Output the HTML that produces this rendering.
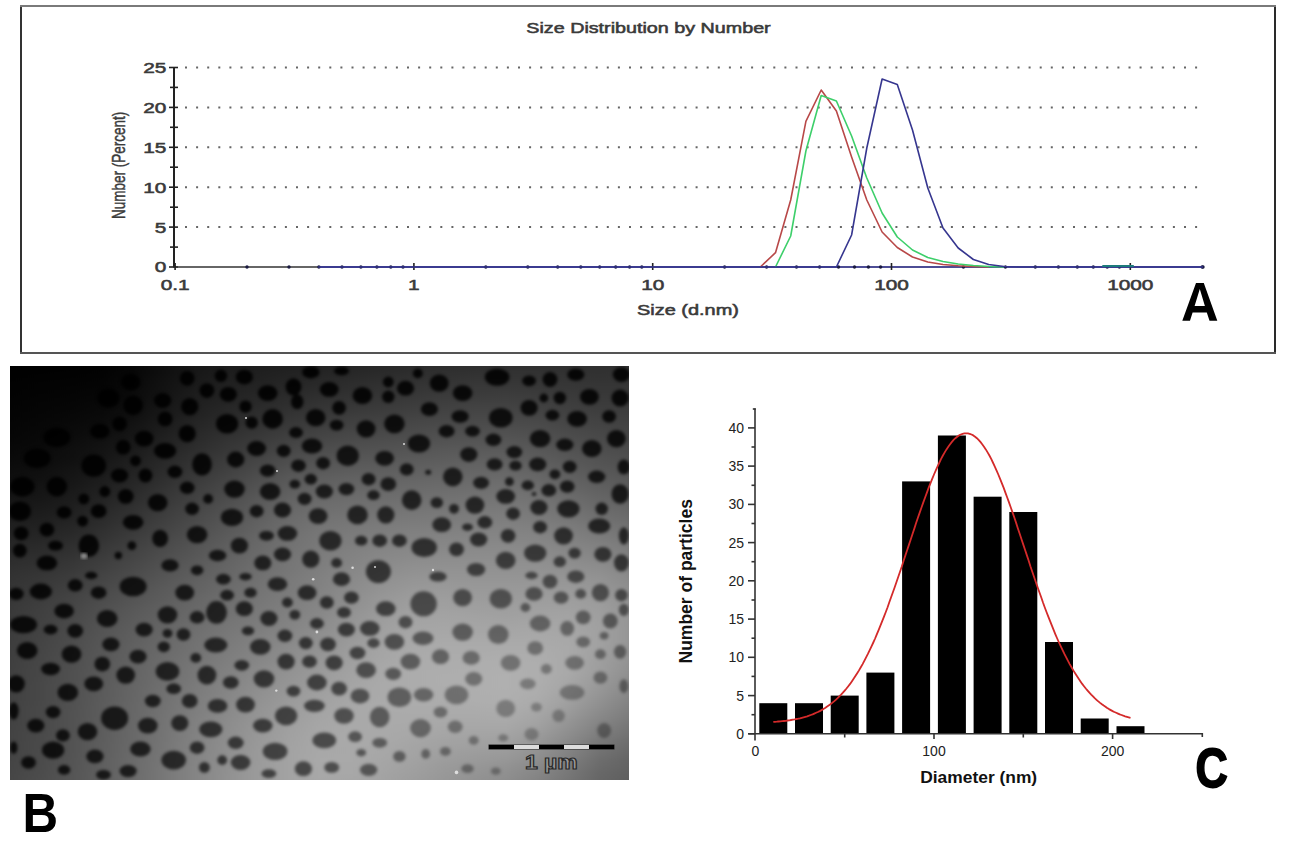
<!DOCTYPE html>
<html><head><meta charset="utf-8"><style>
html,body{margin:0;padding:0;background:#fff;width:1289px;height:841px;overflow:hidden}
svg{position:absolute;left:0;top:0;display:block;font-family:"Liberation Sans",sans-serif}
</style></head><body>
<svg width="1289" height="841" viewBox="0 0 1289 841">
<line x1="21" y1="5" x2="21" y2="354" stroke="#333" stroke-width="2"/>
<line x1="1275" y1="5" x2="1275" y2="354" stroke="#2a2a2a" stroke-width="2"/>
<line x1="20" y1="6" x2="1276" y2="6" stroke="#7a7a7a" stroke-width="2"/>
<line x1="20" y1="353" x2="1276" y2="353" stroke="#555" stroke-width="2"/>
<line x1="185" y1="227.1" x2="1203" y2="227.1" stroke="#666" stroke-width="2" stroke-dasharray="2 9.1"/>
<line x1="185" y1="187.2" x2="1203" y2="187.2" stroke="#666" stroke-width="2" stroke-dasharray="2 9.1"/>
<line x1="185" y1="147.3" x2="1203" y2="147.3" stroke="#666" stroke-width="2" stroke-dasharray="2 9.1"/>
<line x1="185" y1="107.4" x2="1203" y2="107.4" stroke="#666" stroke-width="2" stroke-dasharray="2 9.1"/>
<line x1="185" y1="67.5" x2="1203" y2="67.5" stroke="#666" stroke-width="2" stroke-dasharray="2 9.1"/>
<line x1="174" y1="67" x2="174" y2="267.5" stroke="#222" stroke-width="2"/>
<line x1="169" y1="267.0" x2="178" y2="267.0" stroke="#222" stroke-width="1.6"/>
<line x1="170" y1="247.1" x2="178" y2="247.1" stroke="#222" stroke-width="1.6"/>
<line x1="169" y1="227.1" x2="178" y2="227.1" stroke="#222" stroke-width="1.6"/>
<line x1="170" y1="207.2" x2="178" y2="207.2" stroke="#222" stroke-width="1.6"/>
<line x1="169" y1="187.2" x2="178" y2="187.2" stroke="#222" stroke-width="1.6"/>
<line x1="170" y1="167.2" x2="178" y2="167.2" stroke="#222" stroke-width="1.6"/>
<line x1="169" y1="147.3" x2="178" y2="147.3" stroke="#222" stroke-width="1.6"/>
<line x1="170" y1="127.3" x2="178" y2="127.3" stroke="#222" stroke-width="1.6"/>
<line x1="169" y1="107.4" x2="178" y2="107.4" stroke="#222" stroke-width="1.6"/>
<line x1="170" y1="87.4" x2="178" y2="87.4" stroke="#222" stroke-width="1.6"/>
<line x1="169" y1="67.5" x2="178" y2="67.5" stroke="#222" stroke-width="1.6"/>
<line x1="174" y1="267" x2="1203" y2="267" stroke="#333" stroke-width="1.6"/>
<line x1="318.9" y1="267" x2="1203" y2="267" stroke="#4646a6" stroke-width="1.3"/>
<line x1="175.1" y1="263" x2="175.1" y2="270" stroke="#222" stroke-width="1.6"/>
<circle cx="247.0" cy="267" r="1.7" fill="#1a1a40"/>
<circle cx="289.0" cy="267" r="1.7" fill="#1a1a40"/>
<circle cx="318.9" cy="267" r="1.7" fill="#1a1a40"/>
<circle cx="342.0" cy="267" r="1.7" fill="#1a1a40"/>
<circle cx="360.9" cy="267" r="1.7" fill="#1a1a40"/>
<circle cx="376.9" cy="267" r="1.7" fill="#1a1a40"/>
<circle cx="390.8" cy="267" r="1.7" fill="#1a1a40"/>
<circle cx="403.0" cy="267" r="1.7" fill="#1a1a40"/>
<line x1="413.9" y1="263" x2="413.9" y2="270" stroke="#222" stroke-width="1.6"/>
<circle cx="485.8" cy="267" r="1.7" fill="#1a1a40"/>
<circle cx="527.8" cy="267" r="1.7" fill="#1a1a40"/>
<circle cx="557.7" cy="267" r="1.7" fill="#1a1a40"/>
<circle cx="580.8" cy="267" r="1.7" fill="#1a1a40"/>
<circle cx="599.7" cy="267" r="1.7" fill="#1a1a40"/>
<circle cx="615.7" cy="267" r="1.7" fill="#1a1a40"/>
<circle cx="629.6" cy="267" r="1.7" fill="#1a1a40"/>
<circle cx="641.8" cy="267" r="1.7" fill="#1a1a40"/>
<line x1="652.7" y1="263" x2="652.7" y2="270" stroke="#222" stroke-width="1.6"/>
<circle cx="724.6" cy="267" r="1.7" fill="#1a1a40"/>
<circle cx="766.6" cy="267" r="1.7" fill="#1a1a40"/>
<circle cx="796.5" cy="267" r="1.7" fill="#1a1a40"/>
<circle cx="819.6" cy="267" r="1.7" fill="#1a1a40"/>
<circle cx="838.5" cy="267" r="1.7" fill="#1a1a40"/>
<circle cx="854.5" cy="267" r="1.7" fill="#1a1a40"/>
<circle cx="868.4" cy="267" r="1.7" fill="#1a1a40"/>
<circle cx="880.6" cy="267" r="1.7" fill="#1a1a40"/>
<line x1="891.5" y1="263" x2="891.5" y2="270" stroke="#222" stroke-width="1.6"/>
<circle cx="963.4" cy="267" r="1.7" fill="#1a1a40"/>
<circle cx="1005.4" cy="267" r="1.7" fill="#1a1a40"/>
<circle cx="1035.3" cy="267" r="1.7" fill="#1a1a40"/>
<circle cx="1058.4" cy="267" r="1.7" fill="#1a1a40"/>
<circle cx="1077.3" cy="267" r="1.7" fill="#1a1a40"/>
<circle cx="1093.3" cy="267" r="1.7" fill="#1a1a40"/>
<circle cx="1107.2" cy="267" r="1.7" fill="#1a1a40"/>
<circle cx="1119.4" cy="267" r="1.7" fill="#1a1a40"/>
<line x1="1130.3" y1="263" x2="1130.3" y2="270" stroke="#222" stroke-width="1.6"/>
<circle cx="1202.2" cy="267" r="1.7" fill="#1a1a40"/>
<circle cx="1203" cy="267" r="1.7" fill="#1a1a40"/>
<text x="0" y="0" font-family="Liberation Sans" fill="#3a3a3a" stroke="#3a3a3a" stroke-width="0.55" font-size="15.3" text-anchor="end" transform="translate(166.3 272.4) scale(1.36 1)">0</text>
<text x="0" y="0" font-family="Liberation Sans" fill="#3a3a3a" stroke="#3a3a3a" stroke-width="0.55" font-size="15.3" text-anchor="end" transform="translate(166.3 232.5) scale(1.36 1)">5</text>
<text x="0" y="0" font-family="Liberation Sans" fill="#3a3a3a" stroke="#3a3a3a" stroke-width="0.55" font-size="15.3" text-anchor="end" transform="translate(166.3 192.6) scale(1.36 1)">10</text>
<text x="0" y="0" font-family="Liberation Sans" fill="#3a3a3a" stroke="#3a3a3a" stroke-width="0.55" font-size="15.3" text-anchor="end" transform="translate(166.3 152.7) scale(1.36 1)">15</text>
<text x="0" y="0" font-family="Liberation Sans" fill="#3a3a3a" stroke="#3a3a3a" stroke-width="0.55" font-size="15.3" text-anchor="end" transform="translate(166.3 112.8) scale(1.36 1)">20</text>
<text x="0" y="0" font-family="Liberation Sans" fill="#3a3a3a" stroke="#3a3a3a" stroke-width="0.55" font-size="15.3" text-anchor="end" transform="translate(166.3 72.9) scale(1.36 1)">25</text>
<text x="0" y="0" font-family="Liberation Sans" fill="#3a3a3a" stroke="#3a3a3a" stroke-width="0.55" font-size="15.3" text-anchor="middle" transform="translate(175.1 290) scale(1.36 1)">0.1</text>
<text x="0" y="0" font-family="Liberation Sans" fill="#3a3a3a" stroke="#3a3a3a" stroke-width="0.55" font-size="15.3" text-anchor="middle" transform="translate(413.9 290) scale(1.36 1)">1</text>
<text x="0" y="0" font-family="Liberation Sans" fill="#3a3a3a" stroke="#3a3a3a" stroke-width="0.55" font-size="15.3" text-anchor="middle" transform="translate(652.7 290) scale(1.36 1)">10</text>
<text x="0" y="0" font-family="Liberation Sans" fill="#3a3a3a" stroke="#3a3a3a" stroke-width="0.55" font-size="15.3" text-anchor="middle" transform="translate(891.5 290) scale(1.36 1)">100</text>
<text x="0" y="0" font-family="Liberation Sans" fill="#3a3a3a" stroke="#3a3a3a" stroke-width="0.55" font-size="15.3" text-anchor="middle" transform="translate(1130.3 290) scale(1.36 1)">1000</text>
<text x="0" y="0" font-family="Liberation Sans" font-size="15" fill="#3a3a3a" stroke="#3a3a3a" stroke-width="0.55" text-anchor="middle" transform="translate(648.5 32.8) scale(1.315 1)">Size Distribution by Number</text>
<text x="0" y="0" font-family="Liberation Sans" font-size="15" fill="#3a3a3a" stroke="#3a3a3a" stroke-width="0.55" text-anchor="middle" transform="translate(688 314.7) scale(1.33 1)">Size (d.nm)</text>
<text x="0" y="0" font-family="Liberation Sans" font-size="15" fill="#3a3a3a" stroke="#3a3a3a" stroke-width="0.4" text-anchor="middle" transform="translate(124.7 165.3) rotate(-90) scale(0.9 1.21)">Number (Percent)</text>
<path d="M1182.3 320.8 L1196 282.9 L1203.8 282.9 L1217.3 320.8 L1209.5 320.8 L1206.8 312.5 L1192.6 312.5 L1190 320.8 Z M1194.6 305.9 L1204.9 305.9 L1199.8 289 Z" fill="#000" fill-rule="evenodd"/>
<polyline fill="none" stroke="#b84848" stroke-width="1.6" stroke-linejoin="round" points="760.3,267.0 775.5,252.7 790.7,200.0 805.9,121.4 821.2,90.0 836.4,111.0 851.6,157.0 866.8,200.0 882.1,232.0 897.3,247.5 912.5,257.0 927.8,262.0 943.0,264.5 958.2,265.8 973.4,266.5 988.7,267.0"/>
<polyline fill="none" stroke="#3dcf6a" stroke-width="1.6" stroke-linejoin="round" points="775.5,267.0 790.7,236.0 805.9,151.0 821.2,95.5 836.4,101.0 851.6,136.0 866.8,178.0 882.1,213.0 897.3,237.0 912.5,250.0 927.8,257.5 943.0,261.5 958.2,264.0 973.4,265.5 988.7,266.5 1003.9,267.0"/>
<polyline fill="none" stroke="#36368f" stroke-width="1.6" stroke-linejoin="round" points="318.2,267.0 836.4,267.0 851.6,235.0 866.8,148.0 882.1,79.0 897.3,84.5 912.5,130.0 927.8,188.0 943.0,228.0 958.2,248.0 973.4,259.5 988.7,264.5 1003.9,266.5 1019.0,267.0 1203.0,267.0"/>
<line x1="1102.3" y1="266" x2="1133.8" y2="266" stroke="#1d7b7b" stroke-width="2"/>
<rect x="759.3" y="703.2" width="28" height="30.6" fill="#000"/>
<rect x="795.0" y="703.2" width="28" height="30.6" fill="#000"/>
<rect x="830.7" y="695.6" width="28" height="38.2" fill="#000"/>
<rect x="866.4" y="672.6" width="28" height="61.2" fill="#000"/>
<rect x="902.1" y="481.4" width="28" height="252.4" fill="#000"/>
<rect x="937.9" y="435.5" width="28" height="298.3" fill="#000"/>
<rect x="973.6" y="496.7" width="28" height="237.1" fill="#000"/>
<rect x="1009.3" y="512.0" width="28" height="221.8" fill="#000"/>
<rect x="1045.0" y="642.0" width="28" height="91.8" fill="#000"/>
<rect x="1080.7" y="718.5" width="28" height="15.3" fill="#000"/>
<rect x="1116.5" y="726.2" width="28" height="7.6" fill="#000"/>
<line x1="755" y1="408.5" x2="755" y2="740.5" stroke="#333" stroke-width="1.6"/>
<line x1="752.8" y1="409" x2="755.8" y2="409" stroke="#333" stroke-width="1.6"/>
<line x1="748.5" y1="733.8" x2="1202.8" y2="733.8" stroke="#333" stroke-width="1.6"/>
<line x1="1202.3" y1="733" x2="1202.3" y2="737" stroke="#333" stroke-width="1.6"/>
<line x1="748" y1="733.8" x2="755" y2="733.8" stroke="#333" stroke-width="1.6"/>
<line x1="751.5" y1="714.7" x2="755" y2="714.7" stroke="#333" stroke-width="1.6"/>
<line x1="748" y1="695.6" x2="755" y2="695.6" stroke="#333" stroke-width="1.6"/>
<line x1="751.5" y1="676.4" x2="755" y2="676.4" stroke="#333" stroke-width="1.6"/>
<line x1="748" y1="657.3" x2="755" y2="657.3" stroke="#333" stroke-width="1.6"/>
<line x1="751.5" y1="638.2" x2="755" y2="638.2" stroke="#333" stroke-width="1.6"/>
<line x1="748" y1="619.1" x2="755" y2="619.1" stroke="#333" stroke-width="1.6"/>
<line x1="751.5" y1="600.0" x2="755" y2="600.0" stroke="#333" stroke-width="1.6"/>
<line x1="748" y1="580.8" x2="755" y2="580.8" stroke="#333" stroke-width="1.6"/>
<line x1="751.5" y1="561.7" x2="755" y2="561.7" stroke="#333" stroke-width="1.6"/>
<line x1="748" y1="542.6" x2="755" y2="542.6" stroke="#333" stroke-width="1.6"/>
<line x1="751.5" y1="523.5" x2="755" y2="523.5" stroke="#333" stroke-width="1.6"/>
<line x1="748" y1="504.4" x2="755" y2="504.4" stroke="#333" stroke-width="1.6"/>
<line x1="751.5" y1="485.3" x2="755" y2="485.3" stroke="#333" stroke-width="1.6"/>
<line x1="748" y1="466.1" x2="755" y2="466.1" stroke="#333" stroke-width="1.6"/>
<line x1="751.5" y1="447.0" x2="755" y2="447.0" stroke="#333" stroke-width="1.6"/>
<line x1="748" y1="427.9" x2="755" y2="427.9" stroke="#333" stroke-width="1.6"/>
<line x1="844.7" y1="733.8" x2="844.7" y2="737.5" stroke="#333" stroke-width="1.6"/>
<line x1="934.0" y1="733.8" x2="934.0" y2="739" stroke="#333" stroke-width="1.6"/>
<line x1="1023.3" y1="733.8" x2="1023.3" y2="737.5" stroke="#333" stroke-width="1.6"/>
<line x1="1112.6" y1="733.8" x2="1112.6" y2="739" stroke="#333" stroke-width="1.6"/>
<polyline fill="none" stroke="#d42a2a" stroke-width="1.8" stroke-linejoin="round" points="773.3,721.9 775.0,721.8 776.8,721.7 778.6,721.5 780.4,721.4 782.2,721.2 784.0,721.0 785.8,720.8 787.5,720.5 789.3,720.3 791.1,720.0 792.9,719.7 794.7,719.4 796.5,719.0 798.3,718.7 800.0,718.3 801.8,717.8 803.6,717.3 805.4,716.8 807.2,716.3 809.0,715.7 810.8,715.0 812.6,714.4 814.3,713.6 816.1,712.8 817.9,712.0 819.7,711.1 821.5,710.1 823.3,709.1 825.1,708.0 826.8,706.8 828.6,705.6 830.4,704.3 832.2,702.9 834.0,701.4 835.8,699.8 837.6,698.2 839.3,696.4 841.1,694.6 842.9,692.7 844.7,690.6 846.5,688.5 848.3,686.2 850.1,683.9 851.8,681.4 853.6,678.8 855.4,676.1 857.2,673.3 859.0,670.4 860.8,667.3 862.6,664.1 864.3,660.8 866.1,657.4 867.9,653.9 869.7,650.2 871.5,646.4 873.3,642.5 875.1,638.5 876.8,634.3 878.6,630.1 880.4,625.7 882.2,621.2 884.0,616.6 885.8,612.0 887.6,607.2 889.3,602.3 891.1,597.3 892.9,592.3 894.7,587.2 896.5,582.0 898.3,576.8 900.1,571.5 901.9,566.2 903.6,560.8 905.4,555.4 907.2,550.0 909.0,544.6 910.8,539.2 912.6,533.8 914.4,528.4 916.1,523.1 917.9,517.8 919.7,512.6 921.5,507.5 923.3,502.4 925.1,497.5 926.9,492.6 928.6,487.9 930.4,483.3 932.2,478.8 934.0,474.5 935.8,470.3 937.6,466.3 939.4,462.5 941.1,458.9 942.9,455.5 944.7,452.4 946.5,449.4 948.3,446.7 950.1,444.2 951.9,441.9 953.6,439.9 955.4,438.2 957.2,436.7 959.0,435.4 960.8,434.5 962.6,433.8 964.4,433.4 966.1,433.3 967.9,433.4 969.7,433.8 971.5,434.5 973.3,435.4 975.1,436.7 976.9,438.2 978.6,439.9 980.4,441.9 982.2,444.2 984.0,446.7 985.8,449.4 987.6,452.4 989.4,455.5 991.2,458.9 992.9,462.5 994.7,466.3 996.5,470.3 998.3,474.5 1000.1,478.8 1001.9,483.3 1003.7,487.9 1005.4,492.6 1007.2,497.5 1009.0,502.4 1010.8,507.5 1012.6,512.6 1014.4,517.8 1016.2,523.1 1017.9,528.4 1019.7,533.8 1021.5,539.2 1023.3,544.6 1025.1,550.0 1026.9,555.4 1028.7,560.8 1030.4,566.2 1032.2,571.5 1034.0,576.8 1035.8,582.0 1037.6,587.2 1039.4,592.3 1041.2,597.3 1042.9,602.3 1044.7,607.2 1046.5,612.0 1048.3,616.6 1050.1,621.2 1051.9,625.7 1053.7,630.1 1055.4,634.3 1057.2,638.5 1059.0,642.5 1060.8,646.4 1062.6,650.2 1064.4,653.9 1066.2,657.4 1068.0,660.8 1069.7,664.1 1071.5,667.3 1073.3,670.4 1075.1,673.3 1076.9,676.1 1078.7,678.8 1080.5,681.4 1082.2,683.9 1084.0,686.2 1085.8,688.5 1087.6,690.6 1089.4,692.7 1091.2,694.6 1093.0,696.4 1094.7,698.2 1096.5,699.8 1098.3,701.4 1100.1,702.9 1101.9,704.3 1103.7,705.6 1105.5,706.8 1107.2,708.0 1109.0,709.1 1110.8,710.1 1112.6,711.1 1114.4,712.0 1116.2,712.8 1118.0,713.6 1119.7,714.4 1121.5,715.0 1123.3,715.7 1125.1,716.3 1126.9,716.8 1128.7,717.3 1130.5,717.8"/>
<text x="744" y="738.8" font-family="Liberation Sans" fill="#222" font-size="14" text-anchor="end">0</text>
<text x="744" y="700.6" font-family="Liberation Sans" fill="#222" font-size="14" text-anchor="end">5</text>
<text x="744" y="662.3" font-family="Liberation Sans" fill="#222" font-size="14" text-anchor="end">10</text>
<text x="744" y="624.1" font-family="Liberation Sans" fill="#222" font-size="14" text-anchor="end">15</text>
<text x="744" y="585.8" font-family="Liberation Sans" fill="#222" font-size="14" text-anchor="end">20</text>
<text x="744" y="547.6" font-family="Liberation Sans" fill="#222" font-size="14" text-anchor="end">25</text>
<text x="744" y="509.4" font-family="Liberation Sans" fill="#222" font-size="14" text-anchor="end">30</text>
<text x="744" y="471.1" font-family="Liberation Sans" fill="#222" font-size="14" text-anchor="end">35</text>
<text x="744" y="432.9" font-family="Liberation Sans" fill="#222" font-size="14" text-anchor="end">40</text>
<text x="755.4" y="755.6" font-family="Liberation Sans" fill="#222" font-size="14" text-anchor="middle">0</text>
<text x="934.0" y="755.6" font-family="Liberation Sans" fill="#222" font-size="14" text-anchor="middle">100</text>
<text x="1112.6" y="755.6" font-family="Liberation Sans" fill="#222" font-size="14" text-anchor="middle">200</text>
<text x="978.7" y="783" font-family="Liberation Sans" font-weight="700" fill="#111" font-size="17.4" text-anchor="middle">Diameter (nm)</text>
<text x="0" y="0" font-family="Liberation Sans" font-weight="700" fill="#111" font-size="17.5" text-anchor="middle" transform="translate(692 581.3) rotate(-90)">Number of particles</text>
<text x="0" y="0" font-family="Liberation Sans" font-weight="700" fill="#000" font-size="55.8" stroke="#000" stroke-width="1.8" transform="translate(1195.5 787.1) scale(0.80 1)">C</text>
<text x="0" y="0" font-family="Liberation Sans" font-weight="700" fill="#000" font-size="56.3" transform="translate(22.5 831.8) scale(0.875 1)">B</text>
<defs>
<clipPath id="tc"><rect x="10" y="366" width="619" height="414"/></clipPath>
<filter id="bl" color-interpolation-filters="sRGB" x="-5%" y="-5%" width="110%" height="110%"><feGaussianBlur stdDeviation="1.5"/></filter>
<filter id="bv" color-interpolation-filters="sRGB" x="0" y="-5%" width="100%" height="110%"><feGaussianBlur stdDeviation="0 2"/></filter>
<linearGradient id="s0" gradientUnits="objectBoundingBox" x1="0" y1="0" x2="1" y2="0"><stop offset="0.000" stop-color="#000000"/><stop offset="0.050" stop-color="#010101"/><stop offset="0.100" stop-color="#010101"/><stop offset="0.150" stop-color="#020202"/><stop offset="0.200" stop-color="#070707"/><stop offset="0.250" stop-color="#0e0e0e"/><stop offset="0.300" stop-color="#161616"/><stop offset="0.351" stop-color="#1b1b1b"/><stop offset="0.401" stop-color="#1d1d1d"/><stop offset="0.451" stop-color="#202020"/><stop offset="0.501" stop-color="#222222"/><stop offset="0.551" stop-color="#252525"/><stop offset="0.601" stop-color="#282828"/><stop offset="0.651" stop-color="#2b2b2b"/><stop offset="0.701" stop-color="#2d2d2d"/><stop offset="0.751" stop-color="#2f2f2f"/><stop offset="0.801" stop-color="#2f2f2f"/><stop offset="0.851" stop-color="#2f2f2f"/><stop offset="0.901" stop-color="#2f2f2f"/><stop offset="0.952" stop-color="#2f2f2f"/><stop offset="1.000" stop-color="#303030"/></linearGradient>
<linearGradient id="s1" gradientUnits="objectBoundingBox" x1="0" y1="0" x2="1" y2="0"><stop offset="0.000" stop-color="#000000"/><stop offset="0.050" stop-color="#010101"/><stop offset="0.100" stop-color="#010101"/><stop offset="0.150" stop-color="#020202"/><stop offset="0.200" stop-color="#070707"/><stop offset="0.250" stop-color="#0e0e0e"/><stop offset="0.300" stop-color="#161616"/><stop offset="0.351" stop-color="#1b1b1b"/><stop offset="0.401" stop-color="#1d1d1d"/><stop offset="0.451" stop-color="#202020"/><stop offset="0.501" stop-color="#222222"/><stop offset="0.551" stop-color="#252525"/><stop offset="0.601" stop-color="#282828"/><stop offset="0.651" stop-color="#2b2b2b"/><stop offset="0.701" stop-color="#2d2d2d"/><stop offset="0.751" stop-color="#2f2f2f"/><stop offset="0.801" stop-color="#2f2f2f"/><stop offset="0.851" stop-color="#2f2f2f"/><stop offset="0.901" stop-color="#2f2f2f"/><stop offset="0.952" stop-color="#2f2f2f"/><stop offset="1.000" stop-color="#303030"/></linearGradient>
<linearGradient id="s2" gradientUnits="objectBoundingBox" x1="0" y1="0" x2="1" y2="0"><stop offset="0.000" stop-color="#000000"/><stop offset="0.050" stop-color="#010101"/><stop offset="0.100" stop-color="#010101"/><stop offset="0.150" stop-color="#020202"/><stop offset="0.200" stop-color="#070707"/><stop offset="0.250" stop-color="#0f0f0f"/><stop offset="0.300" stop-color="#171717"/><stop offset="0.351" stop-color="#1c1c1c"/><stop offset="0.401" stop-color="#1e1e1e"/><stop offset="0.451" stop-color="#202020"/><stop offset="0.501" stop-color="#232323"/><stop offset="0.551" stop-color="#262626"/><stop offset="0.601" stop-color="#292929"/><stop offset="0.651" stop-color="#2c2c2c"/><stop offset="0.701" stop-color="#2e2e2e"/><stop offset="0.751" stop-color="#2f2f2f"/><stop offset="0.801" stop-color="#303030"/><stop offset="0.851" stop-color="#303030"/><stop offset="0.901" stop-color="#303030"/><stop offset="0.952" stop-color="#303030"/><stop offset="1.000" stop-color="#313131"/></linearGradient>
<linearGradient id="s3" gradientUnits="objectBoundingBox" x1="0" y1="0" x2="1" y2="0"><stop offset="0.000" stop-color="#010101"/><stop offset="0.050" stop-color="#010101"/><stop offset="0.100" stop-color="#020202"/><stop offset="0.150" stop-color="#030303"/><stop offset="0.200" stop-color="#070707"/><stop offset="0.250" stop-color="#0f0f0f"/><stop offset="0.300" stop-color="#171717"/><stop offset="0.351" stop-color="#1d1d1d"/><stop offset="0.401" stop-color="#1f1f1f"/><stop offset="0.451" stop-color="#222222"/><stop offset="0.501" stop-color="#242424"/><stop offset="0.551" stop-color="#272727"/><stop offset="0.601" stop-color="#2a2a2a"/><stop offset="0.651" stop-color="#2d2d2d"/><stop offset="0.701" stop-color="#303030"/><stop offset="0.751" stop-color="#313131"/><stop offset="0.801" stop-color="#323232"/><stop offset="0.851" stop-color="#323232"/><stop offset="0.901" stop-color="#313131"/><stop offset="0.952" stop-color="#313131"/><stop offset="1.000" stop-color="#323232"/></linearGradient>
<linearGradient id="s4" gradientUnits="objectBoundingBox" x1="0" y1="0" x2="1" y2="0"><stop offset="0.000" stop-color="#010101"/><stop offset="0.050" stop-color="#020202"/><stop offset="0.100" stop-color="#020202"/><stop offset="0.150" stop-color="#030303"/><stop offset="0.200" stop-color="#080808"/><stop offset="0.250" stop-color="#101010"/><stop offset="0.300" stop-color="#181818"/><stop offset="0.351" stop-color="#1e1e1e"/><stop offset="0.401" stop-color="#202020"/><stop offset="0.451" stop-color="#232323"/><stop offset="0.501" stop-color="#262626"/><stop offset="0.551" stop-color="#292929"/><stop offset="0.601" stop-color="#2c2c2c"/><stop offset="0.651" stop-color="#2f2f2f"/><stop offset="0.701" stop-color="#313131"/><stop offset="0.751" stop-color="#333333"/><stop offset="0.801" stop-color="#333333"/><stop offset="0.851" stop-color="#333333"/><stop offset="0.901" stop-color="#333333"/><stop offset="0.952" stop-color="#323232"/><stop offset="1.000" stop-color="#333333"/></linearGradient>
<linearGradient id="s5" gradientUnits="objectBoundingBox" x1="0" y1="0" x2="1" y2="0"><stop offset="0.000" stop-color="#010101"/><stop offset="0.050" stop-color="#020202"/><stop offset="0.100" stop-color="#030303"/><stop offset="0.150" stop-color="#040404"/><stop offset="0.200" stop-color="#090909"/><stop offset="0.250" stop-color="#111111"/><stop offset="0.300" stop-color="#191919"/><stop offset="0.351" stop-color="#1f1f1f"/><stop offset="0.401" stop-color="#212121"/><stop offset="0.451" stop-color="#252525"/><stop offset="0.501" stop-color="#282828"/><stop offset="0.551" stop-color="#2b2b2b"/><stop offset="0.601" stop-color="#2e2e2e"/><stop offset="0.651" stop-color="#313131"/><stop offset="0.701" stop-color="#333333"/><stop offset="0.751" stop-color="#353535"/><stop offset="0.801" stop-color="#353535"/><stop offset="0.851" stop-color="#353535"/><stop offset="0.901" stop-color="#343434"/><stop offset="0.952" stop-color="#333333"/><stop offset="1.000" stop-color="#343434"/></linearGradient>
<linearGradient id="s6" gradientUnits="objectBoundingBox" x1="0" y1="0" x2="1" y2="0"><stop offset="0.000" stop-color="#020202"/><stop offset="0.050" stop-color="#030303"/><stop offset="0.100" stop-color="#030303"/><stop offset="0.150" stop-color="#040404"/><stop offset="0.200" stop-color="#090909"/><stop offset="0.250" stop-color="#121212"/><stop offset="0.300" stop-color="#1a1a1a"/><stop offset="0.351" stop-color="#202020"/><stop offset="0.401" stop-color="#232323"/><stop offset="0.451" stop-color="#262626"/><stop offset="0.501" stop-color="#292929"/><stop offset="0.551" stop-color="#2d2d2d"/><stop offset="0.601" stop-color="#303030"/><stop offset="0.651" stop-color="#333333"/><stop offset="0.701" stop-color="#353535"/><stop offset="0.751" stop-color="#373737"/><stop offset="0.801" stop-color="#373737"/><stop offset="0.851" stop-color="#373737"/><stop offset="0.901" stop-color="#363636"/><stop offset="0.952" stop-color="#353535"/><stop offset="1.000" stop-color="#353535"/></linearGradient>
<linearGradient id="s7" gradientUnits="objectBoundingBox" x1="0" y1="0" x2="1" y2="0"><stop offset="0.000" stop-color="#020202"/><stop offset="0.050" stop-color="#030303"/><stop offset="0.100" stop-color="#040404"/><stop offset="0.150" stop-color="#050505"/><stop offset="0.200" stop-color="#0a0a0a"/><stop offset="0.250" stop-color="#121212"/><stop offset="0.300" stop-color="#1b1b1b"/><stop offset="0.351" stop-color="#212121"/><stop offset="0.401" stop-color="#242424"/><stop offset="0.451" stop-color="#282828"/><stop offset="0.501" stop-color="#2b2b2b"/><stop offset="0.551" stop-color="#2e2e2e"/><stop offset="0.601" stop-color="#323232"/><stop offset="0.651" stop-color="#353535"/><stop offset="0.701" stop-color="#373737"/><stop offset="0.751" stop-color="#393939"/><stop offset="0.801" stop-color="#393939"/><stop offset="0.851" stop-color="#383838"/><stop offset="0.901" stop-color="#373737"/><stop offset="0.952" stop-color="#363636"/><stop offset="1.000" stop-color="#363636"/></linearGradient>
<linearGradient id="s8" gradientUnits="objectBoundingBox" x1="0" y1="0" x2="1" y2="0"><stop offset="0.000" stop-color="#020202"/><stop offset="0.050" stop-color="#030303"/><stop offset="0.100" stop-color="#040404"/><stop offset="0.150" stop-color="#060606"/><stop offset="0.200" stop-color="#0b0b0b"/><stop offset="0.250" stop-color="#131313"/><stop offset="0.300" stop-color="#1c1c1c"/><stop offset="0.351" stop-color="#222222"/><stop offset="0.401" stop-color="#252525"/><stop offset="0.451" stop-color="#292929"/><stop offset="0.501" stop-color="#2d2d2d"/><stop offset="0.551" stop-color="#303030"/><stop offset="0.601" stop-color="#333333"/><stop offset="0.651" stop-color="#363636"/><stop offset="0.701" stop-color="#393939"/><stop offset="0.751" stop-color="#3a3a3a"/><stop offset="0.801" stop-color="#3b3b3b"/><stop offset="0.851" stop-color="#3a3a3a"/><stop offset="0.901" stop-color="#393939"/><stop offset="0.952" stop-color="#373737"/><stop offset="1.000" stop-color="#373737"/></linearGradient>
<linearGradient id="s9" gradientUnits="objectBoundingBox" x1="0" y1="0" x2="1" y2="0"><stop offset="0.000" stop-color="#020202"/><stop offset="0.050" stop-color="#040404"/><stop offset="0.100" stop-color="#050505"/><stop offset="0.150" stop-color="#060606"/><stop offset="0.200" stop-color="#0b0b0b"/><stop offset="0.250" stop-color="#141414"/><stop offset="0.300" stop-color="#1d1d1d"/><stop offset="0.351" stop-color="#232323"/><stop offset="0.401" stop-color="#272727"/><stop offset="0.451" stop-color="#2b2b2b"/><stop offset="0.501" stop-color="#2f2f2f"/><stop offset="0.551" stop-color="#323232"/><stop offset="0.601" stop-color="#353535"/><stop offset="0.651" stop-color="#383838"/><stop offset="0.701" stop-color="#3b3b3b"/><stop offset="0.751" stop-color="#3c3c3c"/><stop offset="0.801" stop-color="#3d3d3d"/><stop offset="0.851" stop-color="#3c3c3c"/><stop offset="0.901" stop-color="#3a3a3a"/><stop offset="0.952" stop-color="#393939"/><stop offset="1.000" stop-color="#383838"/></linearGradient>
<linearGradient id="s10" gradientUnits="objectBoundingBox" x1="0" y1="0" x2="1" y2="0"><stop offset="0.000" stop-color="#030303"/><stop offset="0.050" stop-color="#040404"/><stop offset="0.100" stop-color="#050505"/><stop offset="0.150" stop-color="#070707"/><stop offset="0.200" stop-color="#0c0c0c"/><stop offset="0.250" stop-color="#151515"/><stop offset="0.300" stop-color="#1e1e1e"/><stop offset="0.351" stop-color="#242424"/><stop offset="0.401" stop-color="#282828"/><stop offset="0.451" stop-color="#2d2d2d"/><stop offset="0.501" stop-color="#313131"/><stop offset="0.551" stop-color="#343434"/><stop offset="0.601" stop-color="#373737"/><stop offset="0.651" stop-color="#3a3a3a"/><stop offset="0.701" stop-color="#3d3d3d"/><stop offset="0.751" stop-color="#3e3e3e"/><stop offset="0.801" stop-color="#3f3f3f"/><stop offset="0.851" stop-color="#3e3e3e"/><stop offset="0.901" stop-color="#3c3c3c"/><stop offset="0.952" stop-color="#3a3a3a"/><stop offset="1.000" stop-color="#3a3a3a"/></linearGradient>
<linearGradient id="s11" gradientUnits="objectBoundingBox" x1="0" y1="0" x2="1" y2="0"><stop offset="0.000" stop-color="#030303"/><stop offset="0.050" stop-color="#050505"/><stop offset="0.100" stop-color="#060606"/><stop offset="0.150" stop-color="#080808"/><stop offset="0.200" stop-color="#0d0d0d"/><stop offset="0.250" stop-color="#161616"/><stop offset="0.300" stop-color="#1f1f1f"/><stop offset="0.351" stop-color="#252525"/><stop offset="0.401" stop-color="#292929"/><stop offset="0.451" stop-color="#2e2e2e"/><stop offset="0.501" stop-color="#333333"/><stop offset="0.551" stop-color="#363636"/><stop offset="0.601" stop-color="#393939"/><stop offset="0.651" stop-color="#3c3c3c"/><stop offset="0.701" stop-color="#3f3f3f"/><stop offset="0.751" stop-color="#414141"/><stop offset="0.801" stop-color="#414141"/><stop offset="0.851" stop-color="#404040"/><stop offset="0.901" stop-color="#3e3e3e"/><stop offset="0.952" stop-color="#3b3b3b"/><stop offset="1.000" stop-color="#3b3b3b"/></linearGradient>
<linearGradient id="s12" gradientUnits="objectBoundingBox" x1="0" y1="0" x2="1" y2="0"><stop offset="0.000" stop-color="#030303"/><stop offset="0.050" stop-color="#050505"/><stop offset="0.100" stop-color="#060606"/><stop offset="0.150" stop-color="#090909"/><stop offset="0.200" stop-color="#0e0e0e"/><stop offset="0.250" stop-color="#171717"/><stop offset="0.300" stop-color="#202020"/><stop offset="0.351" stop-color="#272727"/><stop offset="0.401" stop-color="#2b2b2b"/><stop offset="0.451" stop-color="#303030"/><stop offset="0.501" stop-color="#353535"/><stop offset="0.551" stop-color="#383838"/><stop offset="0.601" stop-color="#3b3b3b"/><stop offset="0.651" stop-color="#3e3e3e"/><stop offset="0.701" stop-color="#414141"/><stop offset="0.751" stop-color="#434343"/><stop offset="0.801" stop-color="#434343"/><stop offset="0.851" stop-color="#424242"/><stop offset="0.901" stop-color="#3f3f3f"/><stop offset="0.952" stop-color="#3d3d3d"/><stop offset="1.000" stop-color="#3c3c3c"/></linearGradient>
<linearGradient id="s13" gradientUnits="objectBoundingBox" x1="0" y1="0" x2="1" y2="0"><stop offset="0.000" stop-color="#040404"/><stop offset="0.050" stop-color="#050505"/><stop offset="0.100" stop-color="#070707"/><stop offset="0.150" stop-color="#090909"/><stop offset="0.200" stop-color="#0f0f0f"/><stop offset="0.250" stop-color="#181818"/><stop offset="0.300" stop-color="#212121"/><stop offset="0.351" stop-color="#282828"/><stop offset="0.401" stop-color="#2d2d2d"/><stop offset="0.451" stop-color="#323232"/><stop offset="0.501" stop-color="#373737"/><stop offset="0.551" stop-color="#3a3a3a"/><stop offset="0.601" stop-color="#3d3d3d"/><stop offset="0.651" stop-color="#404040"/><stop offset="0.701" stop-color="#434343"/><stop offset="0.751" stop-color="#454545"/><stop offset="0.801" stop-color="#454545"/><stop offset="0.851" stop-color="#444444"/><stop offset="0.901" stop-color="#414141"/><stop offset="0.952" stop-color="#3e3e3e"/><stop offset="1.000" stop-color="#3d3d3d"/></linearGradient>
<linearGradient id="s14" gradientUnits="objectBoundingBox" x1="0" y1="0" x2="1" y2="0"><stop offset="0.000" stop-color="#040404"/><stop offset="0.050" stop-color="#060606"/><stop offset="0.100" stop-color="#080808"/><stop offset="0.150" stop-color="#0a0a0a"/><stop offset="0.200" stop-color="#101010"/><stop offset="0.250" stop-color="#191919"/><stop offset="0.300" stop-color="#222222"/><stop offset="0.351" stop-color="#292929"/><stop offset="0.401" stop-color="#2e2e2e"/><stop offset="0.451" stop-color="#343434"/><stop offset="0.501" stop-color="#393939"/><stop offset="0.551" stop-color="#3d3d3d"/><stop offset="0.601" stop-color="#3f3f3f"/><stop offset="0.651" stop-color="#424242"/><stop offset="0.701" stop-color="#454545"/><stop offset="0.751" stop-color="#474747"/><stop offset="0.801" stop-color="#474747"/><stop offset="0.851" stop-color="#464646"/><stop offset="0.901" stop-color="#434343"/><stop offset="0.952" stop-color="#404040"/><stop offset="1.000" stop-color="#3f3f3f"/></linearGradient>
<linearGradient id="s15" gradientUnits="objectBoundingBox" x1="0" y1="0" x2="1" y2="0"><stop offset="0.000" stop-color="#040404"/><stop offset="0.050" stop-color="#060606"/><stop offset="0.100" stop-color="#080808"/><stop offset="0.150" stop-color="#0b0b0b"/><stop offset="0.200" stop-color="#111111"/><stop offset="0.250" stop-color="#1b1b1b"/><stop offset="0.300" stop-color="#242424"/><stop offset="0.351" stop-color="#2b2b2b"/><stop offset="0.401" stop-color="#303030"/><stop offset="0.451" stop-color="#363636"/><stop offset="0.501" stop-color="#3b3b3b"/><stop offset="0.551" stop-color="#3f3f3f"/><stop offset="0.601" stop-color="#424242"/><stop offset="0.651" stop-color="#454545"/><stop offset="0.701" stop-color="#474747"/><stop offset="0.751" stop-color="#494949"/><stop offset="0.801" stop-color="#494949"/><stop offset="0.851" stop-color="#484848"/><stop offset="0.901" stop-color="#454545"/><stop offset="0.952" stop-color="#424242"/><stop offset="1.000" stop-color="#404040"/></linearGradient>
<linearGradient id="s16" gradientUnits="objectBoundingBox" x1="0" y1="0" x2="1" y2="0"><stop offset="0.000" stop-color="#050505"/><stop offset="0.050" stop-color="#070707"/><stop offset="0.100" stop-color="#090909"/><stop offset="0.150" stop-color="#0c0c0c"/><stop offset="0.200" stop-color="#131313"/><stop offset="0.250" stop-color="#1c1c1c"/><stop offset="0.300" stop-color="#252525"/><stop offset="0.351" stop-color="#2c2c2c"/><stop offset="0.401" stop-color="#323232"/><stop offset="0.451" stop-color="#383838"/><stop offset="0.501" stop-color="#3d3d3d"/><stop offset="0.551" stop-color="#414141"/><stop offset="0.601" stop-color="#444444"/><stop offset="0.651" stop-color="#474747"/><stop offset="0.701" stop-color="#494949"/><stop offset="0.751" stop-color="#4b4b4b"/><stop offset="0.801" stop-color="#4b4b4b"/><stop offset="0.851" stop-color="#4a4a4a"/><stop offset="0.901" stop-color="#464646"/><stop offset="0.952" stop-color="#434343"/><stop offset="1.000" stop-color="#424242"/></linearGradient>
<linearGradient id="s17" gradientUnits="objectBoundingBox" x1="0" y1="0" x2="1" y2="0"><stop offset="0.000" stop-color="#050505"/><stop offset="0.050" stop-color="#070707"/><stop offset="0.100" stop-color="#0a0a0a"/><stop offset="0.150" stop-color="#0d0d0d"/><stop offset="0.200" stop-color="#141414"/><stop offset="0.250" stop-color="#1d1d1d"/><stop offset="0.300" stop-color="#262626"/><stop offset="0.351" stop-color="#2e2e2e"/><stop offset="0.401" stop-color="#343434"/><stop offset="0.451" stop-color="#3a3a3a"/><stop offset="0.501" stop-color="#404040"/><stop offset="0.551" stop-color="#434343"/><stop offset="0.601" stop-color="#464646"/><stop offset="0.651" stop-color="#494949"/><stop offset="0.701" stop-color="#4c4c4c"/><stop offset="0.751" stop-color="#4d4d4d"/><stop offset="0.801" stop-color="#4e4e4e"/><stop offset="0.851" stop-color="#4c4c4c"/><stop offset="0.901" stop-color="#484848"/><stop offset="0.952" stop-color="#454545"/><stop offset="1.000" stop-color="#434343"/></linearGradient>
<linearGradient id="s18" gradientUnits="objectBoundingBox" x1="0" y1="0" x2="1" y2="0"><stop offset="0.000" stop-color="#050505"/><stop offset="0.050" stop-color="#080808"/><stop offset="0.100" stop-color="#0a0a0a"/><stop offset="0.150" stop-color="#0e0e0e"/><stop offset="0.200" stop-color="#151515"/><stop offset="0.250" stop-color="#1e1e1e"/><stop offset="0.300" stop-color="#282828"/><stop offset="0.351" stop-color="#2f2f2f"/><stop offset="0.401" stop-color="#363636"/><stop offset="0.451" stop-color="#3d3d3d"/><stop offset="0.501" stop-color="#424242"/><stop offset="0.551" stop-color="#464646"/><stop offset="0.601" stop-color="#484848"/><stop offset="0.651" stop-color="#4b4b4b"/><stop offset="0.701" stop-color="#4e4e4e"/><stop offset="0.751" stop-color="#505050"/><stop offset="0.801" stop-color="#505050"/><stop offset="0.851" stop-color="#4e4e4e"/><stop offset="0.901" stop-color="#4a4a4a"/><stop offset="0.952" stop-color="#474747"/><stop offset="1.000" stop-color="#444444"/></linearGradient>
<linearGradient id="s19" gradientUnits="objectBoundingBox" x1="0" y1="0" x2="1" y2="0"><stop offset="0.000" stop-color="#060606"/><stop offset="0.050" stop-color="#080808"/><stop offset="0.100" stop-color="#0b0b0b"/><stop offset="0.150" stop-color="#0f0f0f"/><stop offset="0.200" stop-color="#161616"/><stop offset="0.250" stop-color="#202020"/><stop offset="0.300" stop-color="#292929"/><stop offset="0.351" stop-color="#313131"/><stop offset="0.401" stop-color="#383838"/><stop offset="0.451" stop-color="#3f3f3f"/><stop offset="0.501" stop-color="#444444"/><stop offset="0.551" stop-color="#484848"/><stop offset="0.601" stop-color="#4a4a4a"/><stop offset="0.651" stop-color="#4d4d4d"/><stop offset="0.701" stop-color="#505050"/><stop offset="0.751" stop-color="#525252"/><stop offset="0.801" stop-color="#525252"/><stop offset="0.851" stop-color="#505050"/><stop offset="0.901" stop-color="#4c4c4c"/><stop offset="0.952" stop-color="#484848"/><stop offset="1.000" stop-color="#464646"/></linearGradient>
<linearGradient id="s20" gradientUnits="objectBoundingBox" x1="0" y1="0" x2="1" y2="0"><stop offset="0.000" stop-color="#060606"/><stop offset="0.050" stop-color="#090909"/><stop offset="0.100" stop-color="#0c0c0c"/><stop offset="0.150" stop-color="#111111"/><stop offset="0.200" stop-color="#181818"/><stop offset="0.250" stop-color="#212121"/><stop offset="0.300" stop-color="#2a2a2a"/><stop offset="0.351" stop-color="#333333"/><stop offset="0.401" stop-color="#3a3a3a"/><stop offset="0.451" stop-color="#414141"/><stop offset="0.501" stop-color="#474747"/><stop offset="0.551" stop-color="#4a4a4a"/><stop offset="0.601" stop-color="#4d4d4d"/><stop offset="0.651" stop-color="#4f4f4f"/><stop offset="0.701" stop-color="#525252"/><stop offset="0.751" stop-color="#545454"/><stop offset="0.801" stop-color="#555555"/><stop offset="0.851" stop-color="#525252"/><stop offset="0.901" stop-color="#4e4e4e"/><stop offset="0.952" stop-color="#4a4a4a"/><stop offset="1.000" stop-color="#474747"/></linearGradient>
<linearGradient id="s21" gradientUnits="objectBoundingBox" x1="0" y1="0" x2="1" y2="0"><stop offset="0.000" stop-color="#070707"/><stop offset="0.050" stop-color="#090909"/><stop offset="0.100" stop-color="#0d0d0d"/><stop offset="0.150" stop-color="#121212"/><stop offset="0.200" stop-color="#191919"/><stop offset="0.250" stop-color="#222222"/><stop offset="0.300" stop-color="#2c2c2c"/><stop offset="0.351" stop-color="#353535"/><stop offset="0.401" stop-color="#3c3c3c"/><stop offset="0.451" stop-color="#444444"/><stop offset="0.501" stop-color="#494949"/><stop offset="0.551" stop-color="#4d4d4d"/><stop offset="0.601" stop-color="#4f4f4f"/><stop offset="0.651" stop-color="#525252"/><stop offset="0.701" stop-color="#545454"/><stop offset="0.751" stop-color="#565656"/><stop offset="0.801" stop-color="#575757"/><stop offset="0.851" stop-color="#545454"/><stop offset="0.901" stop-color="#505050"/><stop offset="0.952" stop-color="#4c4c4c"/><stop offset="1.000" stop-color="#494949"/></linearGradient>
<linearGradient id="s22" gradientUnits="objectBoundingBox" x1="0" y1="0" x2="1" y2="0"><stop offset="0.000" stop-color="#080808"/><stop offset="0.050" stop-color="#0a0a0a"/><stop offset="0.100" stop-color="#0e0e0e"/><stop offset="0.150" stop-color="#131313"/><stop offset="0.200" stop-color="#1a1a1a"/><stop offset="0.250" stop-color="#242424"/><stop offset="0.300" stop-color="#2d2d2d"/><stop offset="0.351" stop-color="#363636"/><stop offset="0.401" stop-color="#3e3e3e"/><stop offset="0.451" stop-color="#464646"/><stop offset="0.501" stop-color="#4c4c4c"/><stop offset="0.551" stop-color="#4f4f4f"/><stop offset="0.601" stop-color="#515151"/><stop offset="0.651" stop-color="#545454"/><stop offset="0.701" stop-color="#575757"/><stop offset="0.751" stop-color="#595959"/><stop offset="0.801" stop-color="#595959"/><stop offset="0.851" stop-color="#575757"/><stop offset="0.901" stop-color="#525252"/><stop offset="0.952" stop-color="#4d4d4d"/><stop offset="1.000" stop-color="#4b4b4b"/></linearGradient>
<linearGradient id="s23" gradientUnits="objectBoundingBox" x1="0" y1="0" x2="1" y2="0"><stop offset="0.000" stop-color="#080808"/><stop offset="0.050" stop-color="#0b0b0b"/><stop offset="0.100" stop-color="#0f0f0f"/><stop offset="0.150" stop-color="#141414"/><stop offset="0.200" stop-color="#1c1c1c"/><stop offset="0.250" stop-color="#252525"/><stop offset="0.300" stop-color="#2f2f2f"/><stop offset="0.351" stop-color="#383838"/><stop offset="0.401" stop-color="#404040"/><stop offset="0.451" stop-color="#484848"/><stop offset="0.501" stop-color="#4e4e4e"/><stop offset="0.551" stop-color="#515151"/><stop offset="0.601" stop-color="#545454"/><stop offset="0.651" stop-color="#565656"/><stop offset="0.701" stop-color="#595959"/><stop offset="0.751" stop-color="#5b5b5b"/><stop offset="0.801" stop-color="#5c5c5c"/><stop offset="0.851" stop-color="#595959"/><stop offset="0.901" stop-color="#545454"/><stop offset="0.952" stop-color="#4f4f4f"/><stop offset="1.000" stop-color="#4c4c4c"/></linearGradient>
<linearGradient id="s24" gradientUnits="objectBoundingBox" x1="0" y1="0" x2="1" y2="0"><stop offset="0.000" stop-color="#090909"/><stop offset="0.050" stop-color="#0c0c0c"/><stop offset="0.100" stop-color="#0f0f0f"/><stop offset="0.150" stop-color="#151515"/><stop offset="0.200" stop-color="#1d1d1d"/><stop offset="0.250" stop-color="#272727"/><stop offset="0.300" stop-color="#313131"/><stop offset="0.351" stop-color="#3a3a3a"/><stop offset="0.401" stop-color="#434343"/><stop offset="0.451" stop-color="#4b4b4b"/><stop offset="0.501" stop-color="#515151"/><stop offset="0.551" stop-color="#545454"/><stop offset="0.601" stop-color="#565656"/><stop offset="0.651" stop-color="#585858"/><stop offset="0.701" stop-color="#5b5b5b"/><stop offset="0.751" stop-color="#5d5d5d"/><stop offset="0.801" stop-color="#5e5e5e"/><stop offset="0.851" stop-color="#5b5b5b"/><stop offset="0.901" stop-color="#565656"/><stop offset="0.952" stop-color="#515151"/><stop offset="1.000" stop-color="#4e4e4e"/></linearGradient>
<linearGradient id="s25" gradientUnits="objectBoundingBox" x1="0" y1="0" x2="1" y2="0"><stop offset="0.000" stop-color="#0a0a0a"/><stop offset="0.050" stop-color="#0c0c0c"/><stop offset="0.100" stop-color="#101010"/><stop offset="0.150" stop-color="#161616"/><stop offset="0.200" stop-color="#1f1f1f"/><stop offset="0.250" stop-color="#282828"/><stop offset="0.300" stop-color="#323232"/><stop offset="0.351" stop-color="#3c3c3c"/><stop offset="0.401" stop-color="#454545"/><stop offset="0.451" stop-color="#4d4d4d"/><stop offset="0.501" stop-color="#535353"/><stop offset="0.551" stop-color="#565656"/><stop offset="0.601" stop-color="#585858"/><stop offset="0.651" stop-color="#5b5b5b"/><stop offset="0.701" stop-color="#5d5d5d"/><stop offset="0.751" stop-color="#606060"/><stop offset="0.801" stop-color="#606060"/><stop offset="0.851" stop-color="#5d5d5d"/><stop offset="0.901" stop-color="#585858"/><stop offset="0.952" stop-color="#535353"/><stop offset="1.000" stop-color="#4f4f4f"/></linearGradient>
<linearGradient id="s26" gradientUnits="objectBoundingBox" x1="0" y1="0" x2="1" y2="0"><stop offset="0.000" stop-color="#0b0b0b"/><stop offset="0.050" stop-color="#0d0d0d"/><stop offset="0.100" stop-color="#111111"/><stop offset="0.150" stop-color="#181818"/><stop offset="0.200" stop-color="#202020"/><stop offset="0.250" stop-color="#2a2a2a"/><stop offset="0.300" stop-color="#343434"/><stop offset="0.351" stop-color="#3e3e3e"/><stop offset="0.401" stop-color="#474747"/><stop offset="0.451" stop-color="#4f4f4f"/><stop offset="0.501" stop-color="#565656"/><stop offset="0.551" stop-color="#595959"/><stop offset="0.601" stop-color="#5b5b5b"/><stop offset="0.651" stop-color="#5d5d5d"/><stop offset="0.701" stop-color="#5f5f5f"/><stop offset="0.751" stop-color="#626262"/><stop offset="0.801" stop-color="#636363"/><stop offset="0.851" stop-color="#606060"/><stop offset="0.901" stop-color="#5a5a5a"/><stop offset="0.952" stop-color="#545454"/><stop offset="1.000" stop-color="#515151"/></linearGradient>
<linearGradient id="s27" gradientUnits="objectBoundingBox" x1="0" y1="0" x2="1" y2="0"><stop offset="0.000" stop-color="#0c0c0c"/><stop offset="0.050" stop-color="#0e0e0e"/><stop offset="0.100" stop-color="#131313"/><stop offset="0.150" stop-color="#191919"/><stop offset="0.200" stop-color="#212121"/><stop offset="0.250" stop-color="#2b2b2b"/><stop offset="0.300" stop-color="#353535"/><stop offset="0.351" stop-color="#3f3f3f"/><stop offset="0.401" stop-color="#494949"/><stop offset="0.451" stop-color="#525252"/><stop offset="0.501" stop-color="#585858"/><stop offset="0.551" stop-color="#5b5b5b"/><stop offset="0.601" stop-color="#5d5d5d"/><stop offset="0.651" stop-color="#5f5f5f"/><stop offset="0.701" stop-color="#626262"/><stop offset="0.751" stop-color="#646464"/><stop offset="0.801" stop-color="#656565"/><stop offset="0.851" stop-color="#626262"/><stop offset="0.901" stop-color="#5c5c5c"/><stop offset="0.952" stop-color="#565656"/><stop offset="1.000" stop-color="#535353"/></linearGradient>
<linearGradient id="s28" gradientUnits="objectBoundingBox" x1="0" y1="0" x2="1" y2="0"><stop offset="0.000" stop-color="#0d0d0d"/><stop offset="0.050" stop-color="#0f0f0f"/><stop offset="0.100" stop-color="#141414"/><stop offset="0.150" stop-color="#1a1a1a"/><stop offset="0.200" stop-color="#232323"/><stop offset="0.250" stop-color="#2d2d2d"/><stop offset="0.300" stop-color="#373737"/><stop offset="0.351" stop-color="#414141"/><stop offset="0.401" stop-color="#4b4b4b"/><stop offset="0.451" stop-color="#545454"/><stop offset="0.501" stop-color="#5a5a5a"/><stop offset="0.551" stop-color="#5d5d5d"/><stop offset="0.601" stop-color="#5f5f5f"/><stop offset="0.651" stop-color="#616161"/><stop offset="0.701" stop-color="#646464"/><stop offset="0.751" stop-color="#666666"/><stop offset="0.801" stop-color="#676767"/><stop offset="0.851" stop-color="#646464"/><stop offset="0.901" stop-color="#5e5e5e"/><stop offset="0.952" stop-color="#585858"/><stop offset="1.000" stop-color="#545454"/></linearGradient>
<linearGradient id="s29" gradientUnits="objectBoundingBox" x1="0" y1="0" x2="1" y2="0"><stop offset="0.000" stop-color="#0e0e0e"/><stop offset="0.050" stop-color="#101010"/><stop offset="0.100" stop-color="#151515"/><stop offset="0.150" stop-color="#1c1c1c"/><stop offset="0.200" stop-color="#242424"/><stop offset="0.250" stop-color="#2e2e2e"/><stop offset="0.300" stop-color="#393939"/><stop offset="0.351" stop-color="#434343"/><stop offset="0.401" stop-color="#4d4d4d"/><stop offset="0.451" stop-color="#575757"/><stop offset="0.501" stop-color="#5d5d5d"/><stop offset="0.551" stop-color="#606060"/><stop offset="0.601" stop-color="#616161"/><stop offset="0.651" stop-color="#636363"/><stop offset="0.701" stop-color="#666666"/><stop offset="0.751" stop-color="#686868"/><stop offset="0.801" stop-color="#696969"/><stop offset="0.851" stop-color="#666666"/><stop offset="0.901" stop-color="#606060"/><stop offset="0.952" stop-color="#5a5a5a"/><stop offset="1.000" stop-color="#565656"/></linearGradient>
<linearGradient id="s30" gradientUnits="objectBoundingBox" x1="0" y1="0" x2="1" y2="0"><stop offset="0.000" stop-color="#0f0f0f"/><stop offset="0.050" stop-color="#111111"/><stop offset="0.100" stop-color="#161616"/><stop offset="0.150" stop-color="#1d1d1d"/><stop offset="0.200" stop-color="#262626"/><stop offset="0.250" stop-color="#303030"/><stop offset="0.300" stop-color="#3a3a3a"/><stop offset="0.351" stop-color="#454545"/><stop offset="0.401" stop-color="#4f4f4f"/><stop offset="0.451" stop-color="#595959"/><stop offset="0.501" stop-color="#5f5f5f"/><stop offset="0.551" stop-color="#626262"/><stop offset="0.601" stop-color="#646464"/><stop offset="0.651" stop-color="#666666"/><stop offset="0.701" stop-color="#686868"/><stop offset="0.751" stop-color="#6a6a6a"/><stop offset="0.801" stop-color="#6c6c6c"/><stop offset="0.851" stop-color="#686868"/><stop offset="0.901" stop-color="#626262"/><stop offset="0.952" stop-color="#5c5c5c"/><stop offset="1.000" stop-color="#585858"/></linearGradient>
<linearGradient id="s31" gradientUnits="objectBoundingBox" x1="0" y1="0" x2="1" y2="0"><stop offset="0.000" stop-color="#111111"/><stop offset="0.050" stop-color="#131313"/><stop offset="0.100" stop-color="#171717"/><stop offset="0.150" stop-color="#1e1e1e"/><stop offset="0.200" stop-color="#272727"/><stop offset="0.250" stop-color="#313131"/><stop offset="0.300" stop-color="#3c3c3c"/><stop offset="0.351" stop-color="#474747"/><stop offset="0.401" stop-color="#515151"/><stop offset="0.451" stop-color="#5b5b5b"/><stop offset="0.501" stop-color="#616161"/><stop offset="0.551" stop-color="#646464"/><stop offset="0.601" stop-color="#666666"/><stop offset="0.651" stop-color="#686868"/><stop offset="0.701" stop-color="#6a6a6a"/><stop offset="0.751" stop-color="#6c6c6c"/><stop offset="0.801" stop-color="#6e6e6e"/><stop offset="0.851" stop-color="#6b6b6b"/><stop offset="0.901" stop-color="#646464"/><stop offset="0.952" stop-color="#5e5e5e"/><stop offset="1.000" stop-color="#5a5a5a"/></linearGradient>
<linearGradient id="s32" gradientUnits="objectBoundingBox" x1="0" y1="0" x2="1" y2="0"><stop offset="0.000" stop-color="#121212"/><stop offset="0.050" stop-color="#141414"/><stop offset="0.100" stop-color="#181818"/><stop offset="0.150" stop-color="#202020"/><stop offset="0.200" stop-color="#292929"/><stop offset="0.250" stop-color="#333333"/><stop offset="0.300" stop-color="#3e3e3e"/><stop offset="0.351" stop-color="#484848"/><stop offset="0.401" stop-color="#535353"/><stop offset="0.451" stop-color="#5d5d5d"/><stop offset="0.501" stop-color="#646464"/><stop offset="0.551" stop-color="#666666"/><stop offset="0.601" stop-color="#686868"/><stop offset="0.651" stop-color="#6a6a6a"/><stop offset="0.701" stop-color="#6c6c6c"/><stop offset="0.751" stop-color="#6e6e6e"/><stop offset="0.801" stop-color="#707070"/><stop offset="0.851" stop-color="#6d6d6d"/><stop offset="0.901" stop-color="#666666"/><stop offset="0.952" stop-color="#606060"/><stop offset="1.000" stop-color="#5c5c5c"/></linearGradient>
<linearGradient id="s33" gradientUnits="objectBoundingBox" x1="0" y1="0" x2="1" y2="0"><stop offset="0.000" stop-color="#131313"/><stop offset="0.050" stop-color="#151515"/><stop offset="0.100" stop-color="#1a1a1a"/><stop offset="0.150" stop-color="#212121"/><stop offset="0.200" stop-color="#2a2a2a"/><stop offset="0.250" stop-color="#353535"/><stop offset="0.300" stop-color="#3f3f3f"/><stop offset="0.351" stop-color="#4a4a4a"/><stop offset="0.401" stop-color="#555555"/><stop offset="0.451" stop-color="#5f5f5f"/><stop offset="0.501" stop-color="#666666"/><stop offset="0.551" stop-color="#696969"/><stop offset="0.601" stop-color="#6a6a6a"/><stop offset="0.651" stop-color="#6c6c6c"/><stop offset="0.701" stop-color="#6e6e6e"/><stop offset="0.751" stop-color="#707070"/><stop offset="0.801" stop-color="#727272"/><stop offset="0.851" stop-color="#6f6f6f"/><stop offset="0.901" stop-color="#686868"/><stop offset="0.952" stop-color="#626262"/><stop offset="1.000" stop-color="#5e5e5e"/></linearGradient>
<linearGradient id="s34" gradientUnits="objectBoundingBox" x1="0" y1="0" x2="1" y2="0"><stop offset="0.000" stop-color="#141414"/><stop offset="0.050" stop-color="#161616"/><stop offset="0.100" stop-color="#1b1b1b"/><stop offset="0.150" stop-color="#222222"/><stop offset="0.200" stop-color="#2c2c2c"/><stop offset="0.250" stop-color="#363636"/><stop offset="0.300" stop-color="#414141"/><stop offset="0.351" stop-color="#4c4c4c"/><stop offset="0.401" stop-color="#575757"/><stop offset="0.451" stop-color="#616161"/><stop offset="0.501" stop-color="#686868"/><stop offset="0.551" stop-color="#6b6b6b"/><stop offset="0.601" stop-color="#6c6c6c"/><stop offset="0.651" stop-color="#6e6e6e"/><stop offset="0.701" stop-color="#707070"/><stop offset="0.751" stop-color="#727272"/><stop offset="0.801" stop-color="#747474"/><stop offset="0.851" stop-color="#717171"/><stop offset="0.901" stop-color="#6b6b6b"/><stop offset="0.952" stop-color="#646464"/><stop offset="1.000" stop-color="#606060"/></linearGradient>
<linearGradient id="s35" gradientUnits="objectBoundingBox" x1="0" y1="0" x2="1" y2="0"><stop offset="0.000" stop-color="#161616"/><stop offset="0.050" stop-color="#171717"/><stop offset="0.100" stop-color="#1c1c1c"/><stop offset="0.150" stop-color="#242424"/><stop offset="0.200" stop-color="#2d2d2d"/><stop offset="0.250" stop-color="#383838"/><stop offset="0.300" stop-color="#424242"/><stop offset="0.351" stop-color="#4d4d4d"/><stop offset="0.401" stop-color="#595959"/><stop offset="0.451" stop-color="#636363"/><stop offset="0.501" stop-color="#6a6a6a"/><stop offset="0.551" stop-color="#6d6d6d"/><stop offset="0.601" stop-color="#6e6e6e"/><stop offset="0.651" stop-color="#707070"/><stop offset="0.701" stop-color="#727272"/><stop offset="0.751" stop-color="#747474"/><stop offset="0.801" stop-color="#757575"/><stop offset="0.851" stop-color="#737373"/><stop offset="0.901" stop-color="#6d6d6d"/><stop offset="0.952" stop-color="#666666"/><stop offset="1.000" stop-color="#626262"/></linearGradient>
<linearGradient id="s36" gradientUnits="objectBoundingBox" x1="0" y1="0" x2="1" y2="0"><stop offset="0.000" stop-color="#171717"/><stop offset="0.050" stop-color="#191919"/><stop offset="0.100" stop-color="#1d1d1d"/><stop offset="0.150" stop-color="#252525"/><stop offset="0.200" stop-color="#2f2f2f"/><stop offset="0.250" stop-color="#393939"/><stop offset="0.300" stop-color="#444444"/><stop offset="0.351" stop-color="#4f4f4f"/><stop offset="0.401" stop-color="#5a5a5a"/><stop offset="0.451" stop-color="#656565"/><stop offset="0.501" stop-color="#6c6c6c"/><stop offset="0.551" stop-color="#6f6f6f"/><stop offset="0.601" stop-color="#707070"/><stop offset="0.651" stop-color="#727272"/><stop offset="0.701" stop-color="#747474"/><stop offset="0.751" stop-color="#767676"/><stop offset="0.801" stop-color="#777777"/><stop offset="0.851" stop-color="#757575"/><stop offset="0.901" stop-color="#6f6f6f"/><stop offset="0.952" stop-color="#686868"/><stop offset="1.000" stop-color="#646464"/></linearGradient>
<linearGradient id="s37" gradientUnits="objectBoundingBox" x1="0" y1="0" x2="1" y2="0"><stop offset="0.000" stop-color="#191919"/><stop offset="0.050" stop-color="#1a1a1a"/><stop offset="0.100" stop-color="#1f1f1f"/><stop offset="0.150" stop-color="#272727"/><stop offset="0.200" stop-color="#313131"/><stop offset="0.250" stop-color="#3b3b3b"/><stop offset="0.300" stop-color="#464646"/><stop offset="0.351" stop-color="#515151"/><stop offset="0.401" stop-color="#5c5c5c"/><stop offset="0.451" stop-color="#676767"/><stop offset="0.501" stop-color="#6e6e6e"/><stop offset="0.551" stop-color="#707070"/><stop offset="0.601" stop-color="#727272"/><stop offset="0.651" stop-color="#747474"/><stop offset="0.701" stop-color="#767676"/><stop offset="0.751" stop-color="#787878"/><stop offset="0.801" stop-color="#797979"/><stop offset="0.851" stop-color="#777777"/><stop offset="0.901" stop-color="#717171"/><stop offset="0.952" stop-color="#6a6a6a"/><stop offset="1.000" stop-color="#666666"/></linearGradient>
<linearGradient id="s38" gradientUnits="objectBoundingBox" x1="0" y1="0" x2="1" y2="0"><stop offset="0.000" stop-color="#1a1a1a"/><stop offset="0.050" stop-color="#1c1c1c"/><stop offset="0.100" stop-color="#202020"/><stop offset="0.150" stop-color="#292929"/><stop offset="0.200" stop-color="#323232"/><stop offset="0.250" stop-color="#3d3d3d"/><stop offset="0.300" stop-color="#474747"/><stop offset="0.351" stop-color="#525252"/><stop offset="0.401" stop-color="#5d5d5d"/><stop offset="0.451" stop-color="#686868"/><stop offset="0.501" stop-color="#6f6f6f"/><stop offset="0.551" stop-color="#727272"/><stop offset="0.601" stop-color="#747474"/><stop offset="0.651" stop-color="#767676"/><stop offset="0.701" stop-color="#787878"/><stop offset="0.751" stop-color="#7a7a7a"/><stop offset="0.801" stop-color="#7b7b7b"/><stop offset="0.851" stop-color="#787878"/><stop offset="0.901" stop-color="#737373"/><stop offset="0.952" stop-color="#6d6d6d"/><stop offset="1.000" stop-color="#686868"/></linearGradient>
<linearGradient id="s39" gradientUnits="objectBoundingBox" x1="0" y1="0" x2="1" y2="0"><stop offset="0.000" stop-color="#1c1c1c"/><stop offset="0.050" stop-color="#1d1d1d"/><stop offset="0.100" stop-color="#222222"/><stop offset="0.150" stop-color="#2a2a2a"/><stop offset="0.200" stop-color="#343434"/><stop offset="0.250" stop-color="#3e3e3e"/><stop offset="0.300" stop-color="#494949"/><stop offset="0.351" stop-color="#545454"/><stop offset="0.401" stop-color="#5f5f5f"/><stop offset="0.451" stop-color="#6a6a6a"/><stop offset="0.501" stop-color="#717171"/><stop offset="0.551" stop-color="#747474"/><stop offset="0.601" stop-color="#767676"/><stop offset="0.651" stop-color="#787878"/><stop offset="0.701" stop-color="#7a7a7a"/><stop offset="0.751" stop-color="#7c7c7c"/><stop offset="0.801" stop-color="#7d7d7d"/><stop offset="0.851" stop-color="#7a7a7a"/><stop offset="0.901" stop-color="#757575"/><stop offset="0.952" stop-color="#6f6f6f"/><stop offset="1.000" stop-color="#6a6a6a"/></linearGradient>
<linearGradient id="s40" gradientUnits="objectBoundingBox" x1="0" y1="0" x2="1" y2="0"><stop offset="0.000" stop-color="#1d1d1d"/><stop offset="0.050" stop-color="#1f1f1f"/><stop offset="0.100" stop-color="#232323"/><stop offset="0.150" stop-color="#2c2c2c"/><stop offset="0.200" stop-color="#353535"/><stop offset="0.250" stop-color="#404040"/><stop offset="0.300" stop-color="#4a4a4a"/><stop offset="0.351" stop-color="#555555"/><stop offset="0.401" stop-color="#606060"/><stop offset="0.451" stop-color="#6b6b6b"/><stop offset="0.501" stop-color="#727272"/><stop offset="0.551" stop-color="#767676"/><stop offset="0.601" stop-color="#787878"/><stop offset="0.651" stop-color="#7a7a7a"/><stop offset="0.701" stop-color="#7b7b7b"/><stop offset="0.751" stop-color="#7d7d7d"/><stop offset="0.801" stop-color="#7e7e7e"/><stop offset="0.851" stop-color="#7c7c7c"/><stop offset="0.901" stop-color="#777777"/><stop offset="0.952" stop-color="#717171"/><stop offset="1.000" stop-color="#6c6c6c"/></linearGradient>
<linearGradient id="s41" gradientUnits="objectBoundingBox" x1="0" y1="0" x2="1" y2="0"><stop offset="0.000" stop-color="#1f1f1f"/><stop offset="0.050" stop-color="#202020"/><stop offset="0.100" stop-color="#252525"/><stop offset="0.150" stop-color="#2d2d2d"/><stop offset="0.200" stop-color="#373737"/><stop offset="0.250" stop-color="#414141"/><stop offset="0.300" stop-color="#4c4c4c"/><stop offset="0.351" stop-color="#575757"/><stop offset="0.401" stop-color="#626262"/><stop offset="0.451" stop-color="#6c6c6c"/><stop offset="0.501" stop-color="#747474"/><stop offset="0.551" stop-color="#777777"/><stop offset="0.601" stop-color="#7a7a7a"/><stop offset="0.651" stop-color="#7c7c7c"/><stop offset="0.701" stop-color="#7d7d7d"/><stop offset="0.751" stop-color="#7f7f7f"/><stop offset="0.801" stop-color="#808080"/><stop offset="0.851" stop-color="#7e7e7e"/><stop offset="0.901" stop-color="#7a7a7a"/><stop offset="0.952" stop-color="#747474"/><stop offset="1.000" stop-color="#6f6f6f"/></linearGradient>
<linearGradient id="s42" gradientUnits="objectBoundingBox" x1="0" y1="0" x2="1" y2="0"><stop offset="0.000" stop-color="#202020"/><stop offset="0.050" stop-color="#222222"/><stop offset="0.100" stop-color="#272727"/><stop offset="0.150" stop-color="#2f2f2f"/><stop offset="0.200" stop-color="#393939"/><stop offset="0.250" stop-color="#434343"/><stop offset="0.300" stop-color="#4d4d4d"/><stop offset="0.351" stop-color="#585858"/><stop offset="0.401" stop-color="#636363"/><stop offset="0.451" stop-color="#6d6d6d"/><stop offset="0.501" stop-color="#757575"/><stop offset="0.551" stop-color="#797979"/><stop offset="0.601" stop-color="#7c7c7c"/><stop offset="0.651" stop-color="#7e7e7e"/><stop offset="0.701" stop-color="#7f7f7f"/><stop offset="0.751" stop-color="#818181"/><stop offset="0.801" stop-color="#828282"/><stop offset="0.851" stop-color="#808080"/><stop offset="0.901" stop-color="#7c7c7c"/><stop offset="0.952" stop-color="#767676"/><stop offset="1.000" stop-color="#717171"/></linearGradient>
<linearGradient id="s43" gradientUnits="objectBoundingBox" x1="0" y1="0" x2="1" y2="0"><stop offset="0.000" stop-color="#222222"/><stop offset="0.050" stop-color="#242424"/><stop offset="0.100" stop-color="#282828"/><stop offset="0.150" stop-color="#313131"/><stop offset="0.200" stop-color="#3a3a3a"/><stop offset="0.250" stop-color="#444444"/><stop offset="0.300" stop-color="#4f4f4f"/><stop offset="0.351" stop-color="#595959"/><stop offset="0.401" stop-color="#646464"/><stop offset="0.451" stop-color="#6f6f6f"/><stop offset="0.501" stop-color="#767676"/><stop offset="0.551" stop-color="#7a7a7a"/><stop offset="0.601" stop-color="#7d7d7d"/><stop offset="0.651" stop-color="#808080"/><stop offset="0.701" stop-color="#818181"/><stop offset="0.751" stop-color="#838383"/><stop offset="0.801" stop-color="#838383"/><stop offset="0.851" stop-color="#828282"/><stop offset="0.901" stop-color="#7e7e7e"/><stop offset="0.952" stop-color="#797979"/><stop offset="1.000" stop-color="#737373"/></linearGradient>
<linearGradient id="s44" gradientUnits="objectBoundingBox" x1="0" y1="0" x2="1" y2="0"><stop offset="0.000" stop-color="#242424"/><stop offset="0.050" stop-color="#252525"/><stop offset="0.100" stop-color="#2a2a2a"/><stop offset="0.150" stop-color="#323232"/><stop offset="0.200" stop-color="#3c3c3c"/><stop offset="0.250" stop-color="#464646"/><stop offset="0.300" stop-color="#505050"/><stop offset="0.351" stop-color="#5b5b5b"/><stop offset="0.401" stop-color="#666666"/><stop offset="0.451" stop-color="#707070"/><stop offset="0.501" stop-color="#777777"/><stop offset="0.551" stop-color="#7c7c7c"/><stop offset="0.601" stop-color="#7f7f7f"/><stop offset="0.651" stop-color="#818181"/><stop offset="0.701" stop-color="#838383"/><stop offset="0.751" stop-color="#848484"/><stop offset="0.801" stop-color="#858585"/><stop offset="0.851" stop-color="#848484"/><stop offset="0.901" stop-color="#808080"/><stop offset="0.952" stop-color="#7b7b7b"/><stop offset="1.000" stop-color="#757575"/></linearGradient>
<linearGradient id="s45" gradientUnits="objectBoundingBox" x1="0" y1="0" x2="1" y2="0"><stop offset="0.000" stop-color="#252525"/><stop offset="0.050" stop-color="#272727"/><stop offset="0.100" stop-color="#2c2c2c"/><stop offset="0.150" stop-color="#343434"/><stop offset="0.200" stop-color="#3e3e3e"/><stop offset="0.250" stop-color="#484848"/><stop offset="0.300" stop-color="#525252"/><stop offset="0.351" stop-color="#5c5c5c"/><stop offset="0.401" stop-color="#676767"/><stop offset="0.451" stop-color="#717171"/><stop offset="0.501" stop-color="#787878"/><stop offset="0.551" stop-color="#7d7d7d"/><stop offset="0.601" stop-color="#818181"/><stop offset="0.651" stop-color="#838383"/><stop offset="0.701" stop-color="#858585"/><stop offset="0.751" stop-color="#868686"/><stop offset="0.801" stop-color="#868686"/><stop offset="0.851" stop-color="#858585"/><stop offset="0.901" stop-color="#828282"/><stop offset="0.952" stop-color="#7d7d7d"/><stop offset="1.000" stop-color="#787878"/></linearGradient>
<linearGradient id="s46" gradientUnits="objectBoundingBox" x1="0" y1="0" x2="1" y2="0"><stop offset="0.000" stop-color="#272727"/><stop offset="0.050" stop-color="#292929"/><stop offset="0.100" stop-color="#2e2e2e"/><stop offset="0.150" stop-color="#363636"/><stop offset="0.200" stop-color="#3f3f3f"/><stop offset="0.250" stop-color="#494949"/><stop offset="0.300" stop-color="#535353"/><stop offset="0.351" stop-color="#5e5e5e"/><stop offset="0.401" stop-color="#686868"/><stop offset="0.451" stop-color="#717171"/><stop offset="0.501" stop-color="#797979"/><stop offset="0.551" stop-color="#7e7e7e"/><stop offset="0.601" stop-color="#828282"/><stop offset="0.651" stop-color="#858585"/><stop offset="0.701" stop-color="#868686"/><stop offset="0.751" stop-color="#888888"/><stop offset="0.801" stop-color="#888888"/><stop offset="0.851" stop-color="#878787"/><stop offset="0.901" stop-color="#848484"/><stop offset="0.952" stop-color="#808080"/><stop offset="1.000" stop-color="#7a7a7a"/></linearGradient>
<linearGradient id="s47" gradientUnits="objectBoundingBox" x1="0" y1="0" x2="1" y2="0"><stop offset="0.000" stop-color="#282828"/><stop offset="0.050" stop-color="#2b2b2b"/><stop offset="0.100" stop-color="#303030"/><stop offset="0.150" stop-color="#383838"/><stop offset="0.200" stop-color="#414141"/><stop offset="0.250" stop-color="#4b4b4b"/><stop offset="0.300" stop-color="#555555"/><stop offset="0.351" stop-color="#5f5f5f"/><stop offset="0.401" stop-color="#696969"/><stop offset="0.451" stop-color="#727272"/><stop offset="0.501" stop-color="#7a7a7a"/><stop offset="0.551" stop-color="#808080"/><stop offset="0.601" stop-color="#848484"/><stop offset="0.651" stop-color="#878787"/><stop offset="0.701" stop-color="#888888"/><stop offset="0.751" stop-color="#898989"/><stop offset="0.801" stop-color="#8a8a8a"/><stop offset="0.851" stop-color="#898989"/><stop offset="0.901" stop-color="#868686"/><stop offset="0.952" stop-color="#828282"/><stop offset="1.000" stop-color="#7c7c7c"/></linearGradient>
<linearGradient id="s48" gradientUnits="objectBoundingBox" x1="0" y1="0" x2="1" y2="0"><stop offset="0.000" stop-color="#2a2a2a"/><stop offset="0.050" stop-color="#2c2c2c"/><stop offset="0.100" stop-color="#313131"/><stop offset="0.150" stop-color="#393939"/><stop offset="0.200" stop-color="#434343"/><stop offset="0.250" stop-color="#4c4c4c"/><stop offset="0.300" stop-color="#565656"/><stop offset="0.351" stop-color="#606060"/><stop offset="0.401" stop-color="#6a6a6a"/><stop offset="0.451" stop-color="#737373"/><stop offset="0.501" stop-color="#7b7b7b"/><stop offset="0.551" stop-color="#818181"/><stop offset="0.601" stop-color="#868686"/><stop offset="0.651" stop-color="#898989"/><stop offset="0.701" stop-color="#8a8a8a"/><stop offset="0.751" stop-color="#8b8b8b"/><stop offset="0.801" stop-color="#8b8b8b"/><stop offset="0.851" stop-color="#8b8b8b"/><stop offset="0.901" stop-color="#888888"/><stop offset="0.952" stop-color="#848484"/><stop offset="1.000" stop-color="#7e7e7e"/></linearGradient>
<linearGradient id="s49" gradientUnits="objectBoundingBox" x1="0" y1="0" x2="1" y2="0"><stop offset="0.000" stop-color="#2c2c2c"/><stop offset="0.050" stop-color="#2e2e2e"/><stop offset="0.100" stop-color="#333333"/><stop offset="0.150" stop-color="#3b3b3b"/><stop offset="0.200" stop-color="#444444"/><stop offset="0.250" stop-color="#4e4e4e"/><stop offset="0.300" stop-color="#575757"/><stop offset="0.351" stop-color="#616161"/><stop offset="0.401" stop-color="#6b6b6b"/><stop offset="0.451" stop-color="#747474"/><stop offset="0.501" stop-color="#7c7c7c"/><stop offset="0.551" stop-color="#828282"/><stop offset="0.601" stop-color="#878787"/><stop offset="0.651" stop-color="#8a8a8a"/><stop offset="0.701" stop-color="#8c8c8c"/><stop offset="0.751" stop-color="#8c8c8c"/><stop offset="0.801" stop-color="#8d8d8d"/><stop offset="0.851" stop-color="#8c8c8c"/><stop offset="0.901" stop-color="#8a8a8a"/><stop offset="0.952" stop-color="#868686"/><stop offset="1.000" stop-color="#808080"/></linearGradient>
<linearGradient id="s50" gradientUnits="objectBoundingBox" x1="0" y1="0" x2="1" y2="0"><stop offset="0.000" stop-color="#2d2d2d"/><stop offset="0.050" stop-color="#303030"/><stop offset="0.100" stop-color="#353535"/><stop offset="0.150" stop-color="#3d3d3d"/><stop offset="0.200" stop-color="#464646"/><stop offset="0.250" stop-color="#4f4f4f"/><stop offset="0.300" stop-color="#595959"/><stop offset="0.351" stop-color="#636363"/><stop offset="0.401" stop-color="#6c6c6c"/><stop offset="0.451" stop-color="#757575"/><stop offset="0.501" stop-color="#7d7d7d"/><stop offset="0.551" stop-color="#838383"/><stop offset="0.601" stop-color="#898989"/><stop offset="0.651" stop-color="#8c8c8c"/><stop offset="0.701" stop-color="#8e8e8e"/><stop offset="0.751" stop-color="#8e8e8e"/><stop offset="0.801" stop-color="#8e8e8e"/><stop offset="0.851" stop-color="#8e8e8e"/><stop offset="0.901" stop-color="#8c8c8c"/><stop offset="0.952" stop-color="#888888"/><stop offset="1.000" stop-color="#828282"/></linearGradient>
<linearGradient id="s51" gradientUnits="objectBoundingBox" x1="0" y1="0" x2="1" y2="0"><stop offset="0.000" stop-color="#2e2e2e"/><stop offset="0.050" stop-color="#313131"/><stop offset="0.100" stop-color="#373737"/><stop offset="0.150" stop-color="#3f3f3f"/><stop offset="0.200" stop-color="#484848"/><stop offset="0.250" stop-color="#515151"/><stop offset="0.300" stop-color="#5a5a5a"/><stop offset="0.351" stop-color="#646464"/><stop offset="0.401" stop-color="#6d6d6d"/><stop offset="0.451" stop-color="#767676"/><stop offset="0.501" stop-color="#7d7d7d"/><stop offset="0.551" stop-color="#848484"/><stop offset="0.601" stop-color="#8a8a8a"/><stop offset="0.651" stop-color="#8e8e8e"/><stop offset="0.701" stop-color="#8f8f8f"/><stop offset="0.751" stop-color="#909090"/><stop offset="0.801" stop-color="#909090"/><stop offset="0.851" stop-color="#909090"/><stop offset="0.901" stop-color="#8e8e8e"/><stop offset="0.952" stop-color="#8b8b8b"/><stop offset="1.000" stop-color="#848484"/></linearGradient>
<linearGradient id="s52" gradientUnits="objectBoundingBox" x1="0" y1="0" x2="1" y2="0"><stop offset="0.000" stop-color="#303030"/><stop offset="0.050" stop-color="#333333"/><stop offset="0.100" stop-color="#383838"/><stop offset="0.150" stop-color="#404040"/><stop offset="0.200" stop-color="#494949"/><stop offset="0.250" stop-color="#525252"/><stop offset="0.300" stop-color="#5c5c5c"/><stop offset="0.351" stop-color="#656565"/><stop offset="0.401" stop-color="#6e6e6e"/><stop offset="0.451" stop-color="#767676"/><stop offset="0.501" stop-color="#7e7e7e"/><stop offset="0.551" stop-color="#868686"/><stop offset="0.601" stop-color="#8c8c8c"/><stop offset="0.651" stop-color="#909090"/><stop offset="0.701" stop-color="#919191"/><stop offset="0.751" stop-color="#919191"/><stop offset="0.801" stop-color="#919191"/><stop offset="0.851" stop-color="#919191"/><stop offset="0.901" stop-color="#909090"/><stop offset="0.952" stop-color="#8d8d8d"/><stop offset="1.000" stop-color="#868686"/></linearGradient>
<linearGradient id="s53" gradientUnits="objectBoundingBox" x1="0" y1="0" x2="1" y2="0"><stop offset="0.000" stop-color="#313131"/><stop offset="0.050" stop-color="#343434"/><stop offset="0.100" stop-color="#3a3a3a"/><stop offset="0.150" stop-color="#424242"/><stop offset="0.200" stop-color="#4b4b4b"/><stop offset="0.250" stop-color="#545454"/><stop offset="0.300" stop-color="#5d5d5d"/><stop offset="0.351" stop-color="#666666"/><stop offset="0.401" stop-color="#6f6f6f"/><stop offset="0.451" stop-color="#777777"/><stop offset="0.501" stop-color="#7f7f7f"/><stop offset="0.551" stop-color="#878787"/><stop offset="0.601" stop-color="#8d8d8d"/><stop offset="0.651" stop-color="#919191"/><stop offset="0.701" stop-color="#939393"/><stop offset="0.751" stop-color="#939393"/><stop offset="0.801" stop-color="#929292"/><stop offset="0.851" stop-color="#939393"/><stop offset="0.901" stop-color="#929292"/><stop offset="0.952" stop-color="#8f8f8f"/><stop offset="1.000" stop-color="#888888"/></linearGradient>
<linearGradient id="s54" gradientUnits="objectBoundingBox" x1="0" y1="0" x2="1" y2="0"><stop offset="0.000" stop-color="#323232"/><stop offset="0.050" stop-color="#363636"/><stop offset="0.100" stop-color="#3c3c3c"/><stop offset="0.150" stop-color="#444444"/><stop offset="0.200" stop-color="#4c4c4c"/><stop offset="0.250" stop-color="#555555"/><stop offset="0.300" stop-color="#5e5e5e"/><stop offset="0.351" stop-color="#676767"/><stop offset="0.401" stop-color="#707070"/><stop offset="0.451" stop-color="#787878"/><stop offset="0.501" stop-color="#808080"/><stop offset="0.551" stop-color="#888888"/><stop offset="0.601" stop-color="#8f8f8f"/><stop offset="0.651" stop-color="#939393"/><stop offset="0.701" stop-color="#949494"/><stop offset="0.751" stop-color="#949494"/><stop offset="0.801" stop-color="#949494"/><stop offset="0.851" stop-color="#949494"/><stop offset="0.901" stop-color="#949494"/><stop offset="0.952" stop-color="#919191"/><stop offset="1.000" stop-color="#8a8a8a"/></linearGradient>
<linearGradient id="s55" gradientUnits="objectBoundingBox" x1="0" y1="0" x2="1" y2="0"><stop offset="0.000" stop-color="#333333"/><stop offset="0.050" stop-color="#373737"/><stop offset="0.100" stop-color="#3d3d3d"/><stop offset="0.150" stop-color="#454545"/><stop offset="0.200" stop-color="#4e4e4e"/><stop offset="0.250" stop-color="#575757"/><stop offset="0.300" stop-color="#606060"/><stop offset="0.351" stop-color="#686868"/><stop offset="0.401" stop-color="#717171"/><stop offset="0.451" stop-color="#797979"/><stop offset="0.501" stop-color="#818181"/><stop offset="0.551" stop-color="#898989"/><stop offset="0.601" stop-color="#909090"/><stop offset="0.651" stop-color="#959595"/><stop offset="0.701" stop-color="#969696"/><stop offset="0.751" stop-color="#959595"/><stop offset="0.801" stop-color="#959595"/><stop offset="0.851" stop-color="#969696"/><stop offset="0.901" stop-color="#969696"/><stop offset="0.952" stop-color="#939393"/><stop offset="1.000" stop-color="#8b8b8b"/></linearGradient>
<linearGradient id="s56" gradientUnits="objectBoundingBox" x1="0" y1="0" x2="1" y2="0"><stop offset="0.000" stop-color="#343434"/><stop offset="0.050" stop-color="#383838"/><stop offset="0.100" stop-color="#3f3f3f"/><stop offset="0.150" stop-color="#474747"/><stop offset="0.200" stop-color="#4f4f4f"/><stop offset="0.250" stop-color="#585858"/><stop offset="0.300" stop-color="#616161"/><stop offset="0.351" stop-color="#6a6a6a"/><stop offset="0.401" stop-color="#727272"/><stop offset="0.451" stop-color="#7a7a7a"/><stop offset="0.501" stop-color="#818181"/><stop offset="0.551" stop-color="#8a8a8a"/><stop offset="0.601" stop-color="#929292"/><stop offset="0.651" stop-color="#969696"/><stop offset="0.701" stop-color="#989898"/><stop offset="0.751" stop-color="#979797"/><stop offset="0.801" stop-color="#979797"/><stop offset="0.851" stop-color="#979797"/><stop offset="0.901" stop-color="#979797"/><stop offset="0.952" stop-color="#949494"/><stop offset="1.000" stop-color="#8d8d8d"/></linearGradient>
<linearGradient id="s57" gradientUnits="objectBoundingBox" x1="0" y1="0" x2="1" y2="0"><stop offset="0.000" stop-color="#353535"/><stop offset="0.050" stop-color="#3a3a3a"/><stop offset="0.100" stop-color="#404040"/><stop offset="0.150" stop-color="#484848"/><stop offset="0.200" stop-color="#515151"/><stop offset="0.250" stop-color="#5a5a5a"/><stop offset="0.300" stop-color="#626262"/><stop offset="0.351" stop-color="#6b6b6b"/><stop offset="0.401" stop-color="#737373"/><stop offset="0.451" stop-color="#7a7a7a"/><stop offset="0.501" stop-color="#828282"/><stop offset="0.551" stop-color="#8b8b8b"/><stop offset="0.601" stop-color="#939393"/><stop offset="0.651" stop-color="#989898"/><stop offset="0.701" stop-color="#999999"/><stop offset="0.751" stop-color="#989898"/><stop offset="0.801" stop-color="#989898"/><stop offset="0.851" stop-color="#999999"/><stop offset="0.901" stop-color="#999999"/><stop offset="0.952" stop-color="#969696"/><stop offset="1.000" stop-color="#8f8f8f"/></linearGradient>
<linearGradient id="s58" gradientUnits="objectBoundingBox" x1="0" y1="0" x2="1" y2="0"><stop offset="0.000" stop-color="#363636"/><stop offset="0.050" stop-color="#3b3b3b"/><stop offset="0.100" stop-color="#414141"/><stop offset="0.150" stop-color="#4a4a4a"/><stop offset="0.200" stop-color="#525252"/><stop offset="0.250" stop-color="#5b5b5b"/><stop offset="0.300" stop-color="#636363"/><stop offset="0.351" stop-color="#6c6c6c"/><stop offset="0.401" stop-color="#747474"/><stop offset="0.451" stop-color="#7b7b7b"/><stop offset="0.501" stop-color="#838383"/><stop offset="0.551" stop-color="#8c8c8c"/><stop offset="0.601" stop-color="#949494"/><stop offset="0.651" stop-color="#9a9a9a"/><stop offset="0.701" stop-color="#9b9b9b"/><stop offset="0.751" stop-color="#9a9a9a"/><stop offset="0.801" stop-color="#999999"/><stop offset="0.851" stop-color="#9a9a9a"/><stop offset="0.901" stop-color="#9b9b9b"/><stop offset="0.952" stop-color="#989898"/><stop offset="1.000" stop-color="#909090"/></linearGradient>
<linearGradient id="s59" gradientUnits="objectBoundingBox" x1="0" y1="0" x2="1" y2="0"><stop offset="0.000" stop-color="#363636"/><stop offset="0.050" stop-color="#3c3c3c"/><stop offset="0.100" stop-color="#434343"/><stop offset="0.150" stop-color="#4b4b4b"/><stop offset="0.200" stop-color="#545454"/><stop offset="0.250" stop-color="#5c5c5c"/><stop offset="0.300" stop-color="#656565"/><stop offset="0.351" stop-color="#6d6d6d"/><stop offset="0.401" stop-color="#757575"/><stop offset="0.451" stop-color="#7c7c7c"/><stop offset="0.501" stop-color="#848484"/><stop offset="0.551" stop-color="#8d8d8d"/><stop offset="0.601" stop-color="#969696"/><stop offset="0.651" stop-color="#9b9b9b"/><stop offset="0.701" stop-color="#9c9c9c"/><stop offset="0.751" stop-color="#9b9b9b"/><stop offset="0.801" stop-color="#9a9a9a"/><stop offset="0.851" stop-color="#9c9c9c"/><stop offset="0.901" stop-color="#9c9c9c"/><stop offset="0.952" stop-color="#999999"/><stop offset="1.000" stop-color="#919191"/></linearGradient>
<linearGradient id="s60" gradientUnits="objectBoundingBox" x1="0" y1="0" x2="1" y2="0"><stop offset="0.000" stop-color="#373737"/><stop offset="0.050" stop-color="#3d3d3d"/><stop offset="0.100" stop-color="#444444"/><stop offset="0.150" stop-color="#4c4c4c"/><stop offset="0.200" stop-color="#555555"/><stop offset="0.250" stop-color="#5d5d5d"/><stop offset="0.300" stop-color="#666666"/><stop offset="0.351" stop-color="#6e6e6e"/><stop offset="0.401" stop-color="#767676"/><stop offset="0.451" stop-color="#7d7d7d"/><stop offset="0.501" stop-color="#848484"/><stop offset="0.551" stop-color="#8e8e8e"/><stop offset="0.601" stop-color="#979797"/><stop offset="0.651" stop-color="#9d9d9d"/><stop offset="0.701" stop-color="#9e9e9e"/><stop offset="0.751" stop-color="#9c9c9c"/><stop offset="0.801" stop-color="#9b9b9b"/><stop offset="0.851" stop-color="#9d9d9d"/><stop offset="0.901" stop-color="#9e9e9e"/><stop offset="0.952" stop-color="#9b9b9b"/><stop offset="1.000" stop-color="#929292"/></linearGradient>
<linearGradient id="s61" gradientUnits="objectBoundingBox" x1="0" y1="0" x2="1" y2="0"><stop offset="0.000" stop-color="#383838"/><stop offset="0.050" stop-color="#3e3e3e"/><stop offset="0.100" stop-color="#454545"/><stop offset="0.150" stop-color="#4e4e4e"/><stop offset="0.200" stop-color="#565656"/><stop offset="0.250" stop-color="#5f5f5f"/><stop offset="0.300" stop-color="#676767"/><stop offset="0.351" stop-color="#6f6f6f"/><stop offset="0.401" stop-color="#777777"/><stop offset="0.451" stop-color="#7e7e7e"/><stop offset="0.501" stop-color="#858585"/><stop offset="0.551" stop-color="#8f8f8f"/><stop offset="0.601" stop-color="#989898"/><stop offset="0.651" stop-color="#9e9e9e"/><stop offset="0.701" stop-color="#9f9f9f"/><stop offset="0.751" stop-color="#9e9e9e"/><stop offset="0.801" stop-color="#9d9d9d"/><stop offset="0.851" stop-color="#9e9e9e"/><stop offset="0.901" stop-color="#9f9f9f"/><stop offset="0.952" stop-color="#9c9c9c"/><stop offset="1.000" stop-color="#939393"/></linearGradient>
<linearGradient id="s62" gradientUnits="objectBoundingBox" x1="0" y1="0" x2="1" y2="0"><stop offset="0.000" stop-color="#393939"/><stop offset="0.050" stop-color="#3f3f3f"/><stop offset="0.100" stop-color="#464646"/><stop offset="0.150" stop-color="#4f4f4f"/><stop offset="0.200" stop-color="#585858"/><stop offset="0.250" stop-color="#606060"/><stop offset="0.300" stop-color="#686868"/><stop offset="0.351" stop-color="#707070"/><stop offset="0.401" stop-color="#787878"/><stop offset="0.451" stop-color="#7f7f7f"/><stop offset="0.501" stop-color="#868686"/><stop offset="0.551" stop-color="#909090"/><stop offset="0.601" stop-color="#999999"/><stop offset="0.651" stop-color="#9f9f9f"/><stop offset="0.701" stop-color="#a0a0a0"/><stop offset="0.751" stop-color="#9f9f9f"/><stop offset="0.801" stop-color="#9e9e9e"/><stop offset="0.851" stop-color="#a0a0a0"/><stop offset="0.901" stop-color="#a0a0a0"/><stop offset="0.952" stop-color="#9d9d9d"/><stop offset="1.000" stop-color="#949494"/></linearGradient>
<linearGradient id="s63" gradientUnits="objectBoundingBox" x1="0" y1="0" x2="1" y2="0"><stop offset="0.000" stop-color="#393939"/><stop offset="0.050" stop-color="#404040"/><stop offset="0.100" stop-color="#474747"/><stop offset="0.150" stop-color="#505050"/><stop offset="0.200" stop-color="#595959"/><stop offset="0.250" stop-color="#616161"/><stop offset="0.300" stop-color="#696969"/><stop offset="0.351" stop-color="#717171"/><stop offset="0.401" stop-color="#797979"/><stop offset="0.451" stop-color="#808080"/><stop offset="0.501" stop-color="#878787"/><stop offset="0.551" stop-color="#929292"/><stop offset="0.601" stop-color="#9b9b9b"/><stop offset="0.651" stop-color="#a1a1a1"/><stop offset="0.701" stop-color="#a2a2a2"/><stop offset="0.751" stop-color="#a0a0a0"/><stop offset="0.801" stop-color="#9f9f9f"/><stop offset="0.851" stop-color="#a1a1a1"/><stop offset="0.901" stop-color="#a2a2a2"/><stop offset="0.952" stop-color="#9e9e9e"/><stop offset="1.000" stop-color="#959595"/></linearGradient>
<linearGradient id="s64" gradientUnits="objectBoundingBox" x1="0" y1="0" x2="1" y2="0"><stop offset="0.000" stop-color="#3a3a3a"/><stop offset="0.050" stop-color="#404040"/><stop offset="0.100" stop-color="#484848"/><stop offset="0.150" stop-color="#515151"/><stop offset="0.200" stop-color="#5a5a5a"/><stop offset="0.250" stop-color="#626262"/><stop offset="0.300" stop-color="#6a6a6a"/><stop offset="0.351" stop-color="#727272"/><stop offset="0.401" stop-color="#7a7a7a"/><stop offset="0.451" stop-color="#818181"/><stop offset="0.501" stop-color="#888888"/><stop offset="0.551" stop-color="#939393"/><stop offset="0.601" stop-color="#9c9c9c"/><stop offset="0.651" stop-color="#a2a2a2"/><stop offset="0.701" stop-color="#a3a3a3"/><stop offset="0.751" stop-color="#a2a2a2"/><stop offset="0.801" stop-color="#a0a0a0"/><stop offset="0.851" stop-color="#a2a2a2"/><stop offset="0.901" stop-color="#a3a3a3"/><stop offset="0.952" stop-color="#9f9f9f"/><stop offset="1.000" stop-color="#959595"/></linearGradient>
<linearGradient id="s65" gradientUnits="objectBoundingBox" x1="0" y1="0" x2="1" y2="0"><stop offset="0.000" stop-color="#3a3a3a"/><stop offset="0.050" stop-color="#414141"/><stop offset="0.100" stop-color="#494949"/><stop offset="0.150" stop-color="#525252"/><stop offset="0.200" stop-color="#5b5b5b"/><stop offset="0.250" stop-color="#636363"/><stop offset="0.300" stop-color="#6b6b6b"/><stop offset="0.351" stop-color="#747474"/><stop offset="0.401" stop-color="#7b7b7b"/><stop offset="0.451" stop-color="#828282"/><stop offset="0.501" stop-color="#8a8a8a"/><stop offset="0.551" stop-color="#949494"/><stop offset="0.601" stop-color="#9d9d9d"/><stop offset="0.651" stop-color="#a3a3a3"/><stop offset="0.701" stop-color="#a4a4a4"/><stop offset="0.751" stop-color="#a3a3a3"/><stop offset="0.801" stop-color="#a2a2a2"/><stop offset="0.851" stop-color="#a4a4a4"/><stop offset="0.901" stop-color="#a4a4a4"/><stop offset="0.952" stop-color="#9f9f9f"/><stop offset="1.000" stop-color="#969696"/></linearGradient>
<linearGradient id="s66" gradientUnits="objectBoundingBox" x1="0" y1="0" x2="1" y2="0"><stop offset="0.000" stop-color="#3b3b3b"/><stop offset="0.050" stop-color="#424242"/><stop offset="0.100" stop-color="#4a4a4a"/><stop offset="0.150" stop-color="#535353"/><stop offset="0.200" stop-color="#5c5c5c"/><stop offset="0.250" stop-color="#646464"/><stop offset="0.300" stop-color="#6d6d6d"/><stop offset="0.351" stop-color="#757575"/><stop offset="0.401" stop-color="#7c7c7c"/><stop offset="0.451" stop-color="#838383"/><stop offset="0.501" stop-color="#8b8b8b"/><stop offset="0.551" stop-color="#959595"/><stop offset="0.601" stop-color="#9e9e9e"/><stop offset="0.651" stop-color="#a4a4a4"/><stop offset="0.701" stop-color="#a5a5a5"/><stop offset="0.751" stop-color="#a4a4a4"/><stop offset="0.801" stop-color="#a3a3a3"/><stop offset="0.851" stop-color="#a5a5a5"/><stop offset="0.901" stop-color="#a5a5a5"/><stop offset="0.952" stop-color="#a0a0a0"/><stop offset="1.000" stop-color="#969696"/></linearGradient>
<linearGradient id="s67" gradientUnits="objectBoundingBox" x1="0" y1="0" x2="1" y2="0"><stop offset="0.000" stop-color="#3c3c3c"/><stop offset="0.050" stop-color="#424242"/><stop offset="0.100" stop-color="#4a4a4a"/><stop offset="0.150" stop-color="#545454"/><stop offset="0.200" stop-color="#5d5d5d"/><stop offset="0.250" stop-color="#656565"/><stop offset="0.300" stop-color="#6e6e6e"/><stop offset="0.351" stop-color="#767676"/><stop offset="0.401" stop-color="#7d7d7d"/><stop offset="0.451" stop-color="#848484"/><stop offset="0.501" stop-color="#8c8c8c"/><stop offset="0.551" stop-color="#969696"/><stop offset="0.601" stop-color="#9f9f9f"/><stop offset="0.651" stop-color="#a5a5a5"/><stop offset="0.701" stop-color="#a6a6a6"/><stop offset="0.751" stop-color="#a5a5a5"/><stop offset="0.801" stop-color="#a5a5a5"/><stop offset="0.851" stop-color="#a6a6a6"/><stop offset="0.901" stop-color="#a6a6a6"/><stop offset="0.952" stop-color="#a0a0a0"/><stop offset="1.000" stop-color="#969696"/></linearGradient>
<linearGradient id="s68" gradientUnits="objectBoundingBox" x1="0" y1="0" x2="1" y2="0"><stop offset="0.000" stop-color="#3c3c3c"/><stop offset="0.050" stop-color="#434343"/><stop offset="0.100" stop-color="#4b4b4b"/><stop offset="0.150" stop-color="#545454"/><stop offset="0.200" stop-color="#5e5e5e"/><stop offset="0.250" stop-color="#666666"/><stop offset="0.300" stop-color="#6f6f6f"/><stop offset="0.351" stop-color="#777777"/><stop offset="0.401" stop-color="#7e7e7e"/><stop offset="0.451" stop-color="#868686"/><stop offset="0.501" stop-color="#8e8e8e"/><stop offset="0.551" stop-color="#979797"/><stop offset="0.601" stop-color="#a0a0a0"/><stop offset="0.651" stop-color="#a6a6a6"/><stop offset="0.701" stop-color="#a7a7a7"/><stop offset="0.751" stop-color="#a6a6a6"/><stop offset="0.801" stop-color="#a6a6a6"/><stop offset="0.851" stop-color="#a7a7a7"/><stop offset="0.901" stop-color="#a6a6a6"/><stop offset="0.952" stop-color="#a1a1a1"/><stop offset="1.000" stop-color="#969696"/></linearGradient>
<linearGradient id="s69" gradientUnits="objectBoundingBox" x1="0" y1="0" x2="1" y2="0"><stop offset="0.000" stop-color="#3d3d3d"/><stop offset="0.050" stop-color="#434343"/><stop offset="0.100" stop-color="#4c4c4c"/><stop offset="0.150" stop-color="#555555"/><stop offset="0.200" stop-color="#5f5f5f"/><stop offset="0.250" stop-color="#676767"/><stop offset="0.300" stop-color="#707070"/><stop offset="0.351" stop-color="#787878"/><stop offset="0.401" stop-color="#808080"/><stop offset="0.451" stop-color="#878787"/><stop offset="0.501" stop-color="#8f8f8f"/><stop offset="0.551" stop-color="#989898"/><stop offset="0.601" stop-color="#a1a1a1"/><stop offset="0.651" stop-color="#a7a7a7"/><stop offset="0.701" stop-color="#a8a8a8"/><stop offset="0.751" stop-color="#a8a8a8"/><stop offset="0.801" stop-color="#a7a7a7"/><stop offset="0.851" stop-color="#a8a8a8"/><stop offset="0.901" stop-color="#a7a7a7"/><stop offset="0.952" stop-color="#a1a1a1"/><stop offset="1.000" stop-color="#969696"/></linearGradient>
<linearGradient id="s70" gradientUnits="objectBoundingBox" x1="0" y1="0" x2="1" y2="0"><stop offset="0.000" stop-color="#3d3d3d"/><stop offset="0.050" stop-color="#444444"/><stop offset="0.100" stop-color="#4c4c4c"/><stop offset="0.150" stop-color="#565656"/><stop offset="0.200" stop-color="#5f5f5f"/><stop offset="0.250" stop-color="#686868"/><stop offset="0.300" stop-color="#717171"/><stop offset="0.351" stop-color="#797979"/><stop offset="0.401" stop-color="#818181"/><stop offset="0.451" stop-color="#888888"/><stop offset="0.501" stop-color="#909090"/><stop offset="0.551" stop-color="#9a9a9a"/><stop offset="0.601" stop-color="#a2a2a2"/><stop offset="0.651" stop-color="#a8a8a8"/><stop offset="0.701" stop-color="#a9a9a9"/><stop offset="0.751" stop-color="#a9a9a9"/><stop offset="0.801" stop-color="#a9a9a9"/><stop offset="0.851" stop-color="#a9a9a9"/><stop offset="0.901" stop-color="#a8a8a8"/><stop offset="0.952" stop-color="#a1a1a1"/><stop offset="1.000" stop-color="#969696"/></linearGradient>
<linearGradient id="s71" gradientUnits="objectBoundingBox" x1="0" y1="0" x2="1" y2="0"><stop offset="0.000" stop-color="#3d3d3d"/><stop offset="0.050" stop-color="#444444"/><stop offset="0.100" stop-color="#4d4d4d"/><stop offset="0.150" stop-color="#565656"/><stop offset="0.200" stop-color="#606060"/><stop offset="0.250" stop-color="#696969"/><stop offset="0.300" stop-color="#727272"/><stop offset="0.351" stop-color="#7a7a7a"/><stop offset="0.401" stop-color="#828282"/><stop offset="0.451" stop-color="#898989"/><stop offset="0.501" stop-color="#919191"/><stop offset="0.551" stop-color="#9b9b9b"/><stop offset="0.601" stop-color="#a3a3a3"/><stop offset="0.651" stop-color="#a8a8a8"/><stop offset="0.701" stop-color="#aaaaaa"/><stop offset="0.751" stop-color="#aaaaaa"/><stop offset="0.801" stop-color="#aaaaaa"/><stop offset="0.851" stop-color="#aaaaaa"/><stop offset="0.901" stop-color="#a8a8a8"/><stop offset="0.952" stop-color="#a1a1a1"/><stop offset="1.000" stop-color="#959595"/></linearGradient>
<linearGradient id="s72" gradientUnits="objectBoundingBox" x1="0" y1="0" x2="1" y2="0"><stop offset="0.000" stop-color="#3e3e3e"/><stop offset="0.050" stop-color="#454545"/><stop offset="0.100" stop-color="#4d4d4d"/><stop offset="0.150" stop-color="#575757"/><stop offset="0.200" stop-color="#616161"/><stop offset="0.250" stop-color="#6a6a6a"/><stop offset="0.300" stop-color="#727272"/><stop offset="0.351" stop-color="#7b7b7b"/><stop offset="0.401" stop-color="#838383"/><stop offset="0.451" stop-color="#8b8b8b"/><stop offset="0.501" stop-color="#939393"/><stop offset="0.551" stop-color="#9c9c9c"/><stop offset="0.601" stop-color="#a4a4a4"/><stop offset="0.651" stop-color="#a9a9a9"/><stop offset="0.701" stop-color="#ababab"/><stop offset="0.751" stop-color="#ababab"/><stop offset="0.801" stop-color="#ababab"/><stop offset="0.851" stop-color="#ababab"/><stop offset="0.901" stop-color="#a9a9a9"/><stop offset="0.952" stop-color="#a1a1a1"/><stop offset="1.000" stop-color="#959595"/></linearGradient>
<linearGradient id="s73" gradientUnits="objectBoundingBox" x1="0" y1="0" x2="1" y2="0"><stop offset="0.000" stop-color="#3e3e3e"/><stop offset="0.050" stop-color="#454545"/><stop offset="0.100" stop-color="#4e4e4e"/><stop offset="0.150" stop-color="#575757"/><stop offset="0.200" stop-color="#616161"/><stop offset="0.250" stop-color="#6a6a6a"/><stop offset="0.300" stop-color="#737373"/><stop offset="0.351" stop-color="#7c7c7c"/><stop offset="0.401" stop-color="#848484"/><stop offset="0.451" stop-color="#8c8c8c"/><stop offset="0.501" stop-color="#949494"/><stop offset="0.551" stop-color="#9d9d9d"/><stop offset="0.601" stop-color="#a5a5a5"/><stop offset="0.651" stop-color="#aaaaaa"/><stop offset="0.701" stop-color="#ababab"/><stop offset="0.751" stop-color="#ababab"/><stop offset="0.801" stop-color="#acacac"/><stop offset="0.851" stop-color="#acacac"/><stop offset="0.901" stop-color="#a9a9a9"/><stop offset="0.952" stop-color="#a0a0a0"/><stop offset="1.000" stop-color="#949494"/></linearGradient>
<linearGradient id="s74" gradientUnits="objectBoundingBox" x1="0" y1="0" x2="1" y2="0"><stop offset="0.000" stop-color="#3e3e3e"/><stop offset="0.050" stop-color="#464646"/><stop offset="0.100" stop-color="#4e4e4e"/><stop offset="0.150" stop-color="#585858"/><stop offset="0.200" stop-color="#626262"/><stop offset="0.250" stop-color="#6b6b6b"/><stop offset="0.300" stop-color="#747474"/><stop offset="0.351" stop-color="#7d7d7d"/><stop offset="0.401" stop-color="#858585"/><stop offset="0.451" stop-color="#8d8d8d"/><stop offset="0.501" stop-color="#959595"/><stop offset="0.551" stop-color="#9e9e9e"/><stop offset="0.601" stop-color="#a5a5a5"/><stop offset="0.651" stop-color="#aaaaaa"/><stop offset="0.701" stop-color="#acacac"/><stop offset="0.751" stop-color="#acacac"/><stop offset="0.801" stop-color="#adadad"/><stop offset="0.851" stop-color="#adadad"/><stop offset="0.901" stop-color="#a9a9a9"/><stop offset="0.952" stop-color="#a0a0a0"/><stop offset="1.000" stop-color="#949494"/></linearGradient>
<linearGradient id="s75" gradientUnits="objectBoundingBox" x1="0" y1="0" x2="1" y2="0"><stop offset="0.000" stop-color="#3f3f3f"/><stop offset="0.050" stop-color="#464646"/><stop offset="0.100" stop-color="#4f4f4f"/><stop offset="0.150" stop-color="#585858"/><stop offset="0.200" stop-color="#626262"/><stop offset="0.250" stop-color="#6c6c6c"/><stop offset="0.300" stop-color="#757575"/><stop offset="0.351" stop-color="#7e7e7e"/><stop offset="0.401" stop-color="#868686"/><stop offset="0.451" stop-color="#8e8e8e"/><stop offset="0.501" stop-color="#979797"/><stop offset="0.551" stop-color="#9f9f9f"/><stop offset="0.601" stop-color="#a6a6a6"/><stop offset="0.651" stop-color="#ababab"/><stop offset="0.701" stop-color="#acacac"/><stop offset="0.751" stop-color="#adadad"/><stop offset="0.801" stop-color="#aeaeae"/><stop offset="0.851" stop-color="#adadad"/><stop offset="0.901" stop-color="#a9a9a9"/><stop offset="0.952" stop-color="#9f9f9f"/><stop offset="1.000" stop-color="#939393"/></linearGradient>
<linearGradient id="s76" gradientUnits="objectBoundingBox" x1="0" y1="0" x2="1" y2="0"><stop offset="0.000" stop-color="#3f3f3f"/><stop offset="0.050" stop-color="#464646"/><stop offset="0.100" stop-color="#4f4f4f"/><stop offset="0.150" stop-color="#595959"/><stop offset="0.200" stop-color="#636363"/><stop offset="0.250" stop-color="#6d6d6d"/><stop offset="0.300" stop-color="#767676"/><stop offset="0.351" stop-color="#7f7f7f"/><stop offset="0.401" stop-color="#878787"/><stop offset="0.451" stop-color="#909090"/><stop offset="0.501" stop-color="#989898"/><stop offset="0.551" stop-color="#a0a0a0"/><stop offset="0.601" stop-color="#a7a7a7"/><stop offset="0.651" stop-color="#ababab"/><stop offset="0.701" stop-color="#adadad"/><stop offset="0.751" stop-color="#aeaeae"/><stop offset="0.801" stop-color="#aeaeae"/><stop offset="0.851" stop-color="#aeaeae"/><stop offset="0.901" stop-color="#a9a9a9"/><stop offset="0.952" stop-color="#9e9e9e"/><stop offset="1.000" stop-color="#929292"/></linearGradient>
<linearGradient id="s77" gradientUnits="objectBoundingBox" x1="0" y1="0" x2="1" y2="0"><stop offset="0.000" stop-color="#3f3f3f"/><stop offset="0.050" stop-color="#474747"/><stop offset="0.100" stop-color="#4f4f4f"/><stop offset="0.150" stop-color="#595959"/><stop offset="0.200" stop-color="#636363"/><stop offset="0.250" stop-color="#6d6d6d"/><stop offset="0.300" stop-color="#777777"/><stop offset="0.351" stop-color="#808080"/><stop offset="0.401" stop-color="#898989"/><stop offset="0.451" stop-color="#919191"/><stop offset="0.501" stop-color="#999999"/><stop offset="0.551" stop-color="#a1a1a1"/><stop offset="0.601" stop-color="#a8a8a8"/><stop offset="0.651" stop-color="#acacac"/><stop offset="0.701" stop-color="#adadad"/><stop offset="0.751" stop-color="#aeaeae"/><stop offset="0.801" stop-color="#afafaf"/><stop offset="0.851" stop-color="#aeaeae"/><stop offset="0.901" stop-color="#a9a9a9"/><stop offset="0.952" stop-color="#9e9e9e"/><stop offset="1.000" stop-color="#919191"/></linearGradient>
<linearGradient id="s78" gradientUnits="objectBoundingBox" x1="0" y1="0" x2="1" y2="0"><stop offset="0.000" stop-color="#404040"/><stop offset="0.050" stop-color="#474747"/><stop offset="0.100" stop-color="#505050"/><stop offset="0.150" stop-color="#595959"/><stop offset="0.200" stop-color="#646464"/><stop offset="0.250" stop-color="#6e6e6e"/><stop offset="0.300" stop-color="#787878"/><stop offset="0.351" stop-color="#818181"/><stop offset="0.401" stop-color="#8a8a8a"/><stop offset="0.451" stop-color="#929292"/><stop offset="0.501" stop-color="#9a9a9a"/><stop offset="0.551" stop-color="#a2a2a2"/><stop offset="0.601" stop-color="#a8a8a8"/><stop offset="0.651" stop-color="#acacac"/><stop offset="0.701" stop-color="#adadad"/><stop offset="0.751" stop-color="#aeaeae"/><stop offset="0.801" stop-color="#afafaf"/><stop offset="0.851" stop-color="#aeaeae"/><stop offset="0.901" stop-color="#a9a9a9"/><stop offset="0.952" stop-color="#9d9d9d"/><stop offset="1.000" stop-color="#909090"/></linearGradient>
<linearGradient id="s79" gradientUnits="objectBoundingBox" x1="0" y1="0" x2="1" y2="0"><stop offset="0.000" stop-color="#404040"/><stop offset="0.050" stop-color="#474747"/><stop offset="0.100" stop-color="#505050"/><stop offset="0.150" stop-color="#5a5a5a"/><stop offset="0.200" stop-color="#646464"/><stop offset="0.250" stop-color="#6e6e6e"/><stop offset="0.300" stop-color="#787878"/><stop offset="0.351" stop-color="#828282"/><stop offset="0.401" stop-color="#8b8b8b"/><stop offset="0.451" stop-color="#939393"/><stop offset="0.501" stop-color="#9b9b9b"/><stop offset="0.551" stop-color="#a3a3a3"/><stop offset="0.601" stop-color="#a9a9a9"/><stop offset="0.651" stop-color="#acacac"/><stop offset="0.701" stop-color="#aeaeae"/><stop offset="0.751" stop-color="#afafaf"/><stop offset="0.801" stop-color="#b0b0b0"/><stop offset="0.851" stop-color="#aeaeae"/><stop offset="0.901" stop-color="#a8a8a8"/><stop offset="0.952" stop-color="#9c9c9c"/><stop offset="1.000" stop-color="#8e8e8e"/></linearGradient>
<linearGradient id="s80" gradientUnits="objectBoundingBox" x1="0" y1="0" x2="1" y2="0"><stop offset="0.000" stop-color="#404040"/><stop offset="0.050" stop-color="#474747"/><stop offset="0.100" stop-color="#505050"/><stop offset="0.150" stop-color="#5a5a5a"/><stop offset="0.200" stop-color="#646464"/><stop offset="0.250" stop-color="#6f6f6f"/><stop offset="0.300" stop-color="#797979"/><stop offset="0.351" stop-color="#838383"/><stop offset="0.401" stop-color="#8c8c8c"/><stop offset="0.451" stop-color="#949494"/><stop offset="0.501" stop-color="#9c9c9c"/><stop offset="0.551" stop-color="#a3a3a3"/><stop offset="0.601" stop-color="#a9a9a9"/><stop offset="0.651" stop-color="#acacac"/><stop offset="0.701" stop-color="#aeaeae"/><stop offset="0.751" stop-color="#afafaf"/><stop offset="0.801" stop-color="#b0b0b0"/><stop offset="0.851" stop-color="#aeaeae"/><stop offset="0.901" stop-color="#a7a7a7"/><stop offset="0.952" stop-color="#9a9a9a"/><stop offset="1.000" stop-color="#8d8d8d"/></linearGradient>
<linearGradient id="s81" gradientUnits="objectBoundingBox" x1="0" y1="0" x2="1" y2="0"><stop offset="0.000" stop-color="#404040"/><stop offset="0.050" stop-color="#484848"/><stop offset="0.100" stop-color="#505050"/><stop offset="0.150" stop-color="#5a5a5a"/><stop offset="0.200" stop-color="#656565"/><stop offset="0.250" stop-color="#6f6f6f"/><stop offset="0.300" stop-color="#7a7a7a"/><stop offset="0.351" stop-color="#848484"/><stop offset="0.401" stop-color="#8d8d8d"/><stop offset="0.451" stop-color="#959595"/><stop offset="0.501" stop-color="#9d9d9d"/><stop offset="0.551" stop-color="#a4a4a4"/><stop offset="0.601" stop-color="#aaaaaa"/><stop offset="0.651" stop-color="#acacac"/><stop offset="0.701" stop-color="#aeaeae"/><stop offset="0.751" stop-color="#afafaf"/><stop offset="0.801" stop-color="#b0b0b0"/><stop offset="0.851" stop-color="#aeaeae"/><stop offset="0.901" stop-color="#a6a6a6"/><stop offset="0.952" stop-color="#999999"/><stop offset="1.000" stop-color="#8b8b8b"/></linearGradient>
<linearGradient id="s82" gradientUnits="objectBoundingBox" x1="0" y1="0" x2="1" y2="0"><stop offset="0.000" stop-color="#414141"/><stop offset="0.050" stop-color="#484848"/><stop offset="0.100" stop-color="#515151"/><stop offset="0.150" stop-color="#5b5b5b"/><stop offset="0.200" stop-color="#656565"/><stop offset="0.250" stop-color="#707070"/><stop offset="0.300" stop-color="#7b7b7b"/><stop offset="0.351" stop-color="#858585"/><stop offset="0.401" stop-color="#8e8e8e"/><stop offset="0.451" stop-color="#979797"/><stop offset="0.501" stop-color="#9e9e9e"/><stop offset="0.551" stop-color="#a5a5a5"/><stop offset="0.601" stop-color="#aaaaaa"/><stop offset="0.651" stop-color="#acacac"/><stop offset="0.701" stop-color="#adadad"/><stop offset="0.751" stop-color="#afafaf"/><stop offset="0.801" stop-color="#b0b0b0"/><stop offset="0.851" stop-color="#adadad"/><stop offset="0.901" stop-color="#a5a5a5"/><stop offset="0.952" stop-color="#979797"/><stop offset="1.000" stop-color="#8a8a8a"/></linearGradient>
<linearGradient id="s83" gradientUnits="objectBoundingBox" x1="0" y1="0" x2="1" y2="0"><stop offset="0.000" stop-color="#414141"/><stop offset="0.050" stop-color="#484848"/><stop offset="0.100" stop-color="#515151"/><stop offset="0.150" stop-color="#5b5b5b"/><stop offset="0.200" stop-color="#666666"/><stop offset="0.250" stop-color="#717171"/><stop offset="0.300" stop-color="#7b7b7b"/><stop offset="0.351" stop-color="#858585"/><stop offset="0.401" stop-color="#8f8f8f"/><stop offset="0.451" stop-color="#989898"/><stop offset="0.501" stop-color="#9f9f9f"/><stop offset="0.551" stop-color="#a6a6a6"/><stop offset="0.601" stop-color="#aaaaaa"/><stop offset="0.651" stop-color="#acacac"/><stop offset="0.701" stop-color="#adadad"/><stop offset="0.751" stop-color="#aeaeae"/><stop offset="0.801" stop-color="#afafaf"/><stop offset="0.851" stop-color="#adadad"/><stop offset="0.901" stop-color="#a4a4a4"/><stop offset="0.952" stop-color="#969696"/><stop offset="1.000" stop-color="#888888"/></linearGradient>
<linearGradient id="s84" gradientUnits="objectBoundingBox" x1="0" y1="0" x2="1" y2="0"><stop offset="0.000" stop-color="#414141"/><stop offset="0.050" stop-color="#484848"/><stop offset="0.100" stop-color="#515151"/><stop offset="0.150" stop-color="#5b5b5b"/><stop offset="0.200" stop-color="#666666"/><stop offset="0.250" stop-color="#717171"/><stop offset="0.300" stop-color="#7c7c7c"/><stop offset="0.351" stop-color="#868686"/><stop offset="0.401" stop-color="#909090"/><stop offset="0.451" stop-color="#999999"/><stop offset="0.501" stop-color="#a0a0a0"/><stop offset="0.551" stop-color="#a6a6a6"/><stop offset="0.601" stop-color="#aaaaaa"/><stop offset="0.651" stop-color="#acacac"/><stop offset="0.701" stop-color="#adadad"/><stop offset="0.751" stop-color="#aeaeae"/><stop offset="0.801" stop-color="#afafaf"/><stop offset="0.851" stop-color="#acacac"/><stop offset="0.901" stop-color="#a2a2a2"/><stop offset="0.952" stop-color="#949494"/><stop offset="1.000" stop-color="#868686"/></linearGradient>
<linearGradient id="s85" gradientUnits="objectBoundingBox" x1="0" y1="0" x2="1" y2="0"><stop offset="0.000" stop-color="#414141"/><stop offset="0.050" stop-color="#484848"/><stop offset="0.100" stop-color="#515151"/><stop offset="0.150" stop-color="#5b5b5b"/><stop offset="0.200" stop-color="#666666"/><stop offset="0.250" stop-color="#717171"/><stop offset="0.300" stop-color="#7d7d7d"/><stop offset="0.351" stop-color="#878787"/><stop offset="0.401" stop-color="#919191"/><stop offset="0.451" stop-color="#9a9a9a"/><stop offset="0.501" stop-color="#a1a1a1"/><stop offset="0.551" stop-color="#a7a7a7"/><stop offset="0.601" stop-color="#aaaaaa"/><stop offset="0.651" stop-color="#acacac"/><stop offset="0.701" stop-color="#adadad"/><stop offset="0.751" stop-color="#aeaeae"/><stop offset="0.801" stop-color="#afafaf"/><stop offset="0.851" stop-color="#ababab"/><stop offset="0.901" stop-color="#a1a1a1"/><stop offset="0.952" stop-color="#929292"/><stop offset="1.000" stop-color="#848484"/></linearGradient>
<linearGradient id="s86" gradientUnits="objectBoundingBox" x1="0" y1="0" x2="1" y2="0"><stop offset="0.000" stop-color="#414141"/><stop offset="0.050" stop-color="#484848"/><stop offset="0.100" stop-color="#515151"/><stop offset="0.150" stop-color="#5c5c5c"/><stop offset="0.200" stop-color="#676767"/><stop offset="0.250" stop-color="#727272"/><stop offset="0.300" stop-color="#7d7d7d"/><stop offset="0.351" stop-color="#888888"/><stop offset="0.401" stop-color="#929292"/><stop offset="0.451" stop-color="#9b9b9b"/><stop offset="0.501" stop-color="#a2a2a2"/><stop offset="0.551" stop-color="#a7a7a7"/><stop offset="0.601" stop-color="#ababab"/><stop offset="0.651" stop-color="#acacac"/><stop offset="0.701" stop-color="#acacac"/><stop offset="0.751" stop-color="#adadad"/><stop offset="0.801" stop-color="#aeaeae"/><stop offset="0.851" stop-color="#aaaaaa"/><stop offset="0.901" stop-color="#9f9f9f"/><stop offset="0.952" stop-color="#909090"/><stop offset="1.000" stop-color="#828282"/></linearGradient>
<linearGradient id="s87" gradientUnits="objectBoundingBox" x1="0" y1="0" x2="1" y2="0"><stop offset="0.000" stop-color="#424242"/><stop offset="0.050" stop-color="#494949"/><stop offset="0.100" stop-color="#515151"/><stop offset="0.150" stop-color="#5c5c5c"/><stop offset="0.200" stop-color="#676767"/><stop offset="0.250" stop-color="#727272"/><stop offset="0.300" stop-color="#7e7e7e"/><stop offset="0.351" stop-color="#898989"/><stop offset="0.401" stop-color="#939393"/><stop offset="0.451" stop-color="#9c9c9c"/><stop offset="0.501" stop-color="#a3a3a3"/><stop offset="0.551" stop-color="#a8a8a8"/><stop offset="0.601" stop-color="#ababab"/><stop offset="0.651" stop-color="#ababab"/><stop offset="0.701" stop-color="#ababab"/><stop offset="0.751" stop-color="#acacac"/><stop offset="0.801" stop-color="#adadad"/><stop offset="0.851" stop-color="#a9a9a9"/><stop offset="0.901" stop-color="#9d9d9d"/><stop offset="0.952" stop-color="#8e8e8e"/><stop offset="1.000" stop-color="#808080"/></linearGradient>
<linearGradient id="s88" gradientUnits="objectBoundingBox" x1="0" y1="0" x2="1" y2="0"><stop offset="0.000" stop-color="#424242"/><stop offset="0.050" stop-color="#494949"/><stop offset="0.100" stop-color="#525252"/><stop offset="0.150" stop-color="#5c5c5c"/><stop offset="0.200" stop-color="#676767"/><stop offset="0.250" stop-color="#737373"/><stop offset="0.300" stop-color="#7e7e7e"/><stop offset="0.351" stop-color="#898989"/><stop offset="0.401" stop-color="#949494"/><stop offset="0.451" stop-color="#9c9c9c"/><stop offset="0.501" stop-color="#a4a4a4"/><stop offset="0.551" stop-color="#a8a8a8"/><stop offset="0.601" stop-color="#aaaaaa"/><stop offset="0.651" stop-color="#ababab"/><stop offset="0.701" stop-color="#ababab"/><stop offset="0.751" stop-color="#ababab"/><stop offset="0.801" stop-color="#acacac"/><stop offset="0.851" stop-color="#a7a7a7"/><stop offset="0.901" stop-color="#9b9b9b"/><stop offset="0.952" stop-color="#8b8b8b"/><stop offset="1.000" stop-color="#7e7e7e"/></linearGradient>
<linearGradient id="s89" gradientUnits="objectBoundingBox" x1="0" y1="0" x2="1" y2="0"><stop offset="0.000" stop-color="#424242"/><stop offset="0.050" stop-color="#494949"/><stop offset="0.100" stop-color="#525252"/><stop offset="0.150" stop-color="#5c5c5c"/><stop offset="0.200" stop-color="#676767"/><stop offset="0.250" stop-color="#737373"/><stop offset="0.300" stop-color="#7f7f7f"/><stop offset="0.351" stop-color="#8a8a8a"/><stop offset="0.401" stop-color="#949494"/><stop offset="0.451" stop-color="#9d9d9d"/><stop offset="0.501" stop-color="#a4a4a4"/><stop offset="0.551" stop-color="#a9a9a9"/><stop offset="0.601" stop-color="#aaaaaa"/><stop offset="0.651" stop-color="#aaaaaa"/><stop offset="0.701" stop-color="#aaaaaa"/><stop offset="0.751" stop-color="#aaaaaa"/><stop offset="0.801" stop-color="#ababab"/><stop offset="0.851" stop-color="#a5a5a5"/><stop offset="0.901" stop-color="#999999"/><stop offset="0.952" stop-color="#898989"/><stop offset="1.000" stop-color="#7c7c7c"/></linearGradient>
<linearGradient id="s90" gradientUnits="objectBoundingBox" x1="0" y1="0" x2="1" y2="0"><stop offset="0.000" stop-color="#424242"/><stop offset="0.050" stop-color="#494949"/><stop offset="0.100" stop-color="#525252"/><stop offset="0.150" stop-color="#5c5c5c"/><stop offset="0.200" stop-color="#686868"/><stop offset="0.250" stop-color="#747474"/><stop offset="0.300" stop-color="#808080"/><stop offset="0.351" stop-color="#8b8b8b"/><stop offset="0.401" stop-color="#959595"/><stop offset="0.451" stop-color="#9e9e9e"/><stop offset="0.501" stop-color="#a5a5a5"/><stop offset="0.551" stop-color="#a9a9a9"/><stop offset="0.601" stop-color="#aaaaaa"/><stop offset="0.651" stop-color="#aaaaaa"/><stop offset="0.701" stop-color="#a9a9a9"/><stop offset="0.751" stop-color="#a9a9a9"/><stop offset="0.801" stop-color="#aaaaaa"/><stop offset="0.851" stop-color="#a4a4a4"/><stop offset="0.901" stop-color="#969696"/><stop offset="0.952" stop-color="#868686"/><stop offset="1.000" stop-color="#7a7a7a"/></linearGradient>
<linearGradient id="s91" gradientUnits="objectBoundingBox" x1="0" y1="0" x2="1" y2="0"><stop offset="0.000" stop-color="#424242"/><stop offset="0.050" stop-color="#494949"/><stop offset="0.100" stop-color="#525252"/><stop offset="0.150" stop-color="#5d5d5d"/><stop offset="0.200" stop-color="#686868"/><stop offset="0.250" stop-color="#747474"/><stop offset="0.300" stop-color="#808080"/><stop offset="0.351" stop-color="#8c8c8c"/><stop offset="0.401" stop-color="#969696"/><stop offset="0.451" stop-color="#9f9f9f"/><stop offset="0.501" stop-color="#a6a6a6"/><stop offset="0.551" stop-color="#a9a9a9"/><stop offset="0.601" stop-color="#aaaaaa"/><stop offset="0.651" stop-color="#a9a9a9"/><stop offset="0.701" stop-color="#a8a8a8"/><stop offset="0.751" stop-color="#a8a8a8"/><stop offset="0.801" stop-color="#a8a8a8"/><stop offset="0.851" stop-color="#a2a2a2"/><stop offset="0.901" stop-color="#949494"/><stop offset="0.952" stop-color="#848484"/><stop offset="1.000" stop-color="#777777"/></linearGradient>
<linearGradient id="s92" gradientUnits="objectBoundingBox" x1="0" y1="0" x2="1" y2="0"><stop offset="0.000" stop-color="#424242"/><stop offset="0.050" stop-color="#494949"/><stop offset="0.100" stop-color="#525252"/><stop offset="0.150" stop-color="#5d5d5d"/><stop offset="0.200" stop-color="#686868"/><stop offset="0.250" stop-color="#747474"/><stop offset="0.300" stop-color="#818181"/><stop offset="0.351" stop-color="#8c8c8c"/><stop offset="0.401" stop-color="#979797"/><stop offset="0.451" stop-color="#a0a0a0"/><stop offset="0.501" stop-color="#a6a6a6"/><stop offset="0.551" stop-color="#a9a9a9"/><stop offset="0.601" stop-color="#aaaaaa"/><stop offset="0.651" stop-color="#a8a8a8"/><stop offset="0.701" stop-color="#a7a7a7"/><stop offset="0.751" stop-color="#a7a7a7"/><stop offset="0.801" stop-color="#a7a7a7"/><stop offset="0.851" stop-color="#a0a0a0"/><stop offset="0.901" stop-color="#929292"/><stop offset="0.952" stop-color="#818181"/><stop offset="1.000" stop-color="#757575"/></linearGradient>
<linearGradient id="s93" gradientUnits="objectBoundingBox" x1="0" y1="0" x2="1" y2="0"><stop offset="0.000" stop-color="#434343"/><stop offset="0.050" stop-color="#494949"/><stop offset="0.100" stop-color="#525252"/><stop offset="0.150" stop-color="#5d5d5d"/><stop offset="0.200" stop-color="#696969"/><stop offset="0.250" stop-color="#757575"/><stop offset="0.300" stop-color="#818181"/><stop offset="0.351" stop-color="#8d8d8d"/><stop offset="0.401" stop-color="#979797"/><stop offset="0.451" stop-color="#a0a0a0"/><stop offset="0.501" stop-color="#a7a7a7"/><stop offset="0.551" stop-color="#a9a9a9"/><stop offset="0.601" stop-color="#a9a9a9"/><stop offset="0.651" stop-color="#a8a8a8"/><stop offset="0.701" stop-color="#a6a6a6"/><stop offset="0.751" stop-color="#a5a5a5"/><stop offset="0.801" stop-color="#a5a5a5"/><stop offset="0.851" stop-color="#9e9e9e"/><stop offset="0.901" stop-color="#8f8f8f"/><stop offset="0.952" stop-color="#7f7f7f"/><stop offset="1.000" stop-color="#737373"/></linearGradient>
<linearGradient id="s94" gradientUnits="objectBoundingBox" x1="0" y1="0" x2="1" y2="0"><stop offset="0.000" stop-color="#434343"/><stop offset="0.050" stop-color="#4a4a4a"/><stop offset="0.100" stop-color="#525252"/><stop offset="0.150" stop-color="#5d5d5d"/><stop offset="0.200" stop-color="#696969"/><stop offset="0.250" stop-color="#757575"/><stop offset="0.300" stop-color="#828282"/><stop offset="0.351" stop-color="#8d8d8d"/><stop offset="0.401" stop-color="#989898"/><stop offset="0.451" stop-color="#a1a1a1"/><stop offset="0.501" stop-color="#a7a7a7"/><stop offset="0.551" stop-color="#aaaaaa"/><stop offset="0.601" stop-color="#a9a9a9"/><stop offset="0.651" stop-color="#a7a7a7"/><stop offset="0.701" stop-color="#a5a5a5"/><stop offset="0.751" stop-color="#a4a4a4"/><stop offset="0.801" stop-color="#a3a3a3"/><stop offset="0.851" stop-color="#9b9b9b"/><stop offset="0.901" stop-color="#8d8d8d"/><stop offset="0.952" stop-color="#7c7c7c"/><stop offset="1.000" stop-color="#717171"/></linearGradient>
<linearGradient id="s95" gradientUnits="objectBoundingBox" x1="0" y1="0" x2="1" y2="0"><stop offset="0.000" stop-color="#434343"/><stop offset="0.050" stop-color="#4a4a4a"/><stop offset="0.100" stop-color="#535353"/><stop offset="0.150" stop-color="#5d5d5d"/><stop offset="0.200" stop-color="#696969"/><stop offset="0.250" stop-color="#757575"/><stop offset="0.300" stop-color="#828282"/><stop offset="0.351" stop-color="#8e8e8e"/><stop offset="0.401" stop-color="#989898"/><stop offset="0.451" stop-color="#a1a1a1"/><stop offset="0.501" stop-color="#a8a8a8"/><stop offset="0.551" stop-color="#aaaaaa"/><stop offset="0.601" stop-color="#a9a9a9"/><stop offset="0.651" stop-color="#a6a6a6"/><stop offset="0.701" stop-color="#a3a3a3"/><stop offset="0.751" stop-color="#a2a2a2"/><stop offset="0.801" stop-color="#a1a1a1"/><stop offset="0.851" stop-color="#999999"/><stop offset="0.901" stop-color="#8a8a8a"/><stop offset="0.952" stop-color="#797979"/><stop offset="1.000" stop-color="#6e6e6e"/></linearGradient>
<linearGradient id="s96" gradientUnits="objectBoundingBox" x1="0" y1="0" x2="1" y2="0"><stop offset="0.000" stop-color="#434343"/><stop offset="0.050" stop-color="#4a4a4a"/><stop offset="0.100" stop-color="#535353"/><stop offset="0.150" stop-color="#5e5e5e"/><stop offset="0.200" stop-color="#696969"/><stop offset="0.250" stop-color="#767676"/><stop offset="0.300" stop-color="#838383"/><stop offset="0.351" stop-color="#8e8e8e"/><stop offset="0.401" stop-color="#999999"/><stop offset="0.451" stop-color="#a2a2a2"/><stop offset="0.501" stop-color="#a8a8a8"/><stop offset="0.551" stop-color="#a9a9a9"/><stop offset="0.601" stop-color="#a8a8a8"/><stop offset="0.651" stop-color="#a5a5a5"/><stop offset="0.701" stop-color="#a2a2a2"/><stop offset="0.751" stop-color="#a1a1a1"/><stop offset="0.801" stop-color="#9f9f9f"/><stop offset="0.851" stop-color="#979797"/><stop offset="0.901" stop-color="#888888"/><stop offset="0.952" stop-color="#777777"/><stop offset="1.000" stop-color="#6c6c6c"/></linearGradient>
<linearGradient id="s97" gradientUnits="objectBoundingBox" x1="0" y1="0" x2="1" y2="0"><stop offset="0.000" stop-color="#444444"/><stop offset="0.050" stop-color="#4a4a4a"/><stop offset="0.100" stop-color="#535353"/><stop offset="0.150" stop-color="#5e5e5e"/><stop offset="0.200" stop-color="#6a6a6a"/><stop offset="0.250" stop-color="#767676"/><stop offset="0.300" stop-color="#838383"/><stop offset="0.351" stop-color="#8f8f8f"/><stop offset="0.401" stop-color="#999999"/><stop offset="0.451" stop-color="#a2a2a2"/><stop offset="0.501" stop-color="#a8a8a8"/><stop offset="0.551" stop-color="#a9a9a9"/><stop offset="0.601" stop-color="#a8a8a8"/><stop offset="0.651" stop-color="#a4a4a4"/><stop offset="0.701" stop-color="#a1a1a1"/><stop offset="0.751" stop-color="#9f9f9f"/><stop offset="0.801" stop-color="#9d9d9d"/><stop offset="0.851" stop-color="#949494"/><stop offset="0.901" stop-color="#858585"/><stop offset="0.952" stop-color="#747474"/><stop offset="1.000" stop-color="#6a6a6a"/></linearGradient>
<linearGradient id="s98" gradientUnits="objectBoundingBox" x1="0" y1="0" x2="1" y2="0"><stop offset="0.000" stop-color="#444444"/><stop offset="0.050" stop-color="#4a4a4a"/><stop offset="0.100" stop-color="#535353"/><stop offset="0.150" stop-color="#5e5e5e"/><stop offset="0.200" stop-color="#6a6a6a"/><stop offset="0.250" stop-color="#767676"/><stop offset="0.300" stop-color="#838383"/><stop offset="0.351" stop-color="#8f8f8f"/><stop offset="0.401" stop-color="#9a9a9a"/><stop offset="0.451" stop-color="#a3a3a3"/><stop offset="0.501" stop-color="#a8a8a8"/><stop offset="0.551" stop-color="#a9a9a9"/><stop offset="0.601" stop-color="#a7a7a7"/><stop offset="0.651" stop-color="#a4a4a4"/><stop offset="0.701" stop-color="#9f9f9f"/><stop offset="0.751" stop-color="#9d9d9d"/><stop offset="0.801" stop-color="#9b9b9b"/><stop offset="0.851" stop-color="#929292"/><stop offset="0.901" stop-color="#838383"/><stop offset="0.952" stop-color="#727272"/><stop offset="1.000" stop-color="#686868"/></linearGradient>
<linearGradient id="s99" gradientUnits="objectBoundingBox" x1="0" y1="0" x2="1" y2="0"><stop offset="0.000" stop-color="#444444"/><stop offset="0.050" stop-color="#4b4b4b"/><stop offset="0.100" stop-color="#535353"/><stop offset="0.150" stop-color="#5e5e5e"/><stop offset="0.200" stop-color="#6a6a6a"/><stop offset="0.250" stop-color="#777777"/><stop offset="0.300" stop-color="#848484"/><stop offset="0.351" stop-color="#909090"/><stop offset="0.401" stop-color="#9a9a9a"/><stop offset="0.451" stop-color="#a3a3a3"/><stop offset="0.501" stop-color="#a8a8a8"/><stop offset="0.551" stop-color="#a9a9a9"/><stop offset="0.601" stop-color="#a7a7a7"/><stop offset="0.651" stop-color="#a3a3a3"/><stop offset="0.701" stop-color="#9e9e9e"/><stop offset="0.751" stop-color="#9b9b9b"/><stop offset="0.801" stop-color="#999999"/><stop offset="0.851" stop-color="#909090"/><stop offset="0.901" stop-color="#818181"/><stop offset="0.952" stop-color="#707070"/><stop offset="1.000" stop-color="#666666"/></linearGradient>
<linearGradient id="s100" gradientUnits="objectBoundingBox" x1="0" y1="0" x2="1" y2="0"><stop offset="0.000" stop-color="#444444"/><stop offset="0.050" stop-color="#4b4b4b"/><stop offset="0.100" stop-color="#545454"/><stop offset="0.150" stop-color="#5f5f5f"/><stop offset="0.200" stop-color="#6b6b6b"/><stop offset="0.250" stop-color="#777777"/><stop offset="0.300" stop-color="#848484"/><stop offset="0.351" stop-color="#909090"/><stop offset="0.401" stop-color="#9a9a9a"/><stop offset="0.451" stop-color="#a3a3a3"/><stop offset="0.501" stop-color="#a9a9a9"/><stop offset="0.551" stop-color="#a9a9a9"/><stop offset="0.601" stop-color="#a6a6a6"/><stop offset="0.651" stop-color="#a2a2a2"/><stop offset="0.701" stop-color="#9d9d9d"/><stop offset="0.751" stop-color="#9a9a9a"/><stop offset="0.801" stop-color="#979797"/><stop offset="0.851" stop-color="#8e8e8e"/><stop offset="0.901" stop-color="#7f7f7f"/><stop offset="0.952" stop-color="#6d6d6d"/><stop offset="1.000" stop-color="#646464"/></linearGradient>
<linearGradient id="s101" gradientUnits="objectBoundingBox" x1="0" y1="0" x2="1" y2="0"><stop offset="0.000" stop-color="#454545"/><stop offset="0.050" stop-color="#4b4b4b"/><stop offset="0.100" stop-color="#545454"/><stop offset="0.150" stop-color="#5f5f5f"/><stop offset="0.200" stop-color="#6b6b6b"/><stop offset="0.250" stop-color="#777777"/><stop offset="0.300" stop-color="#848484"/><stop offset="0.351" stop-color="#909090"/><stop offset="0.401" stop-color="#9a9a9a"/><stop offset="0.451" stop-color="#a3a3a3"/><stop offset="0.501" stop-color="#a8a8a8"/><stop offset="0.551" stop-color="#a8a8a8"/><stop offset="0.601" stop-color="#a5a5a5"/><stop offset="0.651" stop-color="#a1a1a1"/><stop offset="0.701" stop-color="#9b9b9b"/><stop offset="0.751" stop-color="#989898"/><stop offset="0.801" stop-color="#949494"/><stop offset="0.851" stop-color="#8b8b8b"/><stop offset="0.901" stop-color="#7c7c7c"/><stop offset="0.952" stop-color="#6c6c6c"/><stop offset="1.000" stop-color="#636363"/></linearGradient>
<linearGradient id="s102" gradientUnits="objectBoundingBox" x1="0" y1="0" x2="1" y2="0"><stop offset="0.000" stop-color="#454545"/><stop offset="0.050" stop-color="#4b4b4b"/><stop offset="0.100" stop-color="#545454"/><stop offset="0.150" stop-color="#5f5f5f"/><stop offset="0.200" stop-color="#6b6b6b"/><stop offset="0.250" stop-color="#787878"/><stop offset="0.300" stop-color="#858585"/><stop offset="0.351" stop-color="#909090"/><stop offset="0.401" stop-color="#9b9b9b"/><stop offset="0.451" stop-color="#a3a3a3"/><stop offset="0.501" stop-color="#a8a8a8"/><stop offset="0.551" stop-color="#a8a8a8"/><stop offset="0.601" stop-color="#a5a5a5"/><stop offset="0.651" stop-color="#a0a0a0"/><stop offset="0.701" stop-color="#9a9a9a"/><stop offset="0.751" stop-color="#969696"/><stop offset="0.801" stop-color="#929292"/><stop offset="0.851" stop-color="#898989"/><stop offset="0.901" stop-color="#7a7a7a"/><stop offset="0.952" stop-color="#6a6a6a"/><stop offset="1.000" stop-color="#626262"/></linearGradient>
<linearGradient id="s103" gradientUnits="objectBoundingBox" x1="0" y1="0" x2="1" y2="0"><stop offset="0.000" stop-color="#454545"/><stop offset="0.050" stop-color="#4c4c4c"/><stop offset="0.100" stop-color="#555555"/><stop offset="0.150" stop-color="#5f5f5f"/><stop offset="0.200" stop-color="#6b6b6b"/><stop offset="0.250" stop-color="#787878"/><stop offset="0.300" stop-color="#858585"/><stop offset="0.351" stop-color="#909090"/><stop offset="0.401" stop-color="#9b9b9b"/><stop offset="0.451" stop-color="#a3a3a3"/><stop offset="0.501" stop-color="#a8a8a8"/><stop offset="0.551" stop-color="#a8a8a8"/><stop offset="0.601" stop-color="#a4a4a4"/><stop offset="0.651" stop-color="#9f9f9f"/><stop offset="0.701" stop-color="#999999"/><stop offset="0.751" stop-color="#959595"/><stop offset="0.801" stop-color="#909090"/><stop offset="0.851" stop-color="#878787"/><stop offset="0.901" stop-color="#787878"/><stop offset="0.952" stop-color="#686868"/><stop offset="1.000" stop-color="#616161"/></linearGradient>
<linearGradient id="s104" gradientUnits="objectBoundingBox" x1="0" y1="0" x2="1" y2="0"><stop offset="0.000" stop-color="#464646"/><stop offset="0.050" stop-color="#4c4c4c"/><stop offset="0.100" stop-color="#555555"/><stop offset="0.150" stop-color="#606060"/><stop offset="0.200" stop-color="#6c6c6c"/><stop offset="0.250" stop-color="#787878"/><stop offset="0.300" stop-color="#858585"/><stop offset="0.351" stop-color="#919191"/><stop offset="0.401" stop-color="#9b9b9b"/><stop offset="0.451" stop-color="#a3a3a3"/><stop offset="0.501" stop-color="#a8a8a8"/><stop offset="0.551" stop-color="#a7a7a7"/><stop offset="0.601" stop-color="#a3a3a3"/><stop offset="0.651" stop-color="#9e9e9e"/><stop offset="0.701" stop-color="#989898"/><stop offset="0.751" stop-color="#939393"/><stop offset="0.801" stop-color="#8f8f8f"/><stop offset="0.851" stop-color="#858585"/><stop offset="0.901" stop-color="#777777"/><stop offset="0.952" stop-color="#676767"/><stop offset="1.000" stop-color="#606060"/></linearGradient>
<linearGradient id="s105" gradientUnits="objectBoundingBox" x1="0" y1="0" x2="1" y2="0"><stop offset="0.000" stop-color="#464646"/><stop offset="0.050" stop-color="#4d4d4d"/><stop offset="0.100" stop-color="#555555"/><stop offset="0.150" stop-color="#606060"/><stop offset="0.200" stop-color="#6c6c6c"/><stop offset="0.250" stop-color="#787878"/><stop offset="0.300" stop-color="#858585"/><stop offset="0.351" stop-color="#919191"/><stop offset="0.401" stop-color="#9b9b9b"/><stop offset="0.451" stop-color="#a3a3a3"/><stop offset="0.501" stop-color="#a7a7a7"/><stop offset="0.551" stop-color="#a6a6a6"/><stop offset="0.601" stop-color="#a3a3a3"/><stop offset="0.651" stop-color="#9d9d9d"/><stop offset="0.701" stop-color="#979797"/><stop offset="0.751" stop-color="#929292"/><stop offset="0.801" stop-color="#8d8d8d"/><stop offset="0.851" stop-color="#838383"/><stop offset="0.901" stop-color="#757575"/><stop offset="0.952" stop-color="#666666"/><stop offset="1.000" stop-color="#5f5f5f"/></linearGradient>
<linearGradient id="s106" gradientUnits="objectBoundingBox" x1="0" y1="0" x2="1" y2="0"><stop offset="0.000" stop-color="#464646"/><stop offset="0.050" stop-color="#4d4d4d"/><stop offset="0.100" stop-color="#555555"/><stop offset="0.150" stop-color="#606060"/><stop offset="0.200" stop-color="#6c6c6c"/><stop offset="0.250" stop-color="#787878"/><stop offset="0.300" stop-color="#858585"/><stop offset="0.351" stop-color="#919191"/><stop offset="0.401" stop-color="#9b9b9b"/><stop offset="0.451" stop-color="#a3a3a3"/><stop offset="0.501" stop-color="#a7a7a7"/><stop offset="0.551" stop-color="#a6a6a6"/><stop offset="0.601" stop-color="#a3a3a3"/><stop offset="0.651" stop-color="#9d9d9d"/><stop offset="0.701" stop-color="#979797"/><stop offset="0.751" stop-color="#929292"/><stop offset="0.801" stop-color="#8d8d8d"/><stop offset="0.851" stop-color="#838383"/><stop offset="0.901" stop-color="#757575"/><stop offset="0.952" stop-color="#666666"/><stop offset="1.000" stop-color="#5f5f5f"/></linearGradient>
<linearGradient id="s107" gradientUnits="objectBoundingBox" x1="0" y1="0" x2="1" y2="0"><stop offset="0.000" stop-color="#464646"/><stop offset="0.050" stop-color="#4d4d4d"/><stop offset="0.100" stop-color="#555555"/><stop offset="0.150" stop-color="#606060"/><stop offset="0.200" stop-color="#6c6c6c"/><stop offset="0.250" stop-color="#787878"/><stop offset="0.300" stop-color="#858585"/><stop offset="0.351" stop-color="#919191"/><stop offset="0.401" stop-color="#9b9b9b"/><stop offset="0.451" stop-color="#a3a3a3"/><stop offset="0.501" stop-color="#a7a7a7"/><stop offset="0.551" stop-color="#a6a6a6"/><stop offset="0.601" stop-color="#a3a3a3"/><stop offset="0.651" stop-color="#9d9d9d"/><stop offset="0.701" stop-color="#979797"/><stop offset="0.751" stop-color="#929292"/><stop offset="0.801" stop-color="#8d8d8d"/><stop offset="0.851" stop-color="#838383"/><stop offset="0.901" stop-color="#757575"/><stop offset="0.952" stop-color="#666666"/><stop offset="1.000" stop-color="#5f5f5f"/></linearGradient>
</defs>
<g clip-path="url(#tc)"><g filter="url(#bv)"><rect x="10" y="358" width="619" height="4.5" fill="url(#s0)"/><rect x="10" y="362" width="619" height="4.5" fill="url(#s1)"/><rect x="10" y="366" width="619" height="4.5" fill="url(#s2)"/><rect x="10" y="370" width="619" height="4.5" fill="url(#s3)"/><rect x="10" y="374" width="619" height="4.5" fill="url(#s4)"/><rect x="10" y="378" width="619" height="4.5" fill="url(#s5)"/><rect x="10" y="382" width="619" height="4.5" fill="url(#s6)"/><rect x="10" y="386" width="619" height="4.5" fill="url(#s7)"/><rect x="10" y="390" width="619" height="4.5" fill="url(#s8)"/><rect x="10" y="394" width="619" height="4.5" fill="url(#s9)"/><rect x="10" y="398" width="619" height="4.5" fill="url(#s10)"/><rect x="10" y="402" width="619" height="4.5" fill="url(#s11)"/><rect x="10" y="406" width="619" height="4.5" fill="url(#s12)"/><rect x="10" y="410" width="619" height="4.5" fill="url(#s13)"/><rect x="10" y="414" width="619" height="4.5" fill="url(#s14)"/><rect x="10" y="418" width="619" height="4.5" fill="url(#s15)"/><rect x="10" y="422" width="619" height="4.5" fill="url(#s16)"/><rect x="10" y="426" width="619" height="4.5" fill="url(#s17)"/><rect x="10" y="430" width="619" height="4.5" fill="url(#s18)"/><rect x="10" y="434" width="619" height="4.5" fill="url(#s19)"/><rect x="10" y="438" width="619" height="4.5" fill="url(#s20)"/><rect x="10" y="442" width="619" height="4.5" fill="url(#s21)"/><rect x="10" y="446" width="619" height="4.5" fill="url(#s22)"/><rect x="10" y="450" width="619" height="4.5" fill="url(#s23)"/><rect x="10" y="454" width="619" height="4.5" fill="url(#s24)"/><rect x="10" y="458" width="619" height="4.5" fill="url(#s25)"/><rect x="10" y="462" width="619" height="4.5" fill="url(#s26)"/><rect x="10" y="466" width="619" height="4.5" fill="url(#s27)"/><rect x="10" y="470" width="619" height="4.5" fill="url(#s28)"/><rect x="10" y="474" width="619" height="4.5" fill="url(#s29)"/><rect x="10" y="478" width="619" height="4.5" fill="url(#s30)"/><rect x="10" y="482" width="619" height="4.5" fill="url(#s31)"/><rect x="10" y="486" width="619" height="4.5" fill="url(#s32)"/><rect x="10" y="490" width="619" height="4.5" fill="url(#s33)"/><rect x="10" y="494" width="619" height="4.5" fill="url(#s34)"/><rect x="10" y="498" width="619" height="4.5" fill="url(#s35)"/><rect x="10" y="502" width="619" height="4.5" fill="url(#s36)"/><rect x="10" y="506" width="619" height="4.5" fill="url(#s37)"/><rect x="10" y="510" width="619" height="4.5" fill="url(#s38)"/><rect x="10" y="514" width="619" height="4.5" fill="url(#s39)"/><rect x="10" y="518" width="619" height="4.5" fill="url(#s40)"/><rect x="10" y="522" width="619" height="4.5" fill="url(#s41)"/><rect x="10" y="526" width="619" height="4.5" fill="url(#s42)"/><rect x="10" y="530" width="619" height="4.5" fill="url(#s43)"/><rect x="10" y="534" width="619" height="4.5" fill="url(#s44)"/><rect x="10" y="538" width="619" height="4.5" fill="url(#s45)"/><rect x="10" y="542" width="619" height="4.5" fill="url(#s46)"/><rect x="10" y="546" width="619" height="4.5" fill="url(#s47)"/><rect x="10" y="550" width="619" height="4.5" fill="url(#s48)"/><rect x="10" y="554" width="619" height="4.5" fill="url(#s49)"/><rect x="10" y="558" width="619" height="4.5" fill="url(#s50)"/><rect x="10" y="562" width="619" height="4.5" fill="url(#s51)"/><rect x="10" y="566" width="619" height="4.5" fill="url(#s52)"/><rect x="10" y="570" width="619" height="4.5" fill="url(#s53)"/><rect x="10" y="574" width="619" height="4.5" fill="url(#s54)"/><rect x="10" y="578" width="619" height="4.5" fill="url(#s55)"/><rect x="10" y="582" width="619" height="4.5" fill="url(#s56)"/><rect x="10" y="586" width="619" height="4.5" fill="url(#s57)"/><rect x="10" y="590" width="619" height="4.5" fill="url(#s58)"/><rect x="10" y="594" width="619" height="4.5" fill="url(#s59)"/><rect x="10" y="598" width="619" height="4.5" fill="url(#s60)"/><rect x="10" y="602" width="619" height="4.5" fill="url(#s61)"/><rect x="10" y="606" width="619" height="4.5" fill="url(#s62)"/><rect x="10" y="610" width="619" height="4.5" fill="url(#s63)"/><rect x="10" y="614" width="619" height="4.5" fill="url(#s64)"/><rect x="10" y="618" width="619" height="4.5" fill="url(#s65)"/><rect x="10" y="622" width="619" height="4.5" fill="url(#s66)"/><rect x="10" y="626" width="619" height="4.5" fill="url(#s67)"/><rect x="10" y="630" width="619" height="4.5" fill="url(#s68)"/><rect x="10" y="634" width="619" height="4.5" fill="url(#s69)"/><rect x="10" y="638" width="619" height="4.5" fill="url(#s70)"/><rect x="10" y="642" width="619" height="4.5" fill="url(#s71)"/><rect x="10" y="646" width="619" height="4.5" fill="url(#s72)"/><rect x="10" y="650" width="619" height="4.5" fill="url(#s73)"/><rect x="10" y="654" width="619" height="4.5" fill="url(#s74)"/><rect x="10" y="658" width="619" height="4.5" fill="url(#s75)"/><rect x="10" y="662" width="619" height="4.5" fill="url(#s76)"/><rect x="10" y="666" width="619" height="4.5" fill="url(#s77)"/><rect x="10" y="670" width="619" height="4.5" fill="url(#s78)"/><rect x="10" y="674" width="619" height="4.5" fill="url(#s79)"/><rect x="10" y="678" width="619" height="4.5" fill="url(#s80)"/><rect x="10" y="682" width="619" height="4.5" fill="url(#s81)"/><rect x="10" y="686" width="619" height="4.5" fill="url(#s82)"/><rect x="10" y="690" width="619" height="4.5" fill="url(#s83)"/><rect x="10" y="694" width="619" height="4.5" fill="url(#s84)"/><rect x="10" y="698" width="619" height="4.5" fill="url(#s85)"/><rect x="10" y="702" width="619" height="4.5" fill="url(#s86)"/><rect x="10" y="706" width="619" height="4.5" fill="url(#s87)"/><rect x="10" y="710" width="619" height="4.5" fill="url(#s88)"/><rect x="10" y="714" width="619" height="4.5" fill="url(#s89)"/><rect x="10" y="718" width="619" height="4.5" fill="url(#s90)"/><rect x="10" y="722" width="619" height="4.5" fill="url(#s91)"/><rect x="10" y="726" width="619" height="4.5" fill="url(#s92)"/><rect x="10" y="730" width="619" height="4.5" fill="url(#s93)"/><rect x="10" y="734" width="619" height="4.5" fill="url(#s94)"/><rect x="10" y="738" width="619" height="4.5" fill="url(#s95)"/><rect x="10" y="742" width="619" height="4.5" fill="url(#s96)"/><rect x="10" y="746" width="619" height="4.5" fill="url(#s97)"/><rect x="10" y="750" width="619" height="4.5" fill="url(#s98)"/><rect x="10" y="754" width="619" height="4.5" fill="url(#s99)"/><rect x="10" y="758" width="619" height="4.5" fill="url(#s100)"/><rect x="10" y="762" width="619" height="4.5" fill="url(#s101)"/><rect x="10" y="766" width="619" height="4.5" fill="url(#s102)"/><rect x="10" y="770" width="619" height="4.5" fill="url(#s103)"/><rect x="10" y="774" width="619" height="4.5" fill="url(#s104)"/><rect x="10" y="778" width="619" height="4.5" fill="url(#s105)"/><rect x="10" y="782" width="619" height="4.5" fill="url(#s106)"/><rect x="10" y="786" width="619" height="4.5" fill="url(#s107)"/></g>
<g filter="url(#bl)" fill="#000"><ellipse cx="108.4" cy="398.0" rx="11.1" ry="9.8" fill-opacity="0.90"/><ellipse cx="133.1" cy="405.4" rx="9.8" ry="9.8" fill-opacity="0.90"/><ellipse cx="130.6" cy="382.0" rx="9.8" ry="8.6" fill-opacity="0.90"/><ellipse cx="162.6" cy="400.5" rx="8.6" ry="7.4" fill-opacity="0.90"/><ellipse cx="189.7" cy="406.6" rx="8.6" ry="8.6" fill-opacity="0.90"/><ellipse cx="206.9" cy="390.6" rx="7.4" ry="7.4" fill-opacity="0.90"/><ellipse cx="187.2" cy="378.3" rx="7.4" ry="7.4" fill-opacity="0.90"/><ellipse cx="165.1" cy="418.9" rx="7.4" ry="7.4" fill-opacity="0.90"/><ellipse cx="119.5" cy="423.8" rx="7.4" ry="7.4" fill-opacity="0.90"/><ellipse cx="144.1" cy="438.6" rx="9.4" ry="7.9" fill-opacity="0.90"/><ellipse cx="187.2" cy="433.7" rx="8.6" ry="8.6" fill-opacity="0.90"/><ellipse cx="99.8" cy="431.2" rx="9.8" ry="7.4" fill-opacity="0.90"/><ellipse cx="56.8" cy="437.4" rx="13.5" ry="9.8" fill-opacity="0.90"/><ellipse cx="37.1" cy="458.3" rx="13.5" ry="9.8" fill-opacity="0.90"/><ellipse cx="93.7" cy="465.7" rx="12.3" ry="11.1" fill-opacity="0.90"/><ellipse cx="123.2" cy="447.2" rx="7.4" ry="7.4" fill-opacity="0.90"/><ellipse cx="135.5" cy="460.8" rx="5.4" ry="5.4" fill-opacity="0.90"/><ellipse cx="165.1" cy="450.9" rx="11.1" ry="7.9" fill-opacity="0.90"/><ellipse cx="202.0" cy="464.4" rx="9.8" ry="11.1" fill-opacity="0.86"/><ellipse cx="119.5" cy="475.5" rx="8.6" ry="6.9" fill-opacity="0.90"/><ellipse cx="145.4" cy="475.5" rx="6.9" ry="6.9" fill-opacity="0.90"/><ellipse cx="174.9" cy="471.8" rx="7.4" ry="6.2" fill-opacity="0.88"/><ellipse cx="22.3" cy="486.6" rx="12.3" ry="9.8" fill-opacity="0.90"/><ellipse cx="56.8" cy="486.6" rx="10.3" ry="9.8" fill-opacity="0.90"/><ellipse cx="104.8" cy="491.5" rx="5.4" ry="5.4" fill-opacity="0.90"/><ellipse cx="125.7" cy="496.4" rx="7.9" ry="7.4" fill-opacity="0.89"/><ellipse cx="157.7" cy="502.6" rx="9.8" ry="8.6" fill-opacity="0.86"/><ellipse cx="187.2" cy="487.8" rx="7.4" ry="6.2" fill-opacity="0.85"/><ellipse cx="83.8" cy="498.9" rx="5.4" ry="5.4" fill-opacity="0.90"/><ellipse cx="192.1" cy="508.8" rx="6.9" ry="6.2" fill-opacity="0.82"/><ellipse cx="208.1" cy="498.9" rx="4.9" ry="4.9" fill-opacity="0.82"/><ellipse cx="19.8" cy="511.2" rx="11.1" ry="9.8" fill-opacity="0.90"/><ellipse cx="64.1" cy="512.4" rx="7.4" ry="6.2" fill-opacity="0.90"/><ellipse cx="98.6" cy="511.2" rx="7.9" ry="6.9" fill-opacity="0.90"/><ellipse cx="133.1" cy="522.3" rx="10.3" ry="7.4" fill-opacity="0.86"/><ellipse cx="82.6" cy="521.1" rx="5.4" ry="5.4" fill-opacity="0.90"/><ellipse cx="46.9" cy="529.7" rx="7.4" ry="6.9" fill-opacity="0.90"/><ellipse cx="21.1" cy="533.4" rx="7.4" ry="6.9" fill-opacity="0.90"/><ellipse cx="160.1" cy="538.3" rx="7.9" ry="8.6" fill-opacity="0.82"/><ellipse cx="197.1" cy="534.6" rx="10.3" ry="8.6" fill-opacity="0.79"/><ellipse cx="88.8" cy="545.7" rx="10.3" ry="11.1" fill-opacity="0.87"/><ellipse cx="55.5" cy="545.7" rx="7.4" ry="4.9" fill-opacity="0.89"/><ellipse cx="131.8" cy="545.7" rx="4.4" ry="4.4" fill-opacity="0.84"/><ellipse cx="19.8" cy="550.6" rx="6.9" ry="6.9" fill-opacity="0.89"/><ellipse cx="46.9" cy="562.9" rx="10.3" ry="7.4" fill-opacity="0.87"/><ellipse cx="118.3" cy="555.5" rx="3.7" ry="3.7" fill-opacity="0.84"/><ellipse cx="170.0" cy="565.4" rx="8.6" ry="6.2" fill-opacity="0.78"/><ellipse cx="197.1" cy="570.3" rx="6.2" ry="4.9" fill-opacity="0.76"/><ellipse cx="217.6" cy="555.5" rx="8.7" ry="5.7" fill-opacity="0.76"/><ellipse cx="220.9" cy="375.8" rx="6.2" ry="6.2" fill-opacity="0.90"/><ellipse cx="244.3" cy="377.1" rx="8.6" ry="7.4" fill-opacity="0.90"/><ellipse cx="310.8" cy="372.2" rx="8.6" ry="6.2" fill-opacity="0.90"/><ellipse cx="341.5" cy="370.9" rx="7.4" ry="4.4" fill-opacity="0.90"/><ellipse cx="388.3" cy="382.0" rx="5.4" ry="5.4" fill-opacity="0.88"/><ellipse cx="405.5" cy="388.2" rx="8.6" ry="7.4" fill-opacity="0.86"/><ellipse cx="417.8" cy="373.4" rx="4.9" ry="4.9" fill-opacity="0.88"/><ellipse cx="228.3" cy="394.3" rx="8.6" ry="7.4" fill-opacity="0.90"/><ellipse cx="267.7" cy="393.1" rx="9.8" ry="7.9" fill-opacity="0.90"/><ellipse cx="293.5" cy="386.9" rx="7.9" ry="8.6" fill-opacity="0.90"/><ellipse cx="297.2" cy="401.7" rx="6.2" ry="7.4" fill-opacity="0.88"/><ellipse cx="329.2" cy="389.4" rx="9.4" ry="7.4" fill-opacity="0.88"/><ellipse cx="362.4" cy="395.5" rx="9.8" ry="8.6" fill-opacity="0.87"/><ellipse cx="388.3" cy="396.8" rx="6.2" ry="6.2" fill-opacity="0.86"/><ellipse cx="245.5" cy="406.6" rx="6.2" ry="6.2" fill-opacity="0.89"/><ellipse cx="339.1" cy="407.8" rx="6.9" ry="6.9" fill-opacity="0.86"/><ellipse cx="227.1" cy="423.8" rx="11.1" ry="9.8" fill-opacity="0.89"/><ellipse cx="251.7" cy="422.6" rx="6.2" ry="6.2" fill-opacity="0.87"/><ellipse cx="272.6" cy="418.9" rx="10.3" ry="9.8" fill-opacity="0.87"/><ellipse cx="315.7" cy="417.7" rx="9.8" ry="8.6" fill-opacity="0.85"/><ellipse cx="336.6" cy="425.1" rx="6.9" ry="5.4" fill-opacity="0.83"/><ellipse cx="366.1" cy="428.8" rx="9.4" ry="8.6" fill-opacity="0.82"/><ellipse cx="394.4" cy="423.8" rx="10.3" ry="9.4" fill-opacity="0.82"/><ellipse cx="296.0" cy="432.5" rx="6.9" ry="5.4" fill-opacity="0.84"/><ellipse cx="418.9" cy="443.5" rx="11.2" ry="9.1" fill-opacity="0.79"/><ellipse cx="256.6" cy="448.5" rx="9.4" ry="7.4" fill-opacity="0.84"/><ellipse cx="283.7" cy="450.9" rx="6.9" ry="6.2" fill-opacity="0.82"/><ellipse cx="312.0" cy="446.0" rx="10.3" ry="7.4" fill-opacity="0.81"/><ellipse cx="347.7" cy="455.8" rx="11.1" ry="10.3" fill-opacity="0.78"/><ellipse cx="384.6" cy="458.3" rx="9.4" ry="7.4" fill-opacity="0.77"/><ellipse cx="235.7" cy="459.5" rx="8.6" ry="7.9" fill-opacity="0.84"/><ellipse cx="323.1" cy="463.2" rx="6.9" ry="6.2" fill-opacity="0.78"/><ellipse cx="298.5" cy="465.7" rx="7.4" ry="6.2" fill-opacity="0.79"/><ellipse cx="267.7" cy="470.6" rx="7.9" ry="6.2" fill-opacity="0.80"/><ellipse cx="406.7" cy="469.4" rx="6.9" ry="6.2" fill-opacity="0.75"/><ellipse cx="310.8" cy="479.2" rx="6.2" ry="5.4" fill-opacity="0.76"/><ellipse cx="368.6" cy="479.2" rx="6.9" ry="6.2" fill-opacity="0.74"/><ellipse cx="294.8" cy="484.1" rx="5.4" ry="4.4" fill-opacity="0.76"/><ellipse cx="234.5" cy="489.1" rx="10.3" ry="8.6" fill-opacity="0.80"/><ellipse cx="270.1" cy="491.5" rx="10.3" ry="8.6" fill-opacity="0.77"/><ellipse cx="324.3" cy="491.5" rx="8.6" ry="6.9" fill-opacity="0.73"/><ellipse cx="346.4" cy="489.1" rx="7.9" ry="6.2" fill-opacity="0.73"/><ellipse cx="388.3" cy="484.1" rx="7.9" ry="6.9" fill-opacity="0.73"/><ellipse cx="373.5" cy="495.2" rx="6.2" ry="4.9" fill-opacity="0.72"/><ellipse cx="304.6" cy="498.9" rx="6.9" ry="6.2" fill-opacity="0.73"/><ellipse cx="411.7" cy="500.1" rx="9.8" ry="9.8" fill-opacity="0.71"/><ellipse cx="256.6" cy="511.2" rx="6.9" ry="6.2" fill-opacity="0.76"/><ellipse cx="282.5" cy="510.0" rx="8.6" ry="7.4" fill-opacity="0.74"/><ellipse cx="318.1" cy="516.1" rx="9.4" ry="7.9" fill-opacity="0.71"/><ellipse cx="357.5" cy="514.9" rx="10.3" ry="9.4" fill-opacity="0.70"/><ellipse cx="385.8" cy="514.9" rx="8.6" ry="8.6" fill-opacity="0.69"/><ellipse cx="232.0" cy="517.4" rx="11.1" ry="8.6" fill-opacity="0.78"/><ellipse cx="287.4" cy="533.4" rx="9.8" ry="7.4" fill-opacity="0.71"/><ellipse cx="266.5" cy="535.8" rx="7.4" ry="4.9" fill-opacity="0.73"/><ellipse cx="330.4" cy="540.7" rx="11.1" ry="9.8" fill-opacity="0.68"/><ellipse cx="361.2" cy="540.7" rx="6.2" ry="4.9" fill-opacity="0.67"/><ellipse cx="379.7" cy="540.7" rx="7.4" ry="6.2" fill-opacity="0.66"/><ellipse cx="399.4" cy="540.7" rx="7.4" ry="6.2" fill-opacity="0.66"/><ellipse cx="239.4" cy="545.7" rx="8.6" ry="7.9" fill-opacity="0.74"/><ellipse cx="424.2" cy="547.5" rx="12.7" ry="9.6" fill-opacity="0.65"/><ellipse cx="282.5" cy="554.3" rx="8.6" ry="6.9" fill-opacity="0.70"/><ellipse cx="310.8" cy="559.2" rx="8.6" ry="8.6" fill-opacity="0.68"/><ellipse cx="262.8" cy="562.9" rx="8.6" ry="7.4" fill-opacity="0.71"/><ellipse cx="336.6" cy="562.9" rx="5.4" ry="4.9" fill-opacity="0.66"/><ellipse cx="378.4" cy="571.6" rx="12.5" ry="11.4" fill-opacity="0.63"/><ellipse cx="439.2" cy="383.2" rx="9.4" ry="8.6" fill-opacity="0.86"/><ellipse cx="462.6" cy="393.1" rx="9.8" ry="7.9" fill-opacity="0.85"/><ellipse cx="497.1" cy="377.1" rx="12.3" ry="8.6" fill-opacity="0.87"/><ellipse cx="529.1" cy="380.8" rx="6.9" ry="5.4" fill-opacity="0.86"/><ellipse cx="550.0" cy="379.5" rx="7.4" ry="7.4" fill-opacity="0.86"/><ellipse cx="575.8" cy="374.6" rx="8.6" ry="6.2" fill-opacity="0.87"/><ellipse cx="621.4" cy="374.6" rx="8.6" ry="7.4" fill-opacity="0.87"/><ellipse cx="589.4" cy="396.8" rx="9.4" ry="7.9" fill-opacity="0.85"/><ellipse cx="620.1" cy="398.0" rx="8.6" ry="8.6" fill-opacity="0.85"/><ellipse cx="429.4" cy="409.1" rx="8.6" ry="6.9" fill-opacity="0.83"/><ellipse cx="460.1" cy="416.5" rx="8.6" ry="6.2" fill-opacity="0.82"/><ellipse cx="500.8" cy="417.7" rx="11.8" ry="9.8" fill-opacity="0.81"/><ellipse cx="529.1" cy="407.8" rx="8.6" ry="7.9" fill-opacity="0.83"/><ellipse cx="543.8" cy="398.0" rx="4.4" ry="4.4" fill-opacity="0.84"/><ellipse cx="559.8" cy="398.0" rx="6.2" ry="6.2" fill-opacity="0.85"/><ellipse cx="552.4" cy="415.2" rx="6.9" ry="5.4" fill-opacity="0.82"/><ellipse cx="577.1" cy="418.9" rx="9.8" ry="7.9" fill-opacity="0.83"/><ellipse cx="609.1" cy="416.5" rx="6.9" ry="6.2" fill-opacity="0.83"/><ellipse cx="446.6" cy="431.2" rx="7.9" ry="6.2" fill-opacity="0.80"/><ellipse cx="472.5" cy="431.2" rx="7.4" ry="5.4" fill-opacity="0.79"/><ellipse cx="493.4" cy="439.8" rx="7.9" ry="6.2" fill-opacity="0.78"/><ellipse cx="540.1" cy="438.6" rx="10.3" ry="8.6" fill-opacity="0.79"/><ellipse cx="564.8" cy="444.8" rx="8.6" ry="6.2" fill-opacity="0.79"/><ellipse cx="591.8" cy="448.5" rx="9.8" ry="8.6" fill-opacity="0.80"/><ellipse cx="616.4" cy="438.6" rx="9.4" ry="8.6" fill-opacity="0.81"/><ellipse cx="468.8" cy="454.6" rx="8.6" ry="7.4" fill-opacity="0.76"/><ellipse cx="514.3" cy="452.1" rx="7.9" ry="6.2" fill-opacity="0.76"/><ellipse cx="494.6" cy="464.4" rx="7.9" ry="6.2" fill-opacity="0.74"/><ellipse cx="515.5" cy="465.7" rx="6.2" ry="4.9" fill-opacity="0.74"/><ellipse cx="537.7" cy="464.4" rx="8.6" ry="6.9" fill-opacity="0.75"/><ellipse cx="569.7" cy="466.9" rx="6.9" ry="6.2" fill-opacity="0.76"/><ellipse cx="623.8" cy="466.9" rx="6.2" ry="7.4" fill-opacity="0.78"/><ellipse cx="452.8" cy="476.8" rx="9.8" ry="9.4" fill-opacity="0.73"/><ellipse cx="428.2" cy="472.3" rx="3.0" ry="2.5" fill-opacity="0.74"/><ellipse cx="481.1" cy="482.9" rx="7.9" ry="6.2" fill-opacity="0.72"/><ellipse cx="509.4" cy="481.7" rx="4.4" ry="4.4" fill-opacity="0.72"/><ellipse cx="527.8" cy="485.4" rx="6.2" ry="4.9" fill-opacity="0.72"/><ellipse cx="554.9" cy="474.3" rx="5.4" ry="4.9" fill-opacity="0.75"/><ellipse cx="596.7" cy="476.8" rx="8.6" ry="6.2" fill-opacity="0.76"/><ellipse cx="548.8" cy="490.3" rx="7.4" ry="6.2" fill-opacity="0.72"/><ellipse cx="567.2" cy="486.6" rx="7.4" ry="6.2" fill-opacity="0.74"/><ellipse cx="505.7" cy="496.4" rx="9.4" ry="7.4" fill-opacity="0.70"/><ellipse cx="534.0" cy="494.0" rx="2.5" ry="2.0" fill-opacity="0.71"/><ellipse cx="620.1" cy="494.0" rx="8.6" ry="9.8" fill-opacity="0.75"/><ellipse cx="436.8" cy="502.6" rx="6.2" ry="5.4" fill-opacity="0.70"/><ellipse cx="474.9" cy="505.1" rx="9.4" ry="8.6" fill-opacity="0.69"/><ellipse cx="454.0" cy="508.8" rx="4.9" ry="4.9" fill-opacity="0.69"/><ellipse cx="538.9" cy="507.5" rx="8.6" ry="7.4" fill-opacity="0.69"/><ellipse cx="568.4" cy="508.8" rx="11.1" ry="8.6" fill-opacity="0.71"/><ellipse cx="601.7" cy="508.8" rx="6.2" ry="6.2" fill-opacity="0.72"/><ellipse cx="513.1" cy="513.7" rx="6.9" ry="6.2" fill-opacity="0.68"/><ellipse cx="441.7" cy="524.7" rx="9.4" ry="7.4" fill-opacity="0.67"/><ellipse cx="484.8" cy="522.3" rx="7.4" ry="6.2" fill-opacity="0.67"/><ellipse cx="467.5" cy="527.2" rx="5.4" ry="3.7" fill-opacity="0.67"/><ellipse cx="540.1" cy="527.2" rx="6.9" ry="6.2" fill-opacity="0.67"/><ellipse cx="599.2" cy="526.0" rx="11.1" ry="7.4" fill-opacity="0.70"/><ellipse cx="508.1" cy="535.8" rx="7.4" ry="6.9" fill-opacity="0.65"/><ellipse cx="478.6" cy="539.5" rx="8.6" ry="6.9" fill-opacity="0.65"/><ellipse cx="563.5" cy="535.8" rx="9.4" ry="8.6" fill-opacity="0.65"/><ellipse cx="623.8" cy="535.8" rx="4.9" ry="8.6" fill-opacity="0.69"/><ellipse cx="456.5" cy="549.4" rx="7.4" ry="6.9" fill-opacity="0.64"/><ellipse cx="535.2" cy="553.1" rx="11.1" ry="8.6" fill-opacity="0.60"/><ellipse cx="574.6" cy="553.1" rx="6.2" ry="5.4" fill-opacity="0.60"/><ellipse cx="602.9" cy="554.3" rx="8.6" ry="7.4" fill-opacity="0.62"/><ellipse cx="505.7" cy="560.4" rx="9.8" ry="8.6" fill-opacity="0.59"/><ellipse cx="476.1" cy="569.5" rx="9.1" ry="6.6" fill-opacity="0.58"/><ellipse cx="559.8" cy="561.7" rx="6.2" ry="5.4" fill-opacity="0.57"/><ellipse cx="621.4" cy="562.9" rx="7.4" ry="8.6" fill-opacity="0.61"/><ellipse cx="16.2" cy="593.9" rx="7.4" ry="6.2" fill-opacity="0.86"/><ellipse cx="40.8" cy="591.5" rx="11.1" ry="7.9" fill-opacity="0.85"/><ellipse cx="75.2" cy="585.3" rx="7.4" ry="6.2" fill-opacity="0.83"/><ellipse cx="91.2" cy="575.5" rx="6.2" ry="3.7" fill-opacity="0.83"/><ellipse cx="98.6" cy="592.7" rx="7.9" ry="6.2" fill-opacity="0.81"/><ellipse cx="133.1" cy="586.5" rx="13.5" ry="9.8" fill-opacity="0.79"/><ellipse cx="184.7" cy="592.7" rx="9.4" ry="7.9" fill-opacity="0.75"/><ellipse cx="23.5" cy="624.7" rx="13.5" ry="8.6" fill-opacity="0.84"/><ellipse cx="64.1" cy="611.1" rx="9.8" ry="7.4" fill-opacity="0.82"/><ellipse cx="107.2" cy="618.5" rx="10.3" ry="8.6" fill-opacity="0.78"/><ellipse cx="50.6" cy="629.6" rx="6.9" ry="4.9" fill-opacity="0.82"/><ellipse cx="75.2" cy="630.8" rx="7.9" ry="6.9" fill-opacity="0.80"/><ellipse cx="144.1" cy="629.6" rx="8.6" ry="6.9" fill-opacity="0.75"/><ellipse cx="167.5" cy="614.8" rx="9.8" ry="8.6" fill-opacity="0.74"/><ellipse cx="197.1" cy="617.3" rx="7.4" ry="6.2" fill-opacity="0.72"/><ellipse cx="216.5" cy="612.4" rx="10.4" ry="11.3" fill-opacity="0.71"/><ellipse cx="167.5" cy="633.3" rx="4.9" ry="4.4" fill-opacity="0.73"/><ellipse cx="183.5" cy="634.5" rx="6.9" ry="6.2" fill-opacity="0.72"/><ellipse cx="27.2" cy="650.5" rx="10.3" ry="8.6" fill-opacity="0.83"/><ellipse cx="71.5" cy="654.2" rx="9.8" ry="8.6" fill-opacity="0.80"/><ellipse cx="110.9" cy="644.4" rx="8.6" ry="6.9" fill-opacity="0.77"/><ellipse cx="163.8" cy="646.8" rx="6.2" ry="5.4" fill-opacity="0.73"/><ellipse cx="138.0" cy="656.7" rx="8.6" ry="6.9" fill-opacity="0.74"/><ellipse cx="215.8" cy="645.0" rx="11.5" ry="7.4" fill-opacity="0.69"/><ellipse cx="50.6" cy="669.0" rx="9.4" ry="6.2" fill-opacity="0.81"/><ellipse cx="102.3" cy="664.1" rx="7.9" ry="7.4" fill-opacity="0.77"/><ellipse cx="167.5" cy="671.4" rx="11.8" ry="9.4" fill-opacity="0.71"/><ellipse cx="206.9" cy="675.1" rx="9.4" ry="9.4" fill-opacity="0.68"/><ellipse cx="125.7" cy="675.1" rx="9.4" ry="8.6" fill-opacity="0.75"/><ellipse cx="195.8" cy="657.9" rx="5.4" ry="4.9" fill-opacity="0.70"/><ellipse cx="16.2" cy="683.8" rx="8.6" ry="8.6" fill-opacity="0.83"/><ellipse cx="93.7" cy="683.8" rx="9.4" ry="7.4" fill-opacity="0.77"/><ellipse cx="67.8" cy="692.4" rx="10.3" ry="8.6" fill-opacity="0.79"/><ellipse cx="173.7" cy="688.7" rx="7.4" ry="5.4" fill-opacity="0.70"/><ellipse cx="152.8" cy="701.0" rx="7.9" ry="6.2" fill-opacity="0.72"/><ellipse cx="189.7" cy="701.0" rx="7.9" ry="6.9" fill-opacity="0.68"/><ellipse cx="13.7" cy="710.8" rx="4.9" ry="8.6" fill-opacity="0.83"/><ellipse cx="53.1" cy="712.1" rx="7.4" ry="6.2" fill-opacity="0.80"/><ellipse cx="114.6" cy="718.2" rx="13.5" ry="11.8" fill-opacity="0.75"/><ellipse cx="217.6" cy="705.9" rx="9.8" ry="6.8" fill-opacity="0.65"/><ellipse cx="35.8" cy="725.6" rx="8.6" ry="6.9" fill-opacity="0.81"/><ellipse cx="87.5" cy="731.7" rx="9.8" ry="8.6" fill-opacity="0.77"/><ellipse cx="147.8" cy="725.6" rx="9.8" ry="7.9" fill-opacity="0.72"/><ellipse cx="179.8" cy="723.1" rx="8.6" ry="7.9" fill-opacity="0.68"/><ellipse cx="210.8" cy="729.3" rx="11.5" ry="7.9" fill-opacity="0.65"/><ellipse cx="62.9" cy="735.4" rx="6.9" ry="6.2" fill-opacity="0.79"/><ellipse cx="53.1" cy="750.2" rx="11.1" ry="8.6" fill-opacity="0.80"/><ellipse cx="140.4" cy="749.0" rx="10.3" ry="7.4" fill-opacity="0.72"/><ellipse cx="197.1" cy="747.7" rx="7.4" ry="6.2" fill-opacity="0.66"/><ellipse cx="13.7" cy="747.7" rx="3.7" ry="6.2" fill-opacity="0.82"/><ellipse cx="94.9" cy="756.4" rx="8.6" ry="6.9" fill-opacity="0.76"/><ellipse cx="28.5" cy="762.5" rx="7.4" ry="6.2" fill-opacity="0.81"/><ellipse cx="173.7" cy="760.1" rx="12.3" ry="9.4" fill-opacity="0.68"/><ellipse cx="128.1" cy="771.1" rx="8.6" ry="6.2" fill-opacity="0.73"/><ellipse cx="204.4" cy="767.4" rx="5.4" ry="5.4" fill-opacity="0.65"/><ellipse cx="64.1" cy="769.9" rx="6.2" ry="4.9" fill-opacity="0.79"/><ellipse cx="103.5" cy="774.8" rx="7.4" ry="4.9" fill-opacity="0.75"/><ellipse cx="223.4" cy="579.2" rx="7.4" ry="5.4" fill-opacity="0.73"/><ellipse cx="245.5" cy="576.7" rx="6.2" ry="3.7" fill-opacity="0.72"/><ellipse cx="277.5" cy="584.1" rx="9.8" ry="6.9" fill-opacity="0.69"/><ellipse cx="307.1" cy="592.7" rx="9.4" ry="7.4" fill-opacity="0.67"/><ellipse cx="341.5" cy="579.2" rx="8.6" ry="6.9" fill-opacity="0.65"/><ellipse cx="227.1" cy="595.2" rx="6.9" ry="5.4" fill-opacity="0.72"/><ellipse cx="250.5" cy="592.7" rx="6.2" ry="4.9" fill-opacity="0.70"/><ellipse cx="287.4" cy="602.5" rx="5.4" ry="4.9" fill-opacity="0.67"/><ellipse cx="326.8" cy="602.5" rx="6.9" ry="6.2" fill-opacity="0.65"/><ellipse cx="351.4" cy="597.6" rx="7.4" ry="6.2" fill-opacity="0.63"/><ellipse cx="385.8" cy="608.7" rx="9.8" ry="7.4" fill-opacity="0.59"/><ellipse cx="423.6" cy="603.8" rx="13.2" ry="12.5" fill-opacity="0.54"/><ellipse cx="244.3" cy="608.7" rx="8.6" ry="7.4" fill-opacity="0.70"/><ellipse cx="268.9" cy="618.5" rx="8.6" ry="7.4" fill-opacity="0.67"/><ellipse cx="294.8" cy="614.8" rx="5.4" ry="4.9" fill-opacity="0.66"/><ellipse cx="316.9" cy="623.5" rx="6.9" ry="5.4" fill-opacity="0.64"/><ellipse cx="344.0" cy="612.4" rx="6.9" ry="5.4" fill-opacity="0.63"/><ellipse cx="369.8" cy="628.4" rx="9.8" ry="7.4" fill-opacity="0.59"/><ellipse cx="405.5" cy="622.2" rx="6.9" ry="6.2" fill-opacity="0.53"/><ellipse cx="248.0" cy="630.8" rx="6.2" ry="4.4" fill-opacity="0.68"/><ellipse cx="284.9" cy="635.8" rx="7.4" ry="6.2" fill-opacity="0.65"/><ellipse cx="346.4" cy="629.6" rx="8.6" ry="6.9" fill-opacity="0.61"/><ellipse cx="260.3" cy="646.8" rx="10.3" ry="7.9" fill-opacity="0.66"/><ellipse cx="305.8" cy="643.1" rx="6.9" ry="6.2" fill-opacity="0.63"/><ellipse cx="328.0" cy="644.4" rx="7.9" ry="6.9" fill-opacity="0.62"/><ellipse cx="373.5" cy="643.1" rx="6.2" ry="4.9" fill-opacity="0.56"/><ellipse cx="394.4" cy="641.9" rx="9.8" ry="7.9" fill-opacity="0.52"/><ellipse cx="423.0" cy="638.2" rx="10.4" ry="6.8" fill-opacity="0.48"/><ellipse cx="241.8" cy="665.3" rx="7.4" ry="5.4" fill-opacity="0.66"/><ellipse cx="286.1" cy="661.6" rx="8.6" ry="7.9" fill-opacity="0.63"/><ellipse cx="309.5" cy="661.6" rx="7.4" ry="6.2" fill-opacity="0.61"/><ellipse cx="334.1" cy="662.8" rx="8.6" ry="7.4" fill-opacity="0.60"/><ellipse cx="357.5" cy="653.0" rx="7.9" ry="6.2" fill-opacity="0.58"/><ellipse cx="366.1" cy="670.2" rx="9.8" ry="7.9" fill-opacity="0.53"/><ellipse cx="410.4" cy="661.6" rx="9.8" ry="7.9" fill-opacity="0.46"/><ellipse cx="230.8" cy="682.5" rx="7.9" ry="6.2" fill-opacity="0.66"/><ellipse cx="264.0" cy="678.8" rx="10.3" ry="8.6" fill-opacity="0.63"/><ellipse cx="316.9" cy="682.5" rx="9.8" ry="7.9" fill-opacity="0.59"/><ellipse cx="339.1" cy="688.7" rx="7.9" ry="6.9" fill-opacity="0.57"/><ellipse cx="293.5" cy="691.1" rx="6.9" ry="5.4" fill-opacity="0.60"/><ellipse cx="393.2" cy="673.9" rx="7.9" ry="6.2" fill-opacity="0.48"/><ellipse cx="360.0" cy="696.1" rx="9.4" ry="7.4" fill-opacity="0.52"/><ellipse cx="399.4" cy="697.3" rx="11.8" ry="9.8" fill-opacity="0.45"/><ellipse cx="245.5" cy="704.7" rx="9.4" ry="7.9" fill-opacity="0.63"/><ellipse cx="286.1" cy="715.8" rx="11.1" ry="9.4" fill-opacity="0.59"/><ellipse cx="314.4" cy="705.9" rx="10.3" ry="6.2" fill-opacity="0.58"/><ellipse cx="344.0" cy="715.8" rx="9.8" ry="7.9" fill-opacity="0.53"/><ellipse cx="379.7" cy="717.0" rx="9.8" ry="10.3" fill-opacity="0.47"/><ellipse cx="423.6" cy="694.8" rx="9.8" ry="6.8" fill-opacity="0.41"/><ellipse cx="262.8" cy="725.6" rx="9.8" ry="6.9" fill-opacity="0.61"/><ellipse cx="235.7" cy="742.8" rx="7.9" ry="6.2" fill-opacity="0.62"/><ellipse cx="324.3" cy="740.4" rx="11.8" ry="7.9" fill-opacity="0.56"/><ellipse cx="355.1" cy="736.7" rx="6.9" ry="5.4" fill-opacity="0.50"/><ellipse cx="379.7" cy="742.8" rx="7.4" ry="4.9" fill-opacity="0.46"/><ellipse cx="420.5" cy="728.1" rx="10.4" ry="9.1" fill-opacity="0.40"/><ellipse cx="275.1" cy="751.4" rx="12.3" ry="8.6" fill-opacity="0.59"/><ellipse cx="240.6" cy="762.5" rx="9.8" ry="7.4" fill-opacity="0.61"/><ellipse cx="361.2" cy="752.7" rx="4.9" ry="3.7" fill-opacity="0.49"/><ellipse cx="399.4" cy="756.4" rx="6.2" ry="5.4" fill-opacity="0.44"/><ellipse cx="303.4" cy="768.7" rx="8.6" ry="7.4" fill-opacity="0.57"/><ellipse cx="331.7" cy="767.4" rx="7.4" ry="5.4" fill-opacity="0.54"/><ellipse cx="368.6" cy="769.9" rx="8.6" ry="6.2" fill-opacity="0.49"/><ellipse cx="268.9" cy="773.6" rx="7.4" ry="4.4" fill-opacity="0.59"/><ellipse cx="222.2" cy="760.1" rx="4.9" ry="4.9" fill-opacity="0.63"/><ellipse cx="438.0" cy="576.7" rx="8.6" ry="4.9" fill-opacity="0.59"/><ellipse cx="531.5" cy="575.5" rx="6.2" ry="3.7" fill-opacity="0.53"/><ellipse cx="575.8" cy="576.7" rx="8.6" ry="6.2" fill-opacity="0.53"/><ellipse cx="550.0" cy="581.6" rx="7.4" ry="6.9" fill-opacity="0.51"/><ellipse cx="462.6" cy="597.6" rx="9.4" ry="8.6" fill-opacity="0.52"/><ellipse cx="500.8" cy="598.8" rx="11.1" ry="9.8" fill-opacity="0.49"/><ellipse cx="534.0" cy="593.9" rx="8.6" ry="6.9" fill-opacity="0.49"/><ellipse cx="561.1" cy="597.6" rx="7.4" ry="6.2" fill-opacity="0.47"/><ellipse cx="580.7" cy="593.9" rx="5.4" ry="4.9" fill-opacity="0.49"/><ellipse cx="600.4" cy="592.7" rx="8.6" ry="8.6" fill-opacity="0.50"/><ellipse cx="621.4" cy="595.2" rx="6.2" ry="6.2" fill-opacity="0.52"/><ellipse cx="525.4" cy="607.5" rx="4.9" ry="4.4" fill-opacity="0.46"/><ellipse cx="540.1" cy="623.5" rx="10.3" ry="7.9" fill-opacity="0.41"/><ellipse cx="567.2" cy="628.4" rx="6.9" ry="7.4" fill-opacity="0.40"/><ellipse cx="583.2" cy="617.3" rx="7.4" ry="6.9" fill-opacity="0.43"/><ellipse cx="610.3" cy="621.0" rx="7.4" ry="7.4" fill-opacity="0.45"/><ellipse cx="623.8" cy="609.9" rx="4.9" ry="6.2" fill-opacity="0.49"/><ellipse cx="462.6" cy="632.1" rx="10.3" ry="8.6" fill-opacity="0.45"/><ellipse cx="498.3" cy="634.5" rx="10.3" ry="9.4" fill-opacity="0.41"/><ellipse cx="535.2" cy="648.1" rx="7.9" ry="6.9" fill-opacity="0.36"/><ellipse cx="583.2" cy="641.9" rx="6.9" ry="5.4" fill-opacity="0.38"/><ellipse cx="604.1" cy="635.8" rx="4.4" ry="3.7" fill-opacity="0.41"/><ellipse cx="600.4" cy="654.2" rx="5.4" ry="4.9" fill-opacity="0.38"/><ellipse cx="620.1" cy="651.8" rx="6.2" ry="6.9" fill-opacity="0.41"/><ellipse cx="440.5" cy="656.7" rx="8.6" ry="7.4" fill-opacity="0.43"/><ellipse cx="471.2" cy="657.9" rx="8.6" ry="6.9" fill-opacity="0.39"/><ellipse cx="510.6" cy="662.8" rx="9.8" ry="7.9" fill-opacity="0.35"/><ellipse cx="546.3" cy="669.0" rx="5.4" ry="4.9" fill-opacity="0.32"/><ellipse cx="574.6" cy="662.8" rx="9.4" ry="6.9" fill-opacity="0.34"/><ellipse cx="473.7" cy="678.8" rx="8.6" ry="6.9" fill-opacity="0.36"/><ellipse cx="527.8" cy="683.8" rx="7.9" ry="5.4" fill-opacity="0.30"/><ellipse cx="600.4" cy="677.6" rx="6.9" ry="6.2" fill-opacity="0.35"/><ellipse cx="623.8" cy="686.2" rx="4.4" ry="6.9" fill-opacity="0.38"/><ellipse cx="456.5" cy="694.8" rx="11.8" ry="9.4" fill-opacity="0.36"/><ellipse cx="572.1" cy="692.4" rx="12.3" ry="7.4" fill-opacity="0.30"/><ellipse cx="505.7" cy="708.4" rx="9.4" ry="8.6" fill-opacity="0.29"/><ellipse cx="536.4" cy="707.1" rx="5.4" ry="4.4" fill-opacity="0.27"/><ellipse cx="440.5" cy="712.1" rx="6.9" ry="5.4" fill-opacity="0.38"/><ellipse cx="558.6" cy="715.8" rx="6.2" ry="6.2" fill-opacity="0.26"/><ellipse cx="455.2" cy="726.8" rx="7.4" ry="6.2" fill-opacity="0.35"/><ellipse cx="531.5" cy="734.2" rx="6.9" ry="6.2" fill-opacity="0.25"/><ellipse cx="604.1" cy="730.5" rx="6.9" ry="7.4" fill-opacity="0.31"/><ellipse cx="503.2" cy="737.9" rx="4.9" ry="3.7" fill-opacity="0.28"/><ellipse cx="473.7" cy="740.4" rx="4.9" ry="4.4" fill-opacity="0.32"/><ellipse cx="445.4" cy="751.4" rx="5.4" ry="4.4" fill-opacity="0.37"/><ellipse cx="425.7" cy="753.9" rx="4.4" ry="4.9" fill-opacity="0.40"/><ellipse cx="467.5" cy="768.7" rx="6.2" ry="4.4" fill-opacity="0.34"/><ellipse cx="495.8" cy="771.1" rx="4.9" ry="3.7" fill-opacity="0.29"/></g>
<ellipse cx="84" cy="556" rx="3.6" ry="3" fill="#8a8a8a" filter="url(#bl)"/>
<g fill="#ddd"><circle cx="352.6" cy="567.8" r="1.3"/><circle cx="313.2" cy="579.2" r="1.3"/><circle cx="316.9" cy="632" r="1.4"/><circle cx="276.3" cy="690.6" r="1.2"/><circle cx="456.5" cy="772.4" r="1.8"/><circle cx="246" cy="418" r="1.0"/><circle cx="277" cy="471" r="1.0"/><circle cx="375" cy="567" r="1.0"/><circle cx="404" cy="444" r="1.0"/><circle cx="433" cy="570" r="1.2"/></g></g>
<rect x="488.5" y="744.5" width="126" height="5" fill="#222"/>
<rect x="489" y="745" width="25" height="4" fill="#000"/>
<rect x="514" y="745" width="25" height="4" fill="#ddd"/>
<rect x="539" y="745" width="25" height="4" fill="#000"/>
<rect x="564" y="745" width="25" height="4" fill="#ddd"/>
<rect x="589" y="745" width="25" height="4" fill="#000"/>
<text x="0" y="0" font-family="Liberation Sans" font-weight="700" font-size="20.5" text-anchor="middle" fill="#9a9a9a" stroke="#2a2a2a" stroke-width="1.2" transform="translate(551.3 769) scale(1.12 1)">1 µm</text>
</svg>
</body></html>
